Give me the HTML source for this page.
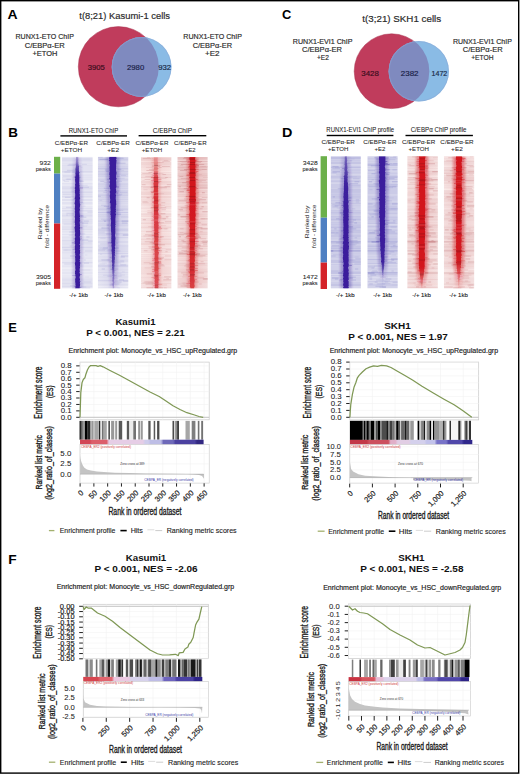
<!DOCTYPE html>
<html><head><meta charset="utf-8"><title>Figure</title>
<style>html,body{margin:0;padding:0;background:#fff;width:520px;height:775px;overflow:hidden}svg{display:block}text{font-family:"Liberation Sans",sans-serif}</style>
</head><body>
<svg width="520" height="775" viewBox="0 0 520 775" font-family="Liberation Sans, sans-serif">
<rect x="0" y="0" width="520" height="775" fill="#fff"/>
<text x="7.50" y="18.75" font-size="12" font-weight="bold" fill="#000" textLength="10.10" lengthAdjust="spacingAndGlyphs" >A</text>
<text x="8.30" y="137.00" font-size="12" font-weight="bold" fill="#000" textLength="9.70" lengthAdjust="spacingAndGlyphs" >B</text>
<text x="282.10" y="19.20" font-size="12" font-weight="bold" fill="#000" textLength="9.30" lengthAdjust="spacingAndGlyphs" >C</text>
<text x="282.00" y="137.00" font-size="12" font-weight="bold" fill="#000" textLength="10.40" lengthAdjust="spacingAndGlyphs" >D</text>
<text x="8.30" y="331.75" font-size="12" font-weight="bold" fill="#000" textLength="8.60" lengthAdjust="spacingAndGlyphs" >E</text>
<text x="8.30" y="564.25" font-size="12" font-weight="bold" fill="#000" textLength="8.40" lengthAdjust="spacingAndGlyphs" >F</text>
<circle cx="118.4" cy="66.7" r="40.1" fill="#c03c5c" stroke="#a8304e" stroke-width="0.7" stroke-opacity="0.7"/>
<circle cx="141.6" cy="67.0" r="29.9" fill="#8abbe5"/>
<clipPath id="cp118"><circle cx="118.4" cy="66.7" r="40.4"/></clipPath>
<circle cx="141.6" cy="67.0" r="29.9" fill="#7f8abf" clip-path="url(#cp118)"/>
<circle cx="141.6" cy="67.0" r="29.4" fill="none" stroke="#8ea6d4" stroke-width="0.8" opacity="0.6"/>
<circle cx="391.6" cy="71.2" r="37.400000000000006" fill="#c03c5c" stroke="#a8304e" stroke-width="0.7" stroke-opacity="0.7"/>
<circle cx="418.8" cy="71.3" r="30.2" fill="#8abbe5"/>
<clipPath id="cp391"><circle cx="391.6" cy="71.2" r="37.7"/></clipPath>
<circle cx="418.8" cy="71.3" r="30.2" fill="#7f8abf" clip-path="url(#cp391)"/>
<circle cx="418.8" cy="71.3" r="29.7" fill="none" stroke="#8ea6d4" stroke-width="0.8" opacity="0.6"/>
<text x="79.32" y="19.10" font-size="9.6" font-weight="normal" fill="#2a2a2a" textLength="90.76" lengthAdjust="spacingAndGlyphs"  stroke="#2a2a2a" stroke-width="0.18">t(8;21) Kasumi-1 cells</text>
<text x="362.32" y="21.80" font-size="9.6" font-weight="normal" fill="#2a2a2a" textLength="78.86" lengthAdjust="spacingAndGlyphs"  stroke="#2a2a2a" stroke-width="0.18">t(3;21) SKH1 cells</text>
<text x="15.50" y="39.40" font-size="8" font-weight="normal" fill="#2a2a2a" textLength="58.40" lengthAdjust="spacingAndGlyphs"  stroke="#2a2a2a" stroke-width="0.18">RUNX1-ETO ChIP</text>
<text x="24.70" y="47.80" font-size="8" font-weight="normal" fill="#2a2a2a" textLength="40.00" lengthAdjust="spacingAndGlyphs"  stroke="#2a2a2a" stroke-width="0.18">C/EBPα-ER</text>
<text x="32.50" y="56.20" font-size="8" font-weight="normal" fill="#2a2a2a" textLength="25.00" lengthAdjust="spacingAndGlyphs"  stroke="#2a2a2a" stroke-width="0.18">+ETOH</text>
<text x="183.30" y="39.30" font-size="8" font-weight="normal" fill="#2a2a2a" textLength="58.60" lengthAdjust="spacingAndGlyphs"  stroke="#2a2a2a" stroke-width="0.18">RUNX1-ETO ChIP</text>
<text x="192.70" y="47.50" font-size="8" font-weight="normal" fill="#2a2a2a" textLength="39.40" lengthAdjust="spacingAndGlyphs"  stroke="#2a2a2a" stroke-width="0.18">C/EBPα-ER</text>
<text x="205.10" y="55.70" font-size="8" font-weight="normal" fill="#2a2a2a" textLength="14.50" lengthAdjust="spacingAndGlyphs"  stroke="#2a2a2a" stroke-width="0.18">+E2</text>
<text x="292.80" y="43.80" font-size="8" font-weight="normal" fill="#2a2a2a" textLength="59.70" lengthAdjust="spacingAndGlyphs"  stroke="#2a2a2a" stroke-width="0.18">RUNX1-EVI1 ChIP</text>
<text x="302.00" y="52.00" font-size="8" font-weight="normal" fill="#2a2a2a" textLength="40.00" lengthAdjust="spacingAndGlyphs"  stroke="#2a2a2a" stroke-width="0.18">C/EBPα-ER</text>
<text x="317.00" y="60.20" font-size="8" font-weight="normal" fill="#2a2a2a" textLength="11.90" lengthAdjust="spacingAndGlyphs"  stroke="#2a2a2a" stroke-width="0.18">+E2</text>
<text x="452.90" y="43.80" font-size="8" font-weight="normal" fill="#2a2a2a" textLength="59.00" lengthAdjust="spacingAndGlyphs"  stroke="#2a2a2a" stroke-width="0.18">RUNX1-EVI1 ChIP</text>
<text x="462.70" y="52.00" font-size="8" font-weight="normal" fill="#2a2a2a" textLength="40.00" lengthAdjust="spacingAndGlyphs"  stroke="#2a2a2a" stroke-width="0.18">C/EBPα-ER</text>
<text x="471.20" y="60.20" font-size="8" font-weight="normal" fill="#2a2a2a" textLength="22.40" lengthAdjust="spacingAndGlyphs"  stroke="#2a2a2a" stroke-width="0.18">+ETOH</text>
<text x="87.72" y="69.80" font-size="7.6" font-weight="normal" fill="#3a0d1c" textLength="17.06" lengthAdjust="spacingAndGlyphs"  stroke="#3a0d1c" stroke-width="0.18">3905</text>
<text x="127.02" y="69.80" font-size="7.6" font-weight="normal" fill="#1a1f48" textLength="17.16" lengthAdjust="spacingAndGlyphs"  stroke="#1a1f48" stroke-width="0.18">2980</text>
<text x="158.22" y="69.80" font-size="7.6" font-weight="normal" fill="#1a2a48" textLength="12.86" lengthAdjust="spacingAndGlyphs"  stroke="#1a2a48" stroke-width="0.18">932</text>
<text x="361.32" y="76.40" font-size="7.6" font-weight="normal" fill="#3a0d1c" textLength="17.56" lengthAdjust="spacingAndGlyphs"  stroke="#3a0d1c" stroke-width="0.18">3428</text>
<text x="400.82" y="76.40" font-size="7.6" font-weight="normal" fill="#1a1f48" textLength="17.66" lengthAdjust="spacingAndGlyphs"  stroke="#1a1f48" stroke-width="0.18">2382</text>
<text x="431.52" y="76.40" font-size="7.6" font-weight="normal" fill="#1a2a48" textLength="15.76" lengthAdjust="spacingAndGlyphs"  stroke="#1a2a48" stroke-width="0.18">1472</text>
<text x="68.66" y="132.50" font-size="6.8" font-weight="normal" fill="#222" textLength="49.48" lengthAdjust="spacingAndGlyphs"  stroke="#222" stroke-width="0.06">RUNX1-ETO ChIP</text>
<rect x="60.40" y="135.20" width="66.60" height="1.40" fill="#000" />
<text x="152.86" y="132.60" font-size="6.8" font-weight="normal" fill="#222" textLength="39.18" lengthAdjust="spacingAndGlyphs"  stroke="#222" stroke-width="0.06">C/EBPα ChIP</text>
<rect x="138.60" y="135.00" width="67.70" height="1.40" fill="#000" />
<text x="326.37" y="132.30" font-size="6.6" font-weight="normal" fill="#222" textLength="67.66" lengthAdjust="spacingAndGlyphs"  stroke="#222" stroke-width="0.06">RUNX1-EVI1 ChIP profile</text>
<rect x="326.70" y="134.80" width="66.70" height="1.40" fill="#000" />
<text x="410.67" y="131.80" font-size="6.6" font-weight="normal" fill="#222" textLength="55.86" lengthAdjust="spacingAndGlyphs"  stroke="#222" stroke-width="0.06">C/EBPα ChIP profile</text>
<rect x="405.50" y="134.80" width="67.40" height="1.40" fill="#000" />
<text x="54.89" y="145.10" font-size="6.2" font-weight="normal" fill="#222" textLength="33.12" lengthAdjust="spacingAndGlyphs"  stroke="#222" stroke-width="0.06">C/EBPα-ER</text>
<text x="60.74" y="152.00" font-size="6.2" font-weight="normal" fill="#222" textLength="21.42" lengthAdjust="spacingAndGlyphs"  stroke="#222" stroke-width="0.06">+ETOH</text>
<text x="96.39" y="145.10" font-size="6.2" font-weight="normal" fill="#222" textLength="33.52" lengthAdjust="spacingAndGlyphs"  stroke="#222" stroke-width="0.06">C/EBPα-ER</text>
<text x="107.24" y="152.00" font-size="6.2" font-weight="normal" fill="#222" textLength="11.82" lengthAdjust="spacingAndGlyphs"  stroke="#222" stroke-width="0.06">+E2</text>
<text x="135.49" y="145.40" font-size="6.2" font-weight="normal" fill="#222" textLength="33.02" lengthAdjust="spacingAndGlyphs"  stroke="#222" stroke-width="0.06">C/EBPα-ER</text>
<text x="141.69" y="152.30" font-size="6.2" font-weight="normal" fill="#222" textLength="20.62" lengthAdjust="spacingAndGlyphs"  stroke="#222" stroke-width="0.06">+ETOH</text>
<text x="173.99" y="145.40" font-size="6.2" font-weight="normal" fill="#222" textLength="32.62" lengthAdjust="spacingAndGlyphs"  stroke="#222" stroke-width="0.06">C/EBPα-ER</text>
<text x="184.99" y="152.30" font-size="6.2" font-weight="normal" fill="#222" textLength="10.62" lengthAdjust="spacingAndGlyphs"  stroke="#222" stroke-width="0.06">+E2</text>
<text x="321.59" y="144.40" font-size="6.2" font-weight="normal" fill="#222" textLength="33.32" lengthAdjust="spacingAndGlyphs"  stroke="#222" stroke-width="0.06">C/EBPα-ER</text>
<text x="328.09" y="151.20" font-size="6.2" font-weight="normal" fill="#222" textLength="20.32" lengthAdjust="spacingAndGlyphs"  stroke="#222" stroke-width="0.06">+ETOH</text>
<text x="363.39" y="144.40" font-size="6.2" font-weight="normal" fill="#222" textLength="33.02" lengthAdjust="spacingAndGlyphs"  stroke="#222" stroke-width="0.06">C/EBPα-ER</text>
<text x="374.49" y="151.20" font-size="6.2" font-weight="normal" fill="#222" textLength="10.82" lengthAdjust="spacingAndGlyphs"  stroke="#222" stroke-width="0.06">+E2</text>
<text x="402.09" y="143.70" font-size="6.2" font-weight="normal" fill="#222" textLength="33.22" lengthAdjust="spacingAndGlyphs"  stroke="#222" stroke-width="0.06">C/EBPα-ER</text>
<text x="408.54" y="150.80" font-size="6.2" font-weight="normal" fill="#222" textLength="20.32" lengthAdjust="spacingAndGlyphs"  stroke="#222" stroke-width="0.06">+ETOH</text>
<text x="440.39" y="143.70" font-size="6.2" font-weight="normal" fill="#222" textLength="33.22" lengthAdjust="spacingAndGlyphs"  stroke="#222" stroke-width="0.06">C/EBPα-ER</text>
<text x="451.14" y="150.80" font-size="6.2" font-weight="normal" fill="#222" textLength="11.72" lengthAdjust="spacingAndGlyphs"  stroke="#222" stroke-width="0.06">+E2</text>
<text x="39.50" y="165.00" font-size="6.0" font-weight="normal" fill="#222" textLength="11.40" lengthAdjust="spacingAndGlyphs"  stroke="#222" stroke-width="0.06">932</text>
<text x="35.80" y="171.00" font-size="6.0" font-weight="normal" fill="#222" textLength="15.10" lengthAdjust="spacingAndGlyphs"  stroke="#222" stroke-width="0.06">peaks</text>
<text x="35.90" y="279.30" font-size="6.0" font-weight="normal" fill="#222" textLength="15.00" lengthAdjust="spacingAndGlyphs"  stroke="#222" stroke-width="0.06">3905</text>
<text x="35.80" y="285.20" font-size="6.0" font-weight="normal" fill="#222" textLength="15.10" lengthAdjust="spacingAndGlyphs"  stroke="#222" stroke-width="0.06">peaks</text>
<text x="302.70" y="165.00" font-size="6.0" font-weight="normal" fill="#222" textLength="15.00" lengthAdjust="spacingAndGlyphs"  stroke="#222" stroke-width="0.06">3428</text>
<text x="302.60" y="171.00" font-size="6.0" font-weight="normal" fill="#222" textLength="15.10" lengthAdjust="spacingAndGlyphs"  stroke="#222" stroke-width="0.06">peaks</text>
<text x="302.70" y="279.00" font-size="6.0" font-weight="normal" fill="#222" textLength="15.00" lengthAdjust="spacingAndGlyphs"  stroke="#222" stroke-width="0.06">1472</text>
<text x="302.60" y="285.00" font-size="6.0" font-weight="normal" fill="#222" textLength="15.10" lengthAdjust="spacingAndGlyphs"  stroke="#222" stroke-width="0.06">peaks</text>
<text transform="translate(42.00,239.30) rotate(-90)" x="0" y="0" font-size="6.0" font-weight="normal" fill="#222" textLength="31.60" lengthAdjust="spacingAndGlyphs" >Ranked by</text>
<text transform="translate(48.80,248.00) rotate(-90)" x="0" y="0" font-size="6.0" font-weight="normal" fill="#222" textLength="43.10" lengthAdjust="spacingAndGlyphs" >fold - difference</text>
<text transform="translate(308.80,238.30) rotate(-90)" x="0" y="0" font-size="6.0" font-weight="normal" fill="#222" textLength="32.60" lengthAdjust="spacingAndGlyphs" >Ranked by</text>
<text transform="translate(316.00,248.00) rotate(-90)" x="0" y="0" font-size="6.0" font-weight="normal" fill="#222" textLength="43.30" lengthAdjust="spacingAndGlyphs" >fold - difference</text>
<rect x="54.00" y="156.80" width="6.20" height="16.80" fill="#6cb04a" />
<rect x="54.00" y="173.60" width="6.20" height="49.90" fill="#4f80c2" />
<rect x="54.00" y="223.50" width="6.20" height="65.30" fill="#d42329" />
<rect x="320.60" y="156.20" width="6.40" height="61.50" fill="#6cb04a" />
<rect x="320.60" y="217.70" width="6.40" height="44.90" fill="#4f80c2" />
<rect x="320.60" y="262.60" width="6.40" height="26.40" fill="#d42329" />
<text x="69.31" y="297.40" font-size="5.8" font-weight="normal" fill="#222" textLength="18.58" lengthAdjust="spacingAndGlyphs"  stroke="#222" stroke-width="0.12">-/+ 1kb</text>
<text x="104.56" y="297.40" font-size="5.8" font-weight="normal" fill="#222" textLength="18.58" lengthAdjust="spacingAndGlyphs"  stroke="#222" stroke-width="0.12">-/+ 1kb</text>
<text x="147.21" y="297.40" font-size="5.8" font-weight="normal" fill="#222" textLength="18.58" lengthAdjust="spacingAndGlyphs"  stroke="#222" stroke-width="0.12">-/+ 1kb</text>
<text x="183.11" y="297.40" font-size="5.8" font-weight="normal" fill="#222" textLength="18.58" lengthAdjust="spacingAndGlyphs"  stroke="#222" stroke-width="0.12">-/+ 1kb</text>
<text x="336.11" y="297.40" font-size="5.8" font-weight="normal" fill="#222" textLength="18.58" lengthAdjust="spacingAndGlyphs"  stroke="#222" stroke-width="0.12">-/+ 1kb</text>
<text x="373.31" y="297.40" font-size="5.8" font-weight="normal" fill="#222" textLength="18.58" lengthAdjust="spacingAndGlyphs"  stroke="#222" stroke-width="0.12">-/+ 1kb</text>
<text x="412.21" y="297.40" font-size="5.8" font-weight="normal" fill="#222" textLength="18.58" lengthAdjust="spacingAndGlyphs"  stroke="#222" stroke-width="0.12">-/+ 1kb</text>
<text x="449.21" y="297.40" font-size="5.8" font-weight="normal" fill="#222" textLength="18.58" lengthAdjust="spacingAndGlyphs"  stroke="#222" stroke-width="0.12">-/+ 1kb</text>
<filter id="hblur" x="-20%" y="-2%" width="140%" height="104%"><feGaussianBlur stdDeviation="0.55"/></filter>
<filter id="hitblur" x="-2%" y="-5%" width="104%" height="110%"><feGaussianBlur stdDeviation="0.3 0"/></filter>
<filter id="hblur2" x="-30%" y="-2%" width="160%" height="104%"><feGaussianBlur stdDeviation="1.2"/></filter>
<linearGradient id="bg_b1" x1="0" y1="0" x2="0" y2="1"><stop offset="0.000" stop-color="#3a1f9c" stop-opacity="0.300"/><stop offset="0.040" stop-color="#3a1f9c" stop-opacity="0.450"/><stop offset="0.080" stop-color="#3a1f9c" stop-opacity="0.750"/><stop offset="0.140" stop-color="#3a1f9c" stop-opacity="1.000"/><stop offset="0.250" stop-color="#3a1f9c" stop-opacity="1.000"/><stop offset="0.400" stop-color="#3a1f9c" stop-opacity="1.000"/><stop offset="0.700" stop-color="#3a1f9c" stop-opacity="1.000"/><stop offset="1.000" stop-color="#3a1f9c" stop-opacity="1.000"/></linearGradient>
<linearGradient id="hg_b1" x1="0" y1="0" x2="0" y2="1"><stop offset="0.000" stop-color="#3a1f9c" stop-opacity="0.075"/><stop offset="0.040" stop-color="#3a1f9c" stop-opacity="0.113"/><stop offset="0.080" stop-color="#3a1f9c" stop-opacity="0.188"/><stop offset="0.140" stop-color="#3a1f9c" stop-opacity="0.250"/><stop offset="0.250" stop-color="#3a1f9c" stop-opacity="0.250"/><stop offset="0.400" stop-color="#3a1f9c" stop-opacity="0.250"/><stop offset="0.700" stop-color="#3a1f9c" stop-opacity="0.250"/><stop offset="1.000" stop-color="#3a1f9c" stop-opacity="0.250"/></linearGradient>
<clipPath id="cl_b1"><rect x="62.0" y="156.8" width="30.799999999999997" height="131.59999999999997"/></clipPath>
<g clip-path="url(#cl_b1)"><g filter="url(#hblur)">
<path d="M62.0 181.72h30.8v1.05h-30.8zM62.0 197.68h30.8v1.05h-30.8zM62.0 200.67h30.8v1.05h-30.8zM62.0 204.65h30.8v1.05h-30.8zM62.0 217.62h30.8v1.05h-30.8zM62.0 267.46h30.8v1.05h-30.8zM62.0 274.44h30.8v1.05h-30.8zM62.0 276.44h30.8v1.05h-30.8z" fill="#eeeef6"/>
<path d="M62.0 156.80h30.8v1.05h-30.8zM62.0 172.75h30.8v1.05h-30.8zM62.0 180.73h30.8v1.05h-30.8zM62.0 184.72h30.8v1.05h-30.8zM74.4 197.68h7.0v1.05h-7.0zM62.0 206.65h30.8v1.05h-30.8zM62.0 208.64h30.8v1.05h-30.8zM62.0 211.63h30.8v1.05h-30.8zM62.0 223.60h30.8v1.05h-30.8zM62.0 224.59h30.8v1.05h-30.8zM62.0 227.58h30.8v1.05h-30.8zM62.0 229.58h30.8v1.05h-30.8zM62.0 230.58h30.8v1.05h-30.8zM62.0 232.57h30.8v1.05h-30.8zM62.0 235.56h30.8v1.05h-30.8zM62.0 254.50h30.8v1.05h-30.8zM62.0 256.50h30.8v1.05h-30.8zM62.0 259.49h30.8v1.05h-30.8zM62.0 260.48h30.8v1.05h-30.8zM62.0 264.47h30.8v1.05h-30.8zM62.0 268.46h30.8v1.05h-30.8zM62.0 269.46h30.8v1.05h-30.8zM62.0 270.45h30.8v1.05h-30.8zM84.6 276.44h4.8v1.05h-4.8z" fill="#e8e8f3"/>
<path d="M62.0 161.78h30.8v1.05h-30.8zM62.0 163.78h30.8v1.05h-30.8zM62.0 165.77h30.8v1.05h-30.8zM62.0 166.77h30.8v1.05h-30.8zM62.0 167.77h30.8v1.05h-30.8zM62.0 168.76h30.8v1.05h-30.8zM62.0 169.76h30.8v1.05h-30.8zM62.0 173.75h30.8v1.05h-30.8zM62.0 175.74h30.8v1.05h-30.8zM62.0 177.74h30.8v1.05h-30.8zM62.0 179.73h30.8v1.05h-30.8zM62.0 183.72h30.8v1.05h-30.8zM62.0 189.70h30.8v1.05h-30.8zM62.0 192.69h30.8v1.05h-30.8zM62.0 194.68h30.8v1.05h-30.8zM62.0 202.66h30.8v1.05h-30.8zM62.0 203.66h30.8v1.05h-30.8zM62.0 205.65h30.8v1.05h-30.8zM62.0 213.63h30.8v1.05h-30.8zM62.0 216.62h30.8v1.05h-30.8zM62.0 219.61h30.8v1.05h-30.8zM62.0 221.60h30.8v1.05h-30.8zM80.4 224.59h7.9v1.05h-7.9zM62.0 225.59h30.8v1.05h-30.8zM70.9 230.58h5.3v1.05h-5.3zM62.0 233.57h30.8v1.05h-30.8zM62.0 234.56h30.8v1.05h-30.8zM62.0 238.55h30.8v1.05h-30.8zM62.0 242.54h30.8v1.05h-30.8zM62.0 243.54h30.8v1.05h-30.8zM62.0 244.53h30.8v1.05h-30.8zM62.0 248.52h30.8v1.05h-30.8zM62.0 249.52h30.8v1.05h-30.8zM62.0 251.51h30.8v1.05h-30.8zM62.0 252.51h30.8v1.05h-30.8zM84.9 254.50h2.5v1.05h-2.5zM62.0 258.49h30.8v1.05h-30.8zM62.0 263.48h30.8v1.05h-30.8zM62.0 266.47h30.8v1.05h-30.8zM62.0 271.45h30.8v1.05h-30.8zM62.0 273.45h30.8v1.05h-30.8zM62.0 278.43h30.8v1.05h-30.8zM62.0 280.42h30.8v1.05h-30.8zM62.0 287.40h30.8v1.05h-30.8z" fill="#e2e2f1"/>
<path d="M62.0 157.80h30.8v1.05h-30.8zM62.0 158.79h30.8v1.05h-30.8zM62.0 159.79h30.8v1.05h-30.8zM62.0 160.79h30.8v1.05h-30.8zM62.0 162.78h30.8v1.05h-30.8zM62.0 174.75h30.8v1.05h-30.8zM63.0 175.74h8.7v1.05h-8.7zM62.0 176.74h30.8v1.05h-30.8zM62.0 178.73h30.8v1.05h-30.8zM63.9 180.73h5.2v1.05h-5.2zM62.0 182.72h30.8v1.05h-30.8zM78.7 184.72h9.0v1.05h-9.0zM62.0 185.71h30.8v1.05h-30.8zM62.0 187.71h30.8v1.05h-30.8zM62.0 188.70h30.8v1.05h-30.8zM62.0 190.70h30.8v1.05h-30.8zM62.0 193.69h30.8v1.05h-30.8zM62.0 195.68h30.8v1.05h-30.8zM62.0 196.68h30.8v1.05h-30.8zM62.0 198.67h30.8v1.05h-30.8zM62.0 201.66h30.8v1.05h-30.8zM83.2 205.65h2.4v1.05h-2.4zM62.0 209.64h30.8v1.05h-30.8zM62.0 210.64h30.8v1.05h-30.8zM87.4 211.63h5.4v1.05h-5.4zM62.0 212.63h30.8v1.05h-30.8zM62.0 214.62h30.8v1.05h-30.8zM62.0 215.62h30.8v1.05h-30.8zM62.0 218.61h30.8v1.05h-30.8zM62.0 220.61h30.8v1.05h-30.8zM72.5 221.60h6.8v1.05h-6.8zM62.0 222.60h30.8v1.05h-30.8zM66.5 223.60h3.1v1.05h-3.1zM63.6 223.60h8.7v1.05h-8.7zM64.5 223.60h4.7v1.05h-4.7zM82.7 225.59h4.3v1.05h-4.3zM62.0 226.59h30.8v1.05h-30.8zM62.0 231.57h30.8v1.05h-30.8zM62.0 237.55h30.8v1.05h-30.8zM62.0 239.55h30.8v1.05h-30.8zM62.0 240.55h30.8v1.05h-30.8zM83.2 242.54h8.4v1.05h-8.4zM78.3 243.54h5.2v1.05h-5.2zM62.0 245.53h30.8v1.05h-30.8zM62.0 250.52h30.8v1.05h-30.8zM62.0 253.51h30.8v1.05h-30.8zM62.0 255.50h30.8v1.05h-30.8zM62.0 261.48h30.8v1.05h-30.8zM62.0 262.48h30.8v1.05h-30.8zM62.0 265.47h30.8v1.05h-30.8zM81.4 269.46h8.9v1.05h-8.9zM62.0 272.45h30.8v1.05h-30.8zM62.0 275.44h30.8v1.05h-30.8zM74.4 278.43h4.6v1.05h-4.6zM62.0 282.42h30.8v1.05h-30.8zM62.0 283.42h30.8v1.05h-30.8zM62.0 285.41h30.8v1.05h-30.8zM62.0 286.41h30.8v1.05h-30.8zM71.9 287.40h7.0v1.05h-7.0z" fill="#dcdcee"/>
<path d="M83.2 158.79h6.9v1.05h-6.9zM82.1 163.78h4.8v1.05h-4.8zM62.0 164.78h30.8v1.05h-30.8zM80.5 166.77h2.1v1.05h-2.1zM73.0 168.76h3.5v1.05h-3.5zM62.0 171.75h30.8v1.05h-30.8zM62.9 179.73h2.1v1.05h-2.1zM78.7 180.73h5.4v1.05h-5.4zM62.0 186.71h30.8v1.05h-30.8zM69.9 187.71h6.7v1.05h-6.7zM71.2 190.70h8.3v1.05h-8.3zM62.8 193.69h8.1v1.05h-8.1zM62.0 199.67h30.8v1.05h-30.8zM73.5 205.65h5.9v1.05h-5.9zM65.9 206.65h5.6v1.05h-5.6zM62.0 207.65h30.8v1.05h-30.8zM73.4 213.63h7.7v1.05h-7.7zM68.8 214.62h6.9v1.05h-6.9zM76.9 221.60h4.5v1.05h-4.5zM62.0 228.58h30.8v1.05h-30.8zM78.1 233.57h7.2v1.05h-7.2zM68.8 234.56h3.9v1.05h-3.9zM62.0 236.56h30.8v1.05h-30.8zM87.9 240.55h4.9v1.05h-4.9zM62.0 241.54h30.8v1.05h-30.8zM62.0 246.53h30.8v1.05h-30.8zM62.0 247.52h30.8v1.05h-30.8zM63.6 249.52h3.9v1.05h-3.9zM63.0 249.52h3.6v1.05h-3.6zM62.0 257.49h30.8v1.05h-30.8zM83.7 259.49h2.2v1.05h-2.2zM64.1 263.48h7.2v1.05h-7.2zM74.8 265.47h7.6v1.05h-7.6zM62.0 277.43h30.8v1.05h-30.8zM62.0 281.42h30.8v1.05h-30.8zM62.0 284.41h30.8v1.05h-30.8z" fill="#d7d7ec"/>
<path d="M68.6 163.78h7.3v1.05h-7.3zM66.9 169.76h9.0v1.05h-9.0zM62.0 170.76h30.8v1.05h-30.8zM64.4 171.75h6.1v1.05h-6.1zM71.7 171.75h6.4v1.05h-6.4zM65.6 178.73h5.2v1.05h-5.2zM77.7 186.71h5.4v1.05h-5.4zM62.0 191.69h30.8v1.05h-30.8zM76.3 210.64h3.9v1.05h-3.9zM66.4 212.63h8.5v1.05h-8.5zM66.1 214.62h2.1v1.05h-2.1zM78.6 216.62h7.8v1.05h-7.8zM75.2 221.60h7.3v1.05h-7.3zM69.1 231.57h8.7v1.05h-8.7zM69.6 245.53h2.9v1.05h-2.9zM64.3 249.52h6.7v1.05h-6.7zM84.8 250.52h7.6v1.05h-7.6zM78.6 263.48h3.0v1.05h-3.0zM62.0 279.43h30.8v1.05h-30.8zM83.5 281.42h7.9v1.05h-7.9zM82.2 287.40h8.0v1.05h-8.0z" fill="#d1d1e9"/>
<path d="M67.5 164.78h8.4v1.05h-8.4zM74.5 176.74h6.6v1.05h-6.6zM66.6 178.73h4.6v1.05h-4.6zM82.4 186.71h6.6v1.05h-6.6zM64.9 196.68h5.7v1.05h-5.7zM76.4 201.66h6.6v1.05h-6.6zM81.1 215.62h2.9v1.05h-2.9zM83.8 220.61h5.0v1.05h-5.0zM81.9 222.60h6.3v1.05h-6.3zM86.4 236.56h3.1v1.05h-3.1zM82.2 239.55h6.1v1.05h-6.1zM70.1 255.50h8.4v1.05h-8.4zM70.0 255.50h7.1v1.05h-7.1zM75.5 262.48h5.8v1.05h-5.8zM84.0 262.48h5.0v1.05h-5.0zM74.6 282.42h5.3v1.05h-5.3zM70.0 285.41h5.3v1.05h-5.3zM79.5 286.41h6.7v1.05h-6.7z" fill="#cbcbe7"/>
</g>
<path d="M73.56 156.80 L73.44 157.80 L73.57 158.79 L73.26 159.79 L73.47 160.79 L73.39 161.78 L73.32 162.78 L73.33 163.78 L73.27 164.78 L73.43 165.77 L73.26 166.77 L73.16 167.77 L72.95 168.76 L72.90 169.76 L73.02 170.76 L73.03 171.75 L72.94 172.75 L72.79 173.75 L73.04 174.75 L72.91 175.74 L72.74 176.74 L72.51 177.74 L72.76 178.73 L72.48 179.73 L72.64 180.73 L72.64 181.72 L72.87 182.72 L72.81 183.72 L72.48 184.72 L72.69 185.71 L72.68 186.71 L72.35 187.71 L72.35 188.70 L72.72 189.70 L72.31 190.70 L72.58 191.69 L72.38 192.69 L72.67 193.69 L72.68 194.68 L72.64 195.68 L72.60 196.68 L72.34 197.68 L72.29 198.67 L72.77 199.67 L72.41 200.67 L72.41 201.66 L72.19 202.66 L72.07 203.66 L72.53 204.65 L72.56 205.65 L72.48 206.65 L72.41 207.65 L72.20 208.64 L72.35 209.64 L72.66 210.64 L72.21 211.63 L72.46 212.63 L72.59 213.63 L72.43 214.62 L72.58 215.62 L72.19 216.62 L72.34 217.62 L72.54 218.61 L72.47 219.61 L72.39 220.61 L72.31 221.60 L72.26 222.60 L72.53 223.60 L72.33 224.59 L72.70 225.59 L72.44 226.59 L71.97 227.58 L72.21 228.58 L72.35 229.58 L72.39 230.58 L72.43 231.57 L72.70 232.57 L72.58 233.57 L72.45 234.56 L72.36 235.56 L72.77 236.56 L72.69 237.55 L72.39 238.55 L72.48 239.55 L72.50 240.55 L72.16 241.54 L72.50 242.54 L72.27 243.54 L72.71 244.53 L72.57 245.53 L72.33 246.53 L72.46 247.52 L72.35 248.52 L72.45 249.52 L72.63 250.52 L72.53 251.51 L72.34 252.51 L72.73 253.51 L72.61 254.50 L72.97 255.50 L72.56 256.50 L72.57 257.49 L72.76 258.49 L72.68 259.49 L72.75 260.48 L72.81 261.48 L72.56 262.48 L72.36 263.48 L72.53 264.47 L72.68 265.47 L72.84 266.47 L72.72 267.46 L72.76 268.46 L72.97 269.46 L72.83 270.45 L72.42 271.45 L72.63 272.45 L72.46 273.45 L72.83 274.44 L72.71 275.44 L73.05 276.44 L73.16 277.43 L72.83 278.43 L72.58 279.43 L72.72 280.42 L72.63 281.42 L72.79 282.42 L72.98 283.42 L72.85 284.41 L73.11 285.41 L72.86 286.41 L72.92 287.40 L72.63 288.40 L82.14 288.40 L82.28 287.40 L82.31 286.41 L82.52 285.41 L82.61 284.41 L82.38 283.42 L82.52 282.42 L82.31 281.42 L82.32 280.42 L82.57 279.43 L82.36 278.43 L82.05 277.43 L82.23 276.44 L82.58 275.44 L82.67 274.44 L82.37 273.45 L82.00 272.45 L82.44 271.45 L82.19 270.45 L82.16 269.46 L82.30 268.46 L82.55 267.46 L82.28 266.47 L82.51 265.47 L82.48 264.47 L82.62 263.48 L82.69 262.48 L82.18 261.48 L82.52 260.48 L82.20 259.49 L82.59 258.49 L82.56 257.49 L82.66 256.50 L82.30 255.50 L82.18 254.50 L82.51 253.51 L82.65 252.51 L82.48 251.51 L82.64 250.52 L82.20 249.52 L82.51 248.52 L82.39 247.52 L82.53 246.53 L82.63 245.53 L81.97 244.53 L82.59 243.54 L82.48 242.54 L82.44 241.54 L82.56 240.55 L82.72 239.55 L82.42 238.55 L82.41 237.55 L82.20 236.56 L82.54 235.56 L82.56 234.56 L82.68 233.57 L82.58 232.57 L82.53 231.57 L82.56 230.58 L82.32 229.58 L82.49 228.58 L82.57 227.58 L82.27 226.59 L82.59 225.59 L82.39 224.59 L82.34 223.60 L82.20 222.60 L82.36 221.60 L82.67 220.61 L82.30 219.61 L82.51 218.61 L82.10 217.62 L82.61 216.62 L82.35 215.62 L82.33 214.62 L82.28 213.63 L82.22 212.63 L82.02 211.63 L82.21 210.64 L82.59 209.64 L82.20 208.64 L82.23 207.65 L82.46 206.65 L82.51 205.65 L82.80 204.65 L82.50 203.66 L82.29 202.66 L82.36 201.66 L82.21 200.67 L82.19 199.67 L82.58 198.67 L82.57 197.68 L82.20 196.68 L82.29 195.68 L82.47 194.68 L82.07 193.69 L82.26 192.69 L82.07 191.69 L82.37 190.70 L82.23 189.70 L82.17 188.70 L81.98 187.71 L81.92 186.71 L82.27 185.71 L81.83 184.72 L81.95 183.72 L81.75 182.72 L81.74 181.72 L81.77 180.73 L81.88 179.73 L81.86 178.73 L81.96 177.74 L81.77 176.74 L81.83 175.74 L81.70 174.75 L81.53 173.75 L82.12 172.75 L81.50 171.75 L81.47 170.76 L81.32 169.76 L81.48 168.76 L81.33 167.77 L81.51 166.77 L81.20 165.77 L81.20 164.78 L80.89 163.78 L81.03 162.78 L80.93 161.78 L80.76 160.79 L80.92 159.79 L80.80 158.79 L80.83 157.80 L80.69 156.80Z" fill="url(#hg_b1)" filter="url(#hblur2)"/>
<path d="M76.06 156.80 L75.94 157.80 L76.07 158.79 L75.76 159.79 L75.97 160.79 L75.89 161.78 L75.82 162.78 L75.83 163.78 L75.77 164.78 L75.93 165.77 L75.76 166.77 L75.66 167.77 L75.45 168.76 L75.40 169.76 L75.52 170.76 L75.53 171.75 L75.44 172.75 L75.29 173.75 L75.54 174.75 L75.41 175.74 L75.24 176.74 L75.01 177.74 L75.26 178.73 L74.98 179.73 L75.14 180.73 L75.14 181.72 L75.37 182.72 L75.31 183.72 L74.98 184.72 L75.19 185.71 L75.18 186.71 L74.85 187.71 L74.85 188.70 L75.22 189.70 L74.81 190.70 L75.08 191.69 L74.88 192.69 L75.17 193.69 L75.18 194.68 L75.14 195.68 L75.10 196.68 L74.84 197.68 L74.79 198.67 L75.27 199.67 L74.91 200.67 L74.91 201.66 L74.69 202.66 L74.57 203.66 L75.03 204.65 L75.06 205.65 L74.98 206.65 L74.91 207.65 L74.70 208.64 L74.85 209.64 L75.16 210.64 L74.71 211.63 L74.96 212.63 L75.09 213.63 L74.93 214.62 L75.08 215.62 L74.69 216.62 L74.84 217.62 L75.04 218.61 L74.97 219.61 L74.89 220.61 L74.81 221.60 L74.76 222.60 L75.03 223.60 L74.83 224.59 L75.20 225.59 L74.94 226.59 L74.47 227.58 L74.71 228.58 L74.85 229.58 L74.89 230.58 L74.93 231.57 L75.20 232.57 L75.08 233.57 L74.95 234.56 L74.86 235.56 L75.27 236.56 L75.19 237.55 L74.89 238.55 L74.98 239.55 L75.00 240.55 L74.66 241.54 L75.00 242.54 L74.77 243.54 L75.21 244.53 L75.07 245.53 L74.83 246.53 L74.96 247.52 L74.85 248.52 L74.95 249.52 L75.13 250.52 L75.03 251.51 L74.84 252.51 L75.23 253.51 L75.11 254.50 L75.47 255.50 L75.06 256.50 L75.07 257.49 L75.26 258.49 L75.18 259.49 L75.25 260.48 L75.31 261.48 L75.06 262.48 L74.86 263.48 L75.03 264.47 L75.18 265.47 L75.34 266.47 L75.22 267.46 L75.26 268.46 L75.47 269.46 L75.33 270.45 L74.92 271.45 L75.13 272.45 L74.96 273.45 L75.33 274.44 L75.21 275.44 L75.55 276.44 L75.66 277.43 L75.33 278.43 L75.08 279.43 L75.22 280.42 L75.13 281.42 L75.29 282.42 L75.48 283.42 L75.35 284.41 L75.61 285.41 L75.36 286.41 L75.42 287.40 L75.13 288.40 L79.64 288.40 L79.78 287.40 L79.81 286.41 L80.02 285.41 L80.11 284.41 L79.88 283.42 L80.02 282.42 L79.81 281.42 L79.82 280.42 L80.07 279.43 L79.86 278.43 L79.55 277.43 L79.73 276.44 L80.08 275.44 L80.17 274.44 L79.87 273.45 L79.50 272.45 L79.94 271.45 L79.69 270.45 L79.66 269.46 L79.80 268.46 L80.05 267.46 L79.78 266.47 L80.01 265.47 L79.98 264.47 L80.12 263.48 L80.19 262.48 L79.68 261.48 L80.02 260.48 L79.70 259.49 L80.09 258.49 L80.06 257.49 L80.16 256.50 L79.80 255.50 L79.68 254.50 L80.01 253.51 L80.15 252.51 L79.98 251.51 L80.14 250.52 L79.70 249.52 L80.01 248.52 L79.89 247.52 L80.03 246.53 L80.13 245.53 L79.47 244.53 L80.09 243.54 L79.98 242.54 L79.94 241.54 L80.06 240.55 L80.22 239.55 L79.92 238.55 L79.91 237.55 L79.70 236.56 L80.04 235.56 L80.06 234.56 L80.18 233.57 L80.08 232.57 L80.03 231.57 L80.06 230.58 L79.82 229.58 L79.99 228.58 L80.07 227.58 L79.77 226.59 L80.09 225.59 L79.89 224.59 L79.84 223.60 L79.70 222.60 L79.86 221.60 L80.17 220.61 L79.80 219.61 L80.01 218.61 L79.60 217.62 L80.11 216.62 L79.85 215.62 L79.83 214.62 L79.78 213.63 L79.72 212.63 L79.52 211.63 L79.71 210.64 L80.09 209.64 L79.70 208.64 L79.73 207.65 L79.96 206.65 L80.01 205.65 L80.30 204.65 L80.00 203.66 L79.79 202.66 L79.86 201.66 L79.71 200.67 L79.69 199.67 L80.08 198.67 L80.07 197.68 L79.70 196.68 L79.79 195.68 L79.97 194.68 L79.57 193.69 L79.76 192.69 L79.57 191.69 L79.87 190.70 L79.73 189.70 L79.67 188.70 L79.48 187.71 L79.42 186.71 L79.77 185.71 L79.33 184.72 L79.45 183.72 L79.25 182.72 L79.24 181.72 L79.27 180.73 L79.38 179.73 L79.36 178.73 L79.46 177.74 L79.27 176.74 L79.33 175.74 L79.20 174.75 L79.03 173.75 L79.62 172.75 L79.00 171.75 L78.97 170.76 L78.82 169.76 L78.98 168.76 L78.83 167.77 L79.01 166.77 L78.70 165.77 L78.70 164.78 L78.39 163.78 L78.53 162.78 L78.43 161.78 L78.26 160.79 L78.42 159.79 L78.30 158.79 L78.33 157.80 L78.19 156.80Z" fill="url(#bg_b1)" filter="url(#hblur)"/>
<g filter="url(#hblur)">
<path d="M78.4 165.77h2.3v0.60h-2.3z" fill="#3a1f9c" fill-opacity="0.200"/>
<path d="M79.0 180.73h3.7v0.60h-3.7zM74.0 286.41h1.7v0.60h-1.7z" fill="#3a1f9c" fill-opacity="0.267"/>
<path d="M79.6 215.62h3.0v0.60h-3.0zM79.4 236.56h2.3v0.60h-2.3zM79.6 238.55h2.2v0.60h-2.2zM72.7 249.52h2.6v0.60h-2.6z" fill="#3a1f9c" fill-opacity="0.333"/>
<path d="M79.2 187.71h3.8v0.60h-3.8zM79.8 227.58h2.6v0.60h-2.6zM73.6 238.55h1.6v0.60h-1.6zM71.8 242.54h3.5v0.60h-3.5zM72.3 275.44h3.2v0.60h-3.2z" fill="#3a1f9c" fill-opacity="0.400"/>
<path d="M73.7 198.67h1.4v0.60h-1.4zM79.9 274.44h2.1v0.60h-2.1z" fill="#3a1f9c" fill-opacity="0.467"/>
<path d="M73.8 176.74h1.7v0.60h-1.7zM79.5 281.42h1.3v0.60h-1.3zM79.5 287.40h1.8v0.60h-1.8z" fill="#3a1f9c" fill-opacity="0.533"/>
</g>
</g>
<linearGradient id="hz_b2" x1="0" y1="0" x2="1" y2="0"><stop offset="0" stop-color="#3a1f9c" stop-opacity="0"/><stop offset="0.5" stop-color="#3a1f9c" stop-opacity="0.08"/><stop offset="1" stop-color="#3a1f9c" stop-opacity="0"/></linearGradient>
<linearGradient id="bg_b2" x1="0" y1="0" x2="0" y2="1"><stop offset="0.000" stop-color="#3a1f9c" stop-opacity="1.000"/><stop offset="0.200" stop-color="#3a1f9c" stop-opacity="1.000"/><stop offset="0.400" stop-color="#3a1f9c" stop-opacity="1.000"/><stop offset="0.500" stop-color="#3a1f9c" stop-opacity="1.000"/><stop offset="0.700" stop-color="#3a1f9c" stop-opacity="0.950"/><stop offset="0.820" stop-color="#3a1f9c" stop-opacity="0.800"/><stop offset="0.900" stop-color="#3a1f9c" stop-opacity="0.500"/><stop offset="1.000" stop-color="#3a1f9c" stop-opacity="0.250"/></linearGradient>
<linearGradient id="hg_b2" x1="0" y1="0" x2="0" y2="1"><stop offset="0.000" stop-color="#3a1f9c" stop-opacity="0.300"/><stop offset="0.200" stop-color="#3a1f9c" stop-opacity="0.300"/><stop offset="0.400" stop-color="#3a1f9c" stop-opacity="0.300"/><stop offset="0.500" stop-color="#3a1f9c" stop-opacity="0.300"/><stop offset="0.700" stop-color="#3a1f9c" stop-opacity="0.285"/><stop offset="0.820" stop-color="#3a1f9c" stop-opacity="0.240"/><stop offset="0.900" stop-color="#3a1f9c" stop-opacity="0.150"/><stop offset="1.000" stop-color="#3a1f9c" stop-opacity="0.075"/></linearGradient>
<clipPath id="cl_b2"><rect x="97.8" y="156.8" width="30.700000000000003" height="131.59999999999997"/></clipPath>
<g clip-path="url(#cl_b2)"><g filter="url(#hblur)">
<path d="M97.8 285.41h30.7v1.05h-30.7zM97.8 286.41h30.7v1.05h-30.7z" fill="#eeeef6"/>
<path d="M97.8 254.50h30.7v1.05h-30.7zM97.8 262.48h30.7v1.05h-30.7zM97.8 282.42h30.7v1.05h-30.7z" fill="#e8e8f3"/>
<path d="M97.8 210.64h30.7v1.05h-30.7zM97.8 226.59h30.7v1.05h-30.7zM97.8 231.57h30.7v1.05h-30.7zM97.8 235.56h30.7v1.05h-30.7zM97.8 239.55h30.7v1.05h-30.7zM97.8 243.54h30.7v1.05h-30.7zM97.8 257.49h30.7v1.05h-30.7zM101.7 262.48h5.1v1.05h-5.1zM97.8 263.48h30.7v1.05h-30.7zM97.8 267.46h30.7v1.05h-30.7zM97.8 270.45h30.7v1.05h-30.7zM97.8 273.45h30.7v1.05h-30.7zM97.8 274.44h30.7v1.05h-30.7zM97.8 278.43h30.7v1.05h-30.7z" fill="#e2e2f1"/>
<path d="M97.8 161.78h30.7v1.05h-30.7zM97.8 176.74h30.7v1.05h-30.7zM97.8 181.72h30.7v1.05h-30.7zM97.8 188.70h30.7v1.05h-30.7zM97.8 192.69h30.7v1.05h-30.7zM97.8 202.66h30.7v1.05h-30.7zM97.8 203.66h30.7v1.05h-30.7zM97.8 212.63h30.7v1.05h-30.7zM97.8 214.62h30.7v1.05h-30.7zM97.8 216.62h30.7v1.05h-30.7zM97.8 217.62h30.7v1.05h-30.7zM97.8 218.61h30.7v1.05h-30.7zM97.8 221.60h30.7v1.05h-30.7zM97.8 238.55h30.7v1.05h-30.7zM110.1 239.55h5.1v1.05h-5.1zM97.8 240.55h30.7v1.05h-30.7zM97.8 241.54h30.7v1.05h-30.7zM97.8 242.54h30.7v1.05h-30.7zM97.8 250.52h30.7v1.05h-30.7zM97.8 251.51h30.7v1.05h-30.7zM97.8 255.50h30.7v1.05h-30.7zM97.8 258.49h30.7v1.05h-30.7zM97.8 261.48h30.7v1.05h-30.7zM114.2 262.48h7.0v1.05h-7.0zM99.3 263.48h5.6v1.05h-5.6zM97.8 268.46h30.7v1.05h-30.7zM97.8 271.45h30.7v1.05h-30.7zM97.8 272.45h30.7v1.05h-30.7zM114.5 273.45h6.9v1.05h-6.9zM102.9 274.44h8.3v1.05h-8.3zM97.8 275.44h30.7v1.05h-30.7zM97.8 277.43h30.7v1.05h-30.7zM97.8 281.42h30.7v1.05h-30.7zM97.8 283.42h30.7v1.05h-30.7zM97.8 287.40h30.7v1.05h-30.7z" fill="#dcdcee"/>
<path d="M97.8 156.80h30.7v1.05h-30.7zM97.8 160.79h30.7v1.05h-30.7zM97.8 162.78h30.7v1.05h-30.7zM97.8 164.78h30.7v1.05h-30.7zM97.8 169.76h30.7v1.05h-30.7zM97.8 177.74h30.7v1.05h-30.7zM97.8 179.73h30.7v1.05h-30.7zM97.8 180.73h30.7v1.05h-30.7zM110.5 181.72h5.1v1.05h-5.1zM97.8 185.71h30.7v1.05h-30.7zM97.8 186.71h30.7v1.05h-30.7zM97.8 190.70h30.7v1.05h-30.7zM97.8 191.69h30.7v1.05h-30.7zM120.4 192.69h7.8v1.05h-7.8zM97.8 196.68h30.7v1.05h-30.7zM97.8 197.68h30.7v1.05h-30.7zM97.8 199.67h30.7v1.05h-30.7zM97.8 201.66h30.7v1.05h-30.7zM97.8 204.65h30.7v1.05h-30.7zM97.8 206.65h30.7v1.05h-30.7zM108.2 210.64h3.4v1.05h-3.4zM109.6 218.61h5.7v1.05h-5.7zM97.8 219.61h30.7v1.05h-30.7zM97.8 222.60h30.7v1.05h-30.7zM97.8 223.60h30.7v1.05h-30.7zM97.8 225.59h30.7v1.05h-30.7zM97.8 227.58h30.7v1.05h-30.7zM97.8 230.58h30.7v1.05h-30.7zM98.3 231.57h6.4v1.05h-6.4zM97.8 232.57h30.7v1.05h-30.7zM97.8 233.57h30.7v1.05h-30.7zM97.8 236.56h30.7v1.05h-30.7zM97.8 237.55h30.7v1.05h-30.7zM114.8 239.55h3.5v1.05h-3.5zM97.8 244.53h30.7v1.05h-30.7zM97.8 246.53h30.7v1.05h-30.7zM97.8 248.52h30.7v1.05h-30.7zM97.8 252.51h30.7v1.05h-30.7zM97.8 253.51h30.7v1.05h-30.7zM97.8 256.50h30.7v1.05h-30.7zM97.8 259.49h30.7v1.05h-30.7zM118.5 261.48h5.7v1.05h-5.7zM109.1 261.48h2.8v1.05h-2.8zM97.8 264.47h30.7v1.05h-30.7zM97.8 265.47h30.7v1.05h-30.7zM97.8 266.47h30.7v1.05h-30.7zM97.8 269.46h30.7v1.05h-30.7zM122.0 271.45h2.7v1.05h-2.7zM119.8 274.44h5.0v1.05h-5.0zM109.5 274.44h7.6v1.05h-7.6zM108.0 275.44h4.2v1.05h-4.2zM97.8 276.44h30.7v1.05h-30.7zM97.8 279.43h30.7v1.05h-30.7zM97.8 280.42h30.7v1.05h-30.7zM117.5 282.42h3.2v1.05h-3.2zM97.8 284.41h30.7v1.05h-30.7zM117.4 287.40h2.5v1.05h-2.5z" fill="#d7d7ec"/>
<path d="M113.7 161.78h6.7v1.05h-6.7zM97.8 163.78h30.7v1.05h-30.7zM107.7 164.78h8.0v1.05h-8.0zM97.8 166.77h30.7v1.05h-30.7zM118.5 169.76h5.5v1.05h-5.5zM97.8 171.75h30.7v1.05h-30.7zM97.8 173.75h30.7v1.05h-30.7zM97.8 174.75h30.7v1.05h-30.7zM116.3 177.74h8.3v1.05h-8.3zM113.3 181.72h5.2v1.05h-5.2zM103.7 181.72h8.7v1.05h-8.7zM97.8 182.72h30.7v1.05h-30.7zM97.8 184.72h30.7v1.05h-30.7zM97.8 194.68h30.7v1.05h-30.7zM97.8 195.68h30.7v1.05h-30.7zM99.4 199.67h2.8v1.05h-2.8zM97.8 200.67h30.7v1.05h-30.7zM101.0 204.65h5.4v1.05h-5.4zM97.8 205.65h30.7v1.05h-30.7zM97.8 208.64h30.7v1.05h-30.7zM97.8 209.64h30.7v1.05h-30.7zM115.3 212.63h2.7v1.05h-2.7zM110.5 212.63h2.6v1.05h-2.6zM97.8 213.63h30.7v1.05h-30.7zM97.8 215.62h30.7v1.05h-30.7zM121.0 216.62h7.5v1.05h-7.5zM101.0 218.61h7.8v1.05h-7.8zM97.8 224.59h30.7v1.05h-30.7zM101.0 227.58h2.3v1.05h-2.3zM97.8 228.58h30.7v1.05h-30.7zM114.1 233.57h5.9v1.05h-5.9zM100.3 237.55h5.4v1.05h-5.4zM111.9 242.54h3.2v1.05h-3.2zM100.1 243.54h8.6v1.05h-8.6zM97.8 247.52h30.7v1.05h-30.7zM102.4 248.52h4.1v1.05h-4.1zM97.8 249.52h30.7v1.05h-30.7zM100.0 253.51h2.1v1.05h-2.1zM97.8 260.48h30.7v1.05h-30.7zM106.9 275.44h3.4v1.05h-3.4zM115.3 275.44h6.5v1.05h-6.5zM112.8 277.43h5.0v1.05h-5.0z" fill="#d1d1e9"/>
<path d="M98.1 156.80h4.6v1.05h-4.6zM97.8 157.80h30.7v1.05h-30.7zM97.8 159.79h30.7v1.05h-30.7zM97.8 165.77h30.7v1.05h-30.7zM97.8 167.77h30.7v1.05h-30.7zM97.8 168.76h30.7v1.05h-30.7zM104.8 169.76h7.4v1.05h-7.4zM97.8 172.75h30.7v1.05h-30.7zM120.9 174.75h4.9v1.05h-4.9zM97.8 175.74h30.7v1.05h-30.7zM97.8 178.73h30.7v1.05h-30.7zM107.1 180.73h2.6v1.05h-2.6zM115.5 180.73h6.5v1.05h-6.5zM97.8 183.72h30.7v1.05h-30.7zM97.8 187.71h30.7v1.05h-30.7zM97.8 189.70h30.7v1.05h-30.7zM103.2 191.69h3.8v1.05h-3.8zM97.8 193.69h30.7v1.05h-30.7zM97.8 198.67h30.7v1.05h-30.7zM97.8 207.65h30.7v1.05h-30.7zM117.0 209.64h6.4v1.05h-6.4zM109.2 212.63h4.0v1.05h-4.0zM117.2 213.63h4.2v1.05h-4.2zM102.8 219.61h7.9v1.05h-7.9zM97.8 220.61h30.7v1.05h-30.7zM113.9 221.60h3.3v1.05h-3.3zM97.8 229.58h30.7v1.05h-30.7zM97.8 234.56h30.7v1.05h-30.7zM110.1 242.54h8.0v1.05h-8.0zM97.8 245.53h30.7v1.05h-30.7zM99.4 247.52h8.4v1.05h-8.4zM106.5 249.52h8.7v1.05h-8.7zM113.3 250.52h7.2v1.05h-7.2zM121.0 255.50h7.5v1.05h-7.5zM120.6 256.50h4.2v1.05h-4.2zM106.6 259.49h2.1v1.05h-2.1zM120.2 260.48h4.0v1.05h-4.0zM101.6 268.46h3.3v1.05h-3.3zM110.7 268.46h7.7v1.05h-7.7zM113.9 281.42h7.8v1.05h-7.8zM110.6 283.42h9.0v1.05h-9.0zM109.7 284.41h4.2v1.05h-4.2z" fill="#cbcbe7"/>
<path d="M121.4 157.80h2.4v1.05h-2.4zM97.8 158.79h30.7v1.05h-30.7zM116.8 162.78h8.8v1.05h-8.8zM97.8 170.76h30.7v1.05h-30.7zM100.2 180.73h4.2v1.05h-4.2zM119.6 191.69h8.1v1.05h-8.1zM118.9 193.69h3.4v1.05h-3.4zM115.7 194.68h5.8v1.05h-5.8zM98.0 195.68h2.9v1.05h-2.9zM114.0 209.64h3.9v1.05h-3.9zM121.8 222.60h5.7v1.05h-5.7zM101.7 227.58h7.5v1.05h-7.5zM106.1 233.57h8.5v1.05h-8.5zM98.1 249.52h7.3v1.05h-7.3zM101.3 259.49h8.5v1.05h-8.5zM120.2 264.47h2.3v1.05h-2.3zM121.0 264.47h5.3v1.05h-5.3zM119.0 279.43h5.1v1.05h-5.1zM123.1 280.42h5.4v1.05h-5.4z" fill="#c5c5e4"/>
<path d="M114.1 157.80h8.8v1.05h-8.8zM112.7 175.74h7.0v1.05h-7.0zM103.7 187.71h5.8v1.05h-5.8zM103.8 205.65h5.4v1.05h-5.4zM97.8 211.63h30.7v1.05h-30.7zM114.5 213.63h6.5v1.05h-6.5zM106.6 224.59h2.5v1.05h-2.5zM113.5 247.52h5.2v1.05h-5.2zM103.0 247.52h5.0v1.05h-5.0zM111.7 247.52h4.8v1.05h-4.8z" fill="#bfbfe2"/>
<path d="M112.2 165.77h3.2v1.05h-3.2zM117.8 168.76h3.5v1.05h-3.5zM106.2 170.76h7.5v1.05h-7.5zM107.0 178.73h4.2v1.05h-4.2zM109.9 183.72h6.2v1.05h-6.2zM104.6 189.70h2.2v1.05h-2.2zM106.7 207.65h3.9v1.05h-3.9zM121.6 220.61h6.9v1.05h-6.9zM104.0 220.61h2.2v1.05h-2.2zM122.8 234.56h5.7v1.05h-5.7z" fill="#b9b9df"/>
<path d="M99.4 158.79h8.4v1.05h-8.4z" fill="#b3b3dd"/>
<path d="M106.6 211.63h8.9v1.05h-8.9z" fill="#adadda"/>
</g>
<rect x="97.8" y="156.8" width="30.700000000000003" height="131.59999999999997" fill="url(#hz_b2)"/>
<path d="M106.20 156.80 L106.35 157.80 L105.98 158.79 L106.53 159.79 L105.80 160.79 L106.73 161.78 L106.32 162.78 L106.37 163.78 L106.63 164.78 L106.81 165.77 L106.38 166.77 L106.47 167.77 L106.53 168.76 L106.61 169.76 L106.51 170.76 L106.83 171.75 L106.27 172.75 L106.42 173.75 L106.29 174.75 L106.69 175.74 L106.45 176.74 L106.65 177.74 L106.09 178.73 L106.94 179.73 L107.10 180.73 L106.82 181.72 L106.74 182.72 L107.12 183.72 L106.75 184.72 L106.50 185.71 L106.47 186.71 L106.99 187.71 L106.94 188.70 L107.33 189.70 L107.20 190.70 L106.70 191.69 L106.95 192.69 L107.16 193.69 L107.02 194.68 L106.79 195.68 L106.83 196.68 L107.00 197.68 L107.05 198.67 L107.31 199.67 L107.08 200.67 L106.97 201.66 L106.82 202.66 L107.60 203.66 L107.37 204.65 L107.53 205.65 L107.38 206.65 L107.29 207.65 L107.53 208.64 L107.53 209.64 L107.64 210.64 L107.25 211.63 L107.74 212.63 L107.42 213.63 L107.22 214.62 L107.76 215.62 L107.66 216.62 L107.92 217.62 L107.54 218.61 L107.87 219.61 L108.10 220.61 L108.08 221.60 L108.06 222.60 L107.93 223.60 L107.91 224.59 L107.70 225.59 L108.00 226.59 L108.05 227.58 L107.94 228.58 L108.09 229.58 L108.06 230.58 L108.08 231.57 L108.22 232.57 L108.39 233.57 L108.26 234.56 L108.49 235.56 L108.32 236.56 L108.39 237.55 L108.19 238.55 L108.42 239.55 L108.31 240.55 L108.31 241.54 L108.14 242.54 L108.60 243.54 L108.58 244.53 L108.38 245.53 L108.50 246.53 L108.74 247.52 L108.77 248.52 L108.61 249.52 L108.50 250.52 L108.61 251.51 L108.78 252.51 L108.74 253.51 L108.96 254.50 L108.96 255.50 L108.91 256.50 L109.01 257.49 L108.83 258.49 L109.11 259.49 L108.75 260.48 L108.80 261.48 L109.00 262.48 L109.32 263.48 L109.10 264.47 L108.92 265.47 L109.32 266.47 L109.01 267.46 L109.14 268.46 L109.22 269.46 L109.32 270.45 L109.34 271.45 L109.38 272.45 L109.32 273.45 L109.62 274.44 L109.36 275.44 L109.75 276.44 L109.50 277.43 L109.44 278.43 L109.47 279.43 L109.31 280.42 L109.42 281.42 L109.80 282.42 L109.59 283.42 L109.35 284.41 L109.57 285.41 L109.67 286.41 L109.75 287.40 L109.69 288.40 L117.02 288.40 L117.25 287.40 L117.21 286.41 L116.96 285.41 L116.85 284.41 L117.15 283.42 L117.30 282.42 L117.08 281.42 L116.91 280.42 L117.23 279.43 L117.27 278.43 L117.07 277.43 L117.41 276.44 L117.27 275.44 L117.29 274.44 L117.14 273.45 L117.40 272.45 L117.40 271.45 L117.36 270.45 L117.26 269.46 L117.29 268.46 L117.35 267.46 L117.40 266.47 L117.47 265.47 L117.31 264.47 L117.49 263.48 L117.60 262.48 L117.69 261.48 L117.51 260.48 L117.83 259.49 L117.87 258.49 L117.92 257.49 L117.57 256.50 L117.75 255.50 L118.00 254.50 L117.74 253.51 L118.02 252.51 L117.74 251.51 L118.07 250.52 L117.75 249.52 L118.27 248.52 L117.99 247.52 L117.82 246.53 L118.17 245.53 L118.32 244.53 L118.15 243.54 L118.16 242.54 L118.28 241.54 L118.22 240.55 L118.37 239.55 L118.55 238.55 L118.38 237.55 L118.21 236.56 L117.95 235.56 L118.01 234.56 L118.27 233.57 L118.37 232.57 L118.37 231.57 L118.28 230.58 L118.36 229.58 L118.33 228.58 L118.23 227.58 L118.52 226.59 L118.12 225.59 L118.70 224.59 L118.36 223.60 L118.43 222.60 L118.45 221.60 L118.41 220.61 L118.42 219.61 L118.44 218.61 L118.58 217.62 L118.64 216.62 L118.69 215.62 L119.13 214.62 L118.84 213.63 L118.41 212.63 L119.17 211.63 L118.58 210.64 L119.09 209.64 L118.72 208.64 L118.84 207.65 L118.94 206.65 L118.80 205.65 L119.27 204.65 L119.22 203.66 L119.07 202.66 L119.16 201.66 L119.02 200.67 L118.96 199.67 L118.74 198.67 L118.86 197.68 L118.82 196.68 L119.03 195.68 L118.85 194.68 L118.63 193.69 L119.01 192.69 L119.42 191.69 L119.01 190.70 L119.14 189.70 L118.79 188.70 L119.01 187.71 L119.37 186.71 L119.37 185.71 L119.28 184.72 L119.25 183.72 L119.19 182.72 L119.29 181.72 L118.90 180.73 L119.15 179.73 L119.67 178.73 L119.15 177.74 L118.97 176.74 L119.03 175.74 L119.27 174.75 L119.43 173.75 L119.62 172.75 L119.30 171.75 L119.15 170.76 L118.94 169.76 L119.10 168.76 L119.05 167.77 L119.18 166.77 L119.11 165.77 L119.08 164.78 L119.26 163.78 L119.34 162.78 L119.28 161.78 L119.74 160.79 L118.91 159.79 L119.54 158.79 L119.44 157.80 L119.29 156.80Z" fill="url(#hg_b2)" filter="url(#hblur2)"/>
<path d="M109.20 156.80 L109.35 157.80 L108.98 158.79 L109.53 159.79 L108.80 160.79 L109.73 161.78 L109.32 162.78 L109.37 163.78 L109.63 164.78 L109.81 165.77 L109.38 166.77 L109.47 167.77 L109.53 168.76 L109.61 169.76 L109.51 170.76 L109.83 171.75 L109.27 172.75 L109.42 173.75 L109.29 174.75 L109.69 175.74 L109.45 176.74 L109.65 177.74 L109.09 178.73 L109.94 179.73 L110.10 180.73 L109.82 181.72 L109.74 182.72 L110.12 183.72 L109.75 184.72 L109.50 185.71 L109.47 186.71 L109.99 187.71 L109.94 188.70 L110.33 189.70 L110.20 190.70 L109.70 191.69 L109.95 192.69 L110.16 193.69 L110.02 194.68 L109.79 195.68 L109.83 196.68 L110.00 197.68 L110.05 198.67 L110.31 199.67 L110.08 200.67 L109.97 201.66 L109.82 202.66 L110.60 203.66 L110.37 204.65 L110.53 205.65 L110.38 206.65 L110.29 207.65 L110.53 208.64 L110.53 209.64 L110.64 210.64 L110.25 211.63 L110.74 212.63 L110.42 213.63 L110.22 214.62 L110.76 215.62 L110.66 216.62 L110.92 217.62 L110.54 218.61 L110.87 219.61 L111.10 220.61 L111.08 221.60 L111.06 222.60 L110.93 223.60 L110.91 224.59 L110.70 225.59 L111.00 226.59 L111.05 227.58 L110.94 228.58 L111.09 229.58 L111.06 230.58 L111.08 231.57 L111.22 232.57 L111.39 233.57 L111.26 234.56 L111.49 235.56 L111.32 236.56 L111.39 237.55 L111.19 238.55 L111.42 239.55 L111.31 240.55 L111.31 241.54 L111.14 242.54 L111.60 243.54 L111.58 244.53 L111.38 245.53 L111.50 246.53 L111.74 247.52 L111.77 248.52 L111.61 249.52 L111.50 250.52 L111.61 251.51 L111.78 252.51 L111.74 253.51 L111.96 254.50 L111.96 255.50 L111.91 256.50 L112.01 257.49 L111.83 258.49 L112.11 259.49 L111.75 260.48 L111.80 261.48 L112.00 262.48 L112.32 263.48 L112.10 264.47 L111.92 265.47 L112.32 266.47 L112.01 267.46 L112.14 268.46 L112.22 269.46 L112.32 270.45 L112.34 271.45 L112.38 272.45 L112.32 273.45 L112.62 274.44 L112.36 275.44 L112.75 276.44 L112.50 277.43 L112.44 278.43 L112.47 279.43 L112.31 280.42 L112.42 281.42 L112.80 282.42 L112.59 283.42 L112.35 284.41 L112.57 285.41 L112.67 286.41 L112.75 287.40 L112.69 288.40 L114.02 288.40 L114.25 287.40 L114.21 286.41 L113.96 285.41 L113.85 284.41 L114.15 283.42 L114.30 282.42 L114.08 281.42 L113.91 280.42 L114.23 279.43 L114.27 278.43 L114.07 277.43 L114.41 276.44 L114.27 275.44 L114.29 274.44 L114.14 273.45 L114.40 272.45 L114.40 271.45 L114.36 270.45 L114.26 269.46 L114.29 268.46 L114.35 267.46 L114.40 266.47 L114.47 265.47 L114.31 264.47 L114.49 263.48 L114.60 262.48 L114.69 261.48 L114.51 260.48 L114.83 259.49 L114.87 258.49 L114.92 257.49 L114.57 256.50 L114.75 255.50 L115.00 254.50 L114.74 253.51 L115.02 252.51 L114.74 251.51 L115.07 250.52 L114.75 249.52 L115.27 248.52 L114.99 247.52 L114.82 246.53 L115.17 245.53 L115.32 244.53 L115.15 243.54 L115.16 242.54 L115.28 241.54 L115.22 240.55 L115.37 239.55 L115.55 238.55 L115.38 237.55 L115.21 236.56 L114.95 235.56 L115.01 234.56 L115.27 233.57 L115.37 232.57 L115.37 231.57 L115.28 230.58 L115.36 229.58 L115.33 228.58 L115.23 227.58 L115.52 226.59 L115.12 225.59 L115.70 224.59 L115.36 223.60 L115.43 222.60 L115.45 221.60 L115.41 220.61 L115.42 219.61 L115.44 218.61 L115.58 217.62 L115.64 216.62 L115.69 215.62 L116.13 214.62 L115.84 213.63 L115.41 212.63 L116.17 211.63 L115.58 210.64 L116.09 209.64 L115.72 208.64 L115.84 207.65 L115.94 206.65 L115.80 205.65 L116.27 204.65 L116.22 203.66 L116.07 202.66 L116.16 201.66 L116.02 200.67 L115.96 199.67 L115.74 198.67 L115.86 197.68 L115.82 196.68 L116.03 195.68 L115.85 194.68 L115.63 193.69 L116.01 192.69 L116.42 191.69 L116.01 190.70 L116.14 189.70 L115.79 188.70 L116.01 187.71 L116.37 186.71 L116.37 185.71 L116.28 184.72 L116.25 183.72 L116.19 182.72 L116.29 181.72 L115.90 180.73 L116.15 179.73 L116.67 178.73 L116.15 177.74 L115.97 176.74 L116.03 175.74 L116.27 174.75 L116.43 173.75 L116.62 172.75 L116.30 171.75 L116.15 170.76 L115.94 169.76 L116.10 168.76 L116.05 167.77 L116.18 166.77 L116.11 165.77 L116.08 164.78 L116.26 163.78 L116.34 162.78 L116.28 161.78 L116.74 160.79 L115.91 159.79 L116.54 158.79 L116.44 157.80 L116.29 156.80Z" fill="url(#bg_b2)" filter="url(#hblur)"/>
<g filter="url(#hblur)">
<path d="M114.0 275.44h2.4v0.60h-2.4z" fill="#3a1f9c" fill-opacity="0.133"/>
<path d="M115.7 190.70h3.2v0.60h-3.2zM110.7 250.52h1.1v0.60h-1.1zM110.6 269.46h2.0v0.60h-2.0zM114.1 270.45h2.2v0.60h-2.2z" fill="#3a1f9c" fill-opacity="0.200"/>
<path d="M106.6 212.63h4.4v0.60h-4.4zM109.7 257.49h2.7v0.60h-2.7z" fill="#3a1f9c" fill-opacity="0.267"/>
<path d="M108.8 181.72h1.4v0.60h-1.4zM107.8 242.54h3.6v0.60h-3.6zM114.4 255.50h1.3v0.60h-1.3z" fill="#3a1f9c" fill-opacity="0.400"/>
<path d="M115.7 192.69h2.7v0.60h-2.7z" fill="#3a1f9c" fill-opacity="0.467"/>
<path d="M116.1 186.71h2.8v0.60h-2.8z" fill="#3a1f9c" fill-opacity="0.533"/>
</g>
</g>
<linearGradient id="hz_b3" x1="0" y1="0" x2="1" y2="0"><stop offset="0" stop-color="#d2181f" stop-opacity="0"/><stop offset="0.5" stop-color="#d2181f" stop-opacity="0.08"/><stop offset="1" stop-color="#d2181f" stop-opacity="0"/></linearGradient>
<linearGradient id="bg_b3" x1="0" y1="0" x2="0" y2="1"><stop offset="0.000" stop-color="#d2181f" stop-opacity="0.250"/><stop offset="0.100" stop-color="#d2181f" stop-opacity="0.400"/><stop offset="0.160" stop-color="#d2181f" stop-opacity="0.750"/><stop offset="0.300" stop-color="#d2181f" stop-opacity="0.850"/><stop offset="0.500" stop-color="#d2181f" stop-opacity="0.750"/><stop offset="0.800" stop-color="#d2181f" stop-opacity="0.680"/><stop offset="1.000" stop-color="#d2181f" stop-opacity="0.620"/></linearGradient>
<linearGradient id="hg_b3" x1="0" y1="0" x2="0" y2="1"><stop offset="0.000" stop-color="#d2181f" stop-opacity="0.075"/><stop offset="0.100" stop-color="#d2181f" stop-opacity="0.120"/><stop offset="0.160" stop-color="#d2181f" stop-opacity="0.225"/><stop offset="0.300" stop-color="#d2181f" stop-opacity="0.255"/><stop offset="0.500" stop-color="#d2181f" stop-opacity="0.225"/><stop offset="0.800" stop-color="#d2181f" stop-opacity="0.204"/><stop offset="1.000" stop-color="#d2181f" stop-opacity="0.186"/></linearGradient>
<clipPath id="cl_b3"><rect x="141.0" y="157.0" width="30.599999999999994" height="131.39999999999998"/></clipPath>
<g clip-path="url(#cl_b3)"><g filter="url(#hblur)">
<path d="M141.0 171.04h30.6v1.05h-30.6zM141.0 185.09h30.6v1.05h-30.6zM141.0 195.12h30.6v1.05h-30.6zM141.0 209.16h30.6v1.05h-30.6zM141.0 212.17h30.6v1.05h-30.6zM141.0 217.18h30.6v1.05h-30.6zM141.0 253.29h30.6v1.05h-30.6z" fill="#faeae8"/>
<path d="M141.0 161.01h30.6v1.05h-30.6zM141.0 168.03h30.6v1.05h-30.6zM141.0 169.04h30.6v1.05h-30.6zM141.0 170.04h30.6v1.05h-30.6zM141.0 173.05h30.6v1.05h-30.6zM141.0 178.06h30.6v1.05h-30.6zM141.0 179.07h30.6v1.05h-30.6zM141.0 180.07h30.6v1.05h-30.6zM141.0 190.10h30.6v1.05h-30.6zM141.0 206.15h30.6v1.05h-30.6zM141.0 210.16h30.6v1.05h-30.6zM141.0 221.20h30.6v1.05h-30.6zM141.0 224.20h30.6v1.05h-30.6zM141.0 225.21h30.6v1.05h-30.6zM141.0 229.22h30.6v1.05h-30.6zM141.0 232.23h30.6v1.05h-30.6zM141.0 233.23h30.6v1.05h-30.6zM141.0 234.24h30.6v1.05h-30.6zM141.0 237.24h30.6v1.05h-30.6zM141.0 245.27h30.6v1.05h-30.6zM141.0 247.27h30.6v1.05h-30.6zM141.0 249.28h30.6v1.05h-30.6zM141.0 255.30h30.6v1.05h-30.6zM141.0 257.31h30.6v1.05h-30.6zM141.0 265.33h30.6v1.05h-30.6zM141.0 274.36h30.6v1.05h-30.6zM141.0 275.36h30.6v1.05h-30.6zM141.0 278.37h30.6v1.05h-30.6z" fill="#f7e4e2"/>
<path d="M141.0 157.00h30.6v1.05h-30.6zM141.0 165.02h30.6v1.05h-30.6zM141.0 166.03h30.6v1.05h-30.6zM141.0 167.03h30.6v1.05h-30.6zM141.0 172.05h30.6v1.05h-30.6zM141.0 175.05h30.6v1.05h-30.6zM141.0 176.06h30.6v1.05h-30.6zM141.0 183.08h30.6v1.05h-30.6zM141.0 184.08h30.6v1.05h-30.6zM141.0 187.09h30.6v1.05h-30.6zM141.0 188.09h30.6v1.05h-30.6zM141.0 189.10h30.6v1.05h-30.6zM141.0 191.10h30.6v1.05h-30.6zM141.0 198.13h30.6v1.05h-30.6zM141.0 199.13h30.6v1.05h-30.6zM141.0 200.13h30.6v1.05h-30.6zM141.0 202.14h30.6v1.05h-30.6zM141.0 203.14h30.6v1.05h-30.6zM141.0 205.15h30.6v1.05h-30.6zM141.0 207.15h30.6v1.05h-30.6zM141.0 211.16h30.6v1.05h-30.6zM141.0 215.18h30.6v1.05h-30.6zM141.0 216.18h30.6v1.05h-30.6zM141.0 219.19h30.6v1.05h-30.6zM141.0 228.22h30.6v1.05h-30.6zM141.0 230.22h30.6v1.05h-30.6zM141.0 231.23h30.6v1.05h-30.6zM141.0 235.24h30.6v1.05h-30.6zM141.0 240.25h30.6v1.05h-30.6zM141.0 241.26h30.6v1.05h-30.6zM141.0 246.27h30.6v1.05h-30.6zM141.0 251.29h30.6v1.05h-30.6zM141.0 252.29h30.6v1.05h-30.6zM141.0 259.31h30.6v1.05h-30.6zM141.0 260.31h30.6v1.05h-30.6zM141.0 261.32h30.6v1.05h-30.6zM141.0 262.32h30.6v1.05h-30.6zM141.0 263.32h30.6v1.05h-30.6zM141.0 264.33h30.6v1.05h-30.6zM141.0 266.33h30.6v1.05h-30.6zM141.0 267.34h30.6v1.05h-30.6zM141.0 268.34h30.6v1.05h-30.6zM141.0 269.34h30.6v1.05h-30.6zM141.0 270.35h30.6v1.05h-30.6zM141.0 271.35h30.6v1.05h-30.6zM141.0 272.35h30.6v1.05h-30.6zM141.0 276.36h30.6v1.05h-30.6zM141.0 279.37h30.6v1.05h-30.6zM141.0 280.38h30.6v1.05h-30.6zM141.0 281.38h30.6v1.05h-30.6zM141.0 284.39h30.6v1.05h-30.6zM141.0 286.39h30.6v1.05h-30.6z" fill="#f4dedd"/>
<path d="M141.0 160.01h30.6v1.05h-30.6zM141.0 162.02h30.6v1.05h-30.6zM141.0 163.02h30.6v1.05h-30.6zM141.0 164.02h30.6v1.05h-30.6zM152.2 168.03h6.2v1.05h-6.2zM141.0 174.05h30.6v1.05h-30.6zM142.4 180.07h2.2v1.05h-2.2zM141.0 181.07h30.6v1.05h-30.6zM141.0 182.08h30.6v1.05h-30.6zM141.0 192.11h30.6v1.05h-30.6zM141.0 193.11h30.6v1.05h-30.6zM141.0 194.11h30.6v1.05h-30.6zM141.0 196.12h30.6v1.05h-30.6zM141.0 197.12h30.6v1.05h-30.6zM141.0 201.13h30.6v1.05h-30.6zM141.0 204.14h30.6v1.05h-30.6zM141.0 208.16h30.6v1.05h-30.6zM147.3 210.16h3.2v1.05h-3.2zM141.0 213.17h30.6v1.05h-30.6zM161.7 217.18h6.5v1.05h-6.5zM141.0 218.19h30.6v1.05h-30.6zM141.0 220.19h30.6v1.05h-30.6zM141.0 222.20h30.6v1.05h-30.6zM141.0 223.20h30.6v1.05h-30.6zM141.0 226.21h30.6v1.05h-30.6zM141.0 227.21h30.6v1.05h-30.6zM152.7 232.23h3.4v1.05h-3.4zM156.9 232.23h3.5v1.05h-3.5zM141.0 238.25h30.6v1.05h-30.6zM141.0 239.25h30.6v1.05h-30.6zM141.0 242.26h30.6v1.05h-30.6zM141.0 243.26h30.6v1.05h-30.6zM141.0 244.27h30.6v1.05h-30.6zM141.0 250.28h30.6v1.05h-30.6zM141.0 254.30h30.6v1.05h-30.6zM165.0 255.30h5.9v1.05h-5.9zM141.0 256.30h30.6v1.05h-30.6zM141.0 258.31h30.6v1.05h-30.6zM141.0 273.35h30.6v1.05h-30.6zM141.0 277.37h30.6v1.05h-30.6zM141.0 282.38h30.6v1.05h-30.6zM141.0 283.38h30.6v1.05h-30.6zM141.0 285.39h30.6v1.05h-30.6z" fill="#f1d8d7"/>
<path d="M141.0 158.00h30.6v1.05h-30.6zM141.0 159.01h30.6v1.05h-30.6zM146.0 167.03h7.5v1.05h-7.5zM154.7 173.05h8.7v1.05h-8.7zM141.0 177.06h30.6v1.05h-30.6zM159.7 178.06h6.7v1.05h-6.7zM141.0 186.09h30.6v1.05h-30.6zM143.1 187.09h8.3v1.05h-8.3zM143.4 189.10h4.2v1.05h-4.2zM159.5 205.15h5.4v1.05h-5.4zM164.9 206.15h6.7v1.05h-6.7zM141.0 214.17h30.6v1.05h-30.6zM160.9 225.21h5.2v1.05h-5.2zM151.6 230.22h4.9v1.05h-4.9zM143.5 235.24h8.9v1.05h-8.9zM141.0 236.24h30.6v1.05h-30.6zM149.2 247.27h2.6v1.05h-2.6zM141.0 248.28h30.6v1.05h-30.6zM165.7 249.28h5.9v1.05h-5.9zM153.7 259.31h3.5v1.05h-3.5zM155.6 263.32h4.3v1.05h-4.3zM144.7 267.34h6.5v1.05h-6.5zM154.8 276.36h5.3v1.05h-5.3zM158.6 284.39h8.6v1.05h-8.6z" fill="#eed2d2"/>
<path d="M147.0 157.00h3.0v1.05h-3.0zM162.3 161.01h7.6v1.05h-7.6zM152.0 165.02h8.1v1.05h-8.1zM163.2 166.03h4.6v1.05h-4.6zM149.1 169.04h4.9v1.05h-4.9zM142.2 173.05h8.4v1.05h-8.4zM153.5 173.05h5.9v1.05h-5.9zM145.3 176.06h8.2v1.05h-8.2zM144.6 179.07h5.7v1.05h-5.7zM154.8 187.09h7.4v1.05h-7.4zM157.7 193.11h6.3v1.05h-6.3zM153.4 196.12h4.9v1.05h-4.9zM142.4 202.14h6.3v1.05h-6.3zM158.0 204.14h3.1v1.05h-3.1zM150.4 207.15h7.3v1.05h-7.3zM161.5 209.16h4.4v1.05h-4.4zM147.3 212.17h5.0v1.05h-5.0zM153.2 220.19h2.8v1.05h-2.8zM148.2 226.21h5.8v1.05h-5.8zM151.4 227.21h2.7v1.05h-2.7zM160.9 228.22h7.4v1.05h-7.4zM154.3 229.22h2.1v1.05h-2.1zM156.4 239.25h4.2v1.05h-4.2zM148.4 246.27h7.9v1.05h-7.9zM164.4 259.31h7.2v1.05h-7.2zM157.2 265.33h6.9v1.05h-6.9zM157.8 265.33h6.9v1.05h-6.9zM154.5 267.34h5.0v1.05h-5.0zM153.8 274.36h7.7v1.05h-7.7zM145.6 281.38h6.0v1.05h-6.0zM154.7 283.38h7.8v1.05h-7.8zM141.0 287.40h30.6v1.05h-30.6z" fill="#ebcccc"/>
<path d="M144.3 158.00h6.8v1.05h-6.8zM163.8 160.01h4.5v1.05h-4.5zM158.6 162.02h5.1v1.05h-5.1zM162.0 166.03h7.9v1.05h-7.9zM151.8 166.03h8.1v1.05h-8.1zM159.3 167.03h2.3v1.05h-2.3zM149.3 170.04h3.1v1.05h-3.1zM146.4 170.04h7.6v1.05h-7.6zM148.5 172.05h3.4v1.05h-3.4zM141.8 184.08h3.8v1.05h-3.8zM166.8 184.08h4.8v1.05h-4.8zM142.4 201.13h5.1v1.05h-5.1zM161.2 202.14h4.1v1.05h-4.1zM153.4 205.15h5.3v1.05h-5.3zM159.3 218.19h5.9v1.05h-5.9zM164.8 221.20h6.8v1.05h-6.8zM157.4 222.20h6.5v1.05h-6.5zM164.2 228.22h2.8v1.05h-2.8zM155.9 230.22h2.5v1.05h-2.5zM148.6 234.24h7.5v1.05h-7.5zM152.0 234.24h6.8v1.05h-6.8zM145.0 234.24h7.3v1.05h-7.3zM160.0 236.24h3.7v1.05h-3.7zM152.3 238.25h5.4v1.05h-5.4zM146.4 238.25h4.3v1.05h-4.3zM144.8 241.26h7.9v1.05h-7.9zM150.9 249.28h5.0v1.05h-5.0zM143.8 250.28h3.7v1.05h-3.7zM165.3 251.29h2.4v1.05h-2.4zM155.8 257.31h8.2v1.05h-8.2zM143.7 262.32h6.7v1.05h-6.7zM156.3 266.33h4.3v1.05h-4.3zM154.5 269.34h4.9v1.05h-4.9zM146.7 273.35h5.3v1.05h-5.3zM164.1 276.36h7.4v1.05h-7.4zM166.3 278.37h2.7v1.05h-2.7zM163.2 279.37h8.4v1.05h-8.4zM142.5 282.38h7.8v1.05h-7.8z" fill="#e8c6c6"/>
<path d="M162.4 174.05h3.5v1.05h-3.5zM150.8 186.09h5.3v1.05h-5.3zM164.6 186.09h5.4v1.05h-5.4zM160.4 187.09h6.5v1.05h-6.5zM150.6 191.10h3.0v1.05h-3.0zM146.6 197.12h3.0v1.05h-3.0zM152.5 205.15h2.7v1.05h-2.7zM160.3 207.15h5.9v1.05h-5.9zM165.9 216.18h2.6v1.05h-2.6zM142.7 219.19h3.2v1.05h-3.2zM146.0 231.23h6.0v1.05h-6.0zM148.3 235.24h7.6v1.05h-7.6zM159.4 258.31h3.9v1.05h-3.9zM152.0 258.31h5.9v1.05h-5.9zM149.3 263.32h6.5v1.05h-6.5zM154.9 264.33h8.7v1.05h-8.7zM151.0 266.33h4.4v1.05h-4.4zM157.4 279.37h2.6v1.05h-2.6zM144.3 281.38h8.4v1.05h-8.4zM147.8 282.38h6.3v1.05h-6.3zM164.0 287.40h2.8v1.05h-2.8z" fill="#e5c0c1"/>
<path d="M142.8 158.00h7.9v1.05h-7.9zM165.2 177.06h2.5v1.05h-2.5zM160.6 213.17h4.8v1.05h-4.8zM162.6 218.19h3.4v1.05h-3.4zM160.2 236.24h3.3v1.05h-3.3zM149.6 242.26h4.9v1.05h-4.9zM158.4 244.27h6.4v1.05h-6.4zM159.3 250.28h2.7v1.05h-2.7zM145.5 283.38h7.7v1.05h-7.7zM157.8 287.40h5.5v1.05h-5.5z" fill="#e2bbbb"/>
<path d="M146.5 287.40h6.7v1.05h-6.7z" fill="#dcafb0"/>
</g>
<rect x="141.0" y="157.0" width="30.599999999999994" height="131.39999999999998" fill="url(#hz_b3)"/>
<path d="M152.00 157.00 L151.82 158.00 L152.17 159.01 L151.87 160.01 L151.86 161.01 L151.88 162.02 L151.80 163.02 L152.00 164.02 L152.09 165.02 L152.23 166.03 L152.12 167.03 L152.02 168.03 L151.96 169.04 L151.86 170.04 L151.91 171.04 L151.89 172.05 L152.03 173.05 L151.84 174.05 L152.22 175.05 L152.24 176.06 L151.83 177.06 L151.62 178.06 L151.63 179.07 L151.63 180.07 L151.89 181.07 L151.96 182.08 L151.56 183.08 L151.39 184.08 L151.82 185.09 L151.56 186.09 L151.92 187.09 L152.04 188.09 L151.84 189.10 L151.96 190.10 L151.51 191.10 L151.59 192.11 L152.21 193.11 L151.92 194.11 L151.95 195.12 L151.79 196.12 L151.67 197.12 L151.86 198.13 L152.00 199.13 L152.19 200.13 L151.82 201.13 L151.77 202.14 L151.83 203.14 L151.83 204.14 L152.06 205.15 L151.84 206.15 L151.86 207.15 L151.94 208.16 L151.95 209.16 L151.94 210.16 L151.91 211.16 L151.98 212.17 L151.93 213.17 L152.01 214.17 L151.76 215.18 L152.00 216.18 L152.13 217.18 L152.12 218.19 L151.94 219.19 L151.90 220.19 L152.32 221.20 L151.88 222.20 L152.39 223.20 L152.01 224.20 L152.04 225.21 L152.14 226.21 L152.05 227.21 L152.17 228.22 L152.29 229.22 L152.15 230.22 L152.49 231.23 L152.24 232.23 L152.06 233.23 L152.22 234.24 L152.10 235.24 L152.18 236.24 L152.26 237.24 L152.34 238.25 L152.47 239.25 L152.41 240.25 L152.02 241.26 L152.07 242.26 L152.21 243.26 L152.44 244.27 L152.58 245.27 L152.54 246.27 L152.44 247.27 L152.56 248.28 L152.54 249.28 L152.86 250.28 L152.30 251.29 L152.73 252.29 L152.45 253.29 L152.82 254.30 L152.60 255.30 L152.59 256.30 L152.64 257.31 L152.12 258.31 L152.69 259.31 L152.73 260.31 L152.75 261.32 L152.39 262.32 L152.53 263.32 L152.42 264.33 L152.40 265.33 L152.70 266.33 L152.44 267.34 L152.39 268.34 L152.56 269.34 L152.29 270.35 L152.42 271.35 L152.76 272.35 L152.74 273.35 L152.48 274.36 L152.24 275.36 L152.50 276.36 L152.64 277.37 L152.50 278.37 L152.82 279.37 L152.61 280.38 L152.48 281.38 L152.83 282.38 L152.44 283.38 L152.77 284.39 L152.86 285.39 L152.86 286.39 L152.60 287.40 L152.93 288.40 L160.53 288.40 L160.25 287.40 L160.56 286.39 L160.23 285.39 L160.59 284.39 L160.43 283.38 L160.59 282.38 L160.42 281.38 L160.63 280.38 L160.72 279.37 L160.68 278.37 L160.54 277.37 L160.56 276.36 L160.39 275.36 L160.68 274.36 L160.38 273.35 L160.48 272.35 L160.63 271.35 L160.26 270.35 L160.53 269.34 L160.70 268.34 L160.42 267.34 L160.46 266.33 L160.34 265.33 L160.33 264.33 L160.50 263.32 L160.77 262.32 L160.55 261.32 L160.32 260.31 L160.30 259.31 L160.66 258.31 L160.31 257.31 L160.26 256.30 L160.34 255.30 L160.53 254.30 L160.83 253.29 L160.80 252.29 L160.20 251.29 L160.42 250.28 L160.45 249.28 L160.54 248.28 L160.74 247.27 L160.16 246.27 L160.07 245.27 L160.34 244.27 L160.18 243.26 L160.28 242.26 L160.10 241.26 L160.54 240.25 L160.35 239.25 L160.33 238.25 L160.43 237.24 L160.48 236.24 L160.38 235.24 L160.48 234.24 L160.14 233.23 L160.61 232.23 L160.21 231.23 L160.36 230.22 L160.29 229.22 L160.59 228.22 L160.43 227.21 L160.32 226.21 L160.78 225.21 L160.31 224.20 L160.53 223.20 L160.22 222.20 L159.88 221.20 L160.37 220.19 L160.13 219.19 L160.45 218.19 L160.31 217.18 L160.31 216.18 L160.28 215.18 L160.40 214.17 L160.38 213.17 L160.17 212.17 L159.94 211.16 L160.33 210.16 L160.62 209.16 L160.15 208.16 L160.30 207.15 L160.49 206.15 L160.36 205.15 L160.37 204.14 L160.04 203.14 L160.19 202.14 L160.11 201.13 L160.17 200.13 L160.14 199.13 L160.15 198.13 L160.18 197.12 L160.23 196.12 L160.12 195.12 L160.18 194.11 L160.23 193.11 L159.68 192.11 L160.45 191.10 L159.78 190.10 L160.25 189.10 L160.06 188.09 L159.94 187.09 L160.27 186.09 L159.98 185.09 L160.24 184.08 L160.24 183.08 L160.13 182.08 L160.17 181.07 L160.13 180.07 L160.09 179.07 L160.08 178.06 L159.87 177.06 L160.10 176.06 L159.68 175.05 L159.67 174.05 L159.95 173.05 L159.74 172.05 L159.85 171.04 L159.42 170.04 L160.02 169.04 L159.81 168.03 L159.66 167.03 L159.74 166.03 L159.94 165.02 L159.64 164.02 L160.03 163.02 L159.82 162.02 L159.66 161.01 L159.57 160.01 L159.80 159.01 L159.62 158.00 L159.63 157.00Z" fill="url(#hg_b3)" filter="url(#hblur2)"/>
<path d="M154.00 157.00 L153.82 158.00 L154.17 159.01 L153.87 160.01 L153.86 161.01 L153.88 162.02 L153.80 163.02 L154.00 164.02 L154.09 165.02 L154.23 166.03 L154.12 167.03 L154.02 168.03 L153.96 169.04 L153.86 170.04 L153.91 171.04 L153.89 172.05 L154.03 173.05 L153.84 174.05 L154.22 175.05 L154.24 176.06 L153.83 177.06 L153.62 178.06 L153.63 179.07 L153.63 180.07 L153.89 181.07 L153.96 182.08 L153.56 183.08 L153.39 184.08 L153.82 185.09 L153.56 186.09 L153.92 187.09 L154.04 188.09 L153.84 189.10 L153.96 190.10 L153.51 191.10 L153.59 192.11 L154.21 193.11 L153.92 194.11 L153.95 195.12 L153.79 196.12 L153.67 197.12 L153.86 198.13 L154.00 199.13 L154.19 200.13 L153.82 201.13 L153.77 202.14 L153.83 203.14 L153.83 204.14 L154.06 205.15 L153.84 206.15 L153.86 207.15 L153.94 208.16 L153.95 209.16 L153.94 210.16 L153.91 211.16 L153.98 212.17 L153.93 213.17 L154.01 214.17 L153.76 215.18 L154.00 216.18 L154.13 217.18 L154.12 218.19 L153.94 219.19 L153.90 220.19 L154.32 221.20 L153.88 222.20 L154.39 223.20 L154.01 224.20 L154.04 225.21 L154.14 226.21 L154.05 227.21 L154.17 228.22 L154.29 229.22 L154.15 230.22 L154.49 231.23 L154.24 232.23 L154.06 233.23 L154.22 234.24 L154.10 235.24 L154.18 236.24 L154.26 237.24 L154.34 238.25 L154.47 239.25 L154.41 240.25 L154.02 241.26 L154.07 242.26 L154.21 243.26 L154.44 244.27 L154.58 245.27 L154.54 246.27 L154.44 247.27 L154.56 248.28 L154.54 249.28 L154.86 250.28 L154.30 251.29 L154.73 252.29 L154.45 253.29 L154.82 254.30 L154.60 255.30 L154.59 256.30 L154.64 257.31 L154.12 258.31 L154.69 259.31 L154.73 260.31 L154.75 261.32 L154.39 262.32 L154.53 263.32 L154.42 264.33 L154.40 265.33 L154.70 266.33 L154.44 267.34 L154.39 268.34 L154.56 269.34 L154.29 270.35 L154.42 271.35 L154.76 272.35 L154.74 273.35 L154.48 274.36 L154.24 275.36 L154.50 276.36 L154.64 277.37 L154.50 278.37 L154.82 279.37 L154.61 280.38 L154.48 281.38 L154.83 282.38 L154.44 283.38 L154.77 284.39 L154.86 285.39 L154.86 286.39 L154.60 287.40 L154.93 288.40 L158.53 288.40 L158.25 287.40 L158.56 286.39 L158.23 285.39 L158.59 284.39 L158.43 283.38 L158.59 282.38 L158.42 281.38 L158.63 280.38 L158.72 279.37 L158.68 278.37 L158.54 277.37 L158.56 276.36 L158.39 275.36 L158.68 274.36 L158.38 273.35 L158.48 272.35 L158.63 271.35 L158.26 270.35 L158.53 269.34 L158.70 268.34 L158.42 267.34 L158.46 266.33 L158.34 265.33 L158.33 264.33 L158.50 263.32 L158.77 262.32 L158.55 261.32 L158.32 260.31 L158.30 259.31 L158.66 258.31 L158.31 257.31 L158.26 256.30 L158.34 255.30 L158.53 254.30 L158.83 253.29 L158.80 252.29 L158.20 251.29 L158.42 250.28 L158.45 249.28 L158.54 248.28 L158.74 247.27 L158.16 246.27 L158.07 245.27 L158.34 244.27 L158.18 243.26 L158.28 242.26 L158.10 241.26 L158.54 240.25 L158.35 239.25 L158.33 238.25 L158.43 237.24 L158.48 236.24 L158.38 235.24 L158.48 234.24 L158.14 233.23 L158.61 232.23 L158.21 231.23 L158.36 230.22 L158.29 229.22 L158.59 228.22 L158.43 227.21 L158.32 226.21 L158.78 225.21 L158.31 224.20 L158.53 223.20 L158.22 222.20 L157.88 221.20 L158.37 220.19 L158.13 219.19 L158.45 218.19 L158.31 217.18 L158.31 216.18 L158.28 215.18 L158.40 214.17 L158.38 213.17 L158.17 212.17 L157.94 211.16 L158.33 210.16 L158.62 209.16 L158.15 208.16 L158.30 207.15 L158.49 206.15 L158.36 205.15 L158.37 204.14 L158.04 203.14 L158.19 202.14 L158.11 201.13 L158.17 200.13 L158.14 199.13 L158.15 198.13 L158.18 197.12 L158.23 196.12 L158.12 195.12 L158.18 194.11 L158.23 193.11 L157.68 192.11 L158.45 191.10 L157.78 190.10 L158.25 189.10 L158.06 188.09 L157.94 187.09 L158.27 186.09 L157.98 185.09 L158.24 184.08 L158.24 183.08 L158.13 182.08 L158.17 181.07 L158.13 180.07 L158.09 179.07 L158.08 178.06 L157.87 177.06 L158.10 176.06 L157.68 175.05 L157.67 174.05 L157.95 173.05 L157.74 172.05 L157.85 171.04 L157.42 170.04 L158.02 169.04 L157.81 168.03 L157.66 167.03 L157.74 166.03 L157.94 165.02 L157.64 164.02 L158.03 163.02 L157.82 162.02 L157.66 161.01 L157.57 160.01 L157.80 159.01 L157.62 158.00 L157.63 157.00Z" fill="url(#bg_b3)" filter="url(#hblur)"/>
<g filter="url(#hblur)">
<path d="M151.8 160.01h2.4v0.60h-2.4z" fill="#d2181f" fill-opacity="0.067"/>
<path d="M151.5 158.00h2.6v0.60h-2.6zM153.3 159.01h1.2v0.60h-1.2zM151.1 162.02h3.0v0.60h-3.0zM157.5 162.02h1.8v0.60h-1.8zM157.6 165.02h4.0v0.60h-4.0zM157.5 168.03h1.7v0.60h-1.7zM157.5 171.04h1.2v0.60h-1.2zM158.0 207.15h1.4v0.60h-1.4zM153.1 259.31h1.9v0.60h-1.9zM158.1 273.35h3.0v0.60h-3.0z" fill="#d2181f" fill-opacity="0.133"/>
<path d="M157.9 181.07h3.5v0.60h-3.5zM157.8 199.13h2.5v0.60h-2.5zM158.0 216.18h3.5v0.60h-3.5zM152.4 219.19h1.9v0.60h-1.9zM158.0 229.22h3.2v0.60h-3.2zM158.1 237.24h3.5v0.60h-3.5zM157.8 241.26h3.0v0.60h-3.0zM151.9 246.27h2.9v0.60h-2.9zM152.8 249.28h2.0v0.60h-2.0zM153.6 250.28h1.6v0.60h-1.6zM158.4 258.31h3.0v0.60h-3.0zM158.0 259.31h3.7v0.60h-3.7zM158.4 268.34h2.3v0.60h-2.3zM151.3 277.37h3.6v0.60h-3.6z" fill="#d2181f" fill-opacity="0.200"/>
<path d="M153.2 173.05h1.1v0.60h-1.1zM152.7 175.05h1.9v0.60h-1.9zM157.8 179.07h3.6v0.60h-3.6zM150.9 180.07h3.0v0.60h-3.0zM157.8 182.08h1.6v0.60h-1.6zM150.6 187.09h3.6v0.60h-3.6zM152.7 197.12h1.3v0.60h-1.3zM151.2 207.15h2.9v0.60h-2.9zM151.7 216.18h2.6v0.60h-2.6zM151.1 220.19h3.1v0.60h-3.1zM157.6 221.20h2.1v0.60h-2.1zM151.9 235.24h2.5v0.60h-2.5zM152.7 243.26h1.8v0.60h-1.8zM158.4 247.27h3.4v0.60h-3.4zM153.3 253.29h1.4v0.60h-1.4zM153.1 254.30h2.0v0.60h-2.0zM152.2 260.31h2.8v0.60h-2.8zM158.2 263.32h3.2v0.60h-3.2zM152.2 269.34h2.7v0.60h-2.7zM158.1 275.36h2.7v0.60h-2.7zM158.3 284.39h3.8v0.60h-3.8z" fill="#d2181f" fill-opacity="0.267"/>
<path d="M157.6 177.06h1.5v0.60h-1.5zM152.1 198.13h2.1v0.60h-2.1zM157.9 200.13h1.6v0.60h-1.6zM152.2 201.13h1.9v0.60h-1.9zM157.8 201.13h1.4v0.60h-1.4zM158.0 217.18h3.5v0.60h-3.5zM157.9 222.20h1.6v0.60h-1.6zM158.0 226.21h3.0v0.60h-3.0zM152.8 230.22h1.7v0.60h-1.7zM158.3 232.23h1.1v0.60h-1.1zM151.8 247.27h2.9v0.60h-2.9zM158.2 248.28h2.0v0.60h-2.0zM158.1 250.28h1.9v0.60h-1.9zM158.2 261.32h2.9v0.60h-2.9zM158.5 262.32h2.7v0.60h-2.7zM152.2 271.35h2.5v0.60h-2.5zM153.7 278.37h1.1v0.60h-1.1zM153.3 285.39h1.9v0.60h-1.9z" fill="#d2181f" fill-opacity="0.333"/>
<path d="M151.0 177.06h3.1v0.60h-3.1zM151.3 192.11h2.6v0.60h-2.6zM152.0 202.14h2.1v0.60h-2.1zM158.1 214.17h1.0v0.60h-1.0zM158.0 215.18h2.5v0.60h-2.5zM153.0 217.18h1.4v0.60h-1.4zM158.1 227.21h3.0v0.60h-3.0zM158.3 228.22h3.5v0.60h-3.5z" fill="#d2181f" fill-opacity="0.400"/>
<path d="M154.0 157.00h3.6v1.05h-3.6zM154.2 166.03h3.5v1.05h-3.5zM153.9 170.04h3.6v1.05h-3.6zM153.6 192.11h4.1v1.05h-4.1zM153.9 195.12h4.2v1.05h-4.2zM153.8 204.14h4.5v1.05h-4.5zM153.8 215.18h4.5v1.05h-4.5zM153.9 219.19h4.2v1.05h-4.2zM153.9 220.19h4.5v1.05h-4.5zM154.1 242.26h4.2v1.05h-4.2zM154.4 271.35h4.2v1.05h-4.2zM154.7 273.35h3.6v1.05h-3.6zM154.4 283.38h4.0v1.05h-4.0z" fill="#ffffff" fill-opacity="0.12"/>
<path d="M154.1 165.02h3.9v1.05h-3.9zM154.0 173.05h3.9v1.05h-3.9zM153.8 177.06h4.0v1.05h-4.0zM153.9 181.07h4.3v1.05h-4.3zM153.6 186.09h4.7v1.05h-4.7zM154.2 200.13h4.0v1.05h-4.0zM153.9 207.15h4.4v1.05h-4.4zM153.9 210.16h4.4v1.05h-4.4zM154.1 233.23h4.1v1.05h-4.1zM154.2 236.24h4.3v1.05h-4.3zM154.4 244.27h3.9v1.05h-3.9zM154.6 248.28h4.0v1.05h-4.0zM154.4 262.32h4.4v1.05h-4.4zM154.2 275.36h4.1v1.05h-4.1zM154.8 284.39h3.8v1.05h-3.8zM154.6 287.40h3.6v1.05h-3.6z" fill="#000000" fill-opacity="0.14"/>
</g>
</g>
<linearGradient id="hz_b4" x1="0" y1="0" x2="1" y2="0"><stop offset="0" stop-color="#d2181f" stop-opacity="0"/><stop offset="0.5" stop-color="#d2181f" stop-opacity="0.12"/><stop offset="1" stop-color="#d2181f" stop-opacity="0"/></linearGradient>
<linearGradient id="bg_b4" x1="0" y1="0" x2="0" y2="1"><stop offset="0.000" stop-color="#d2181f" stop-opacity="1.000"/><stop offset="0.300" stop-color="#d2181f" stop-opacity="1.000"/><stop offset="0.600" stop-color="#d2181f" stop-opacity="0.950"/><stop offset="0.850" stop-color="#d2181f" stop-opacity="0.850"/><stop offset="1.000" stop-color="#d2181f" stop-opacity="0.700"/></linearGradient>
<linearGradient id="hg_b4" x1="0" y1="0" x2="0" y2="1"><stop offset="0.000" stop-color="#d2181f" stop-opacity="0.350"/><stop offset="0.300" stop-color="#d2181f" stop-opacity="0.350"/><stop offset="0.600" stop-color="#d2181f" stop-opacity="0.332"/><stop offset="0.850" stop-color="#d2181f" stop-opacity="0.297"/><stop offset="1.000" stop-color="#d2181f" stop-opacity="0.245"/></linearGradient>
<clipPath id="cl_b4"><rect x="177.3" y="157.0" width="30.5" height="131.39999999999998"/></clipPath>
<g clip-path="url(#cl_b4)"><g filter="url(#hblur)">
<path d="M177.3 189.10h30.5v1.05h-30.5zM177.3 197.12h30.5v1.05h-30.5zM177.3 239.25h30.5v1.05h-30.5zM177.3 244.27h30.5v1.05h-30.5z" fill="#f7e4e2"/>
<path d="M177.3 187.09h30.5v1.05h-30.5zM177.3 193.11h30.5v1.05h-30.5zM177.3 204.14h30.5v1.05h-30.5zM177.3 210.16h30.5v1.05h-30.5zM177.3 217.18h30.5v1.05h-30.5zM177.3 220.19h30.5v1.05h-30.5zM177.3 226.21h30.5v1.05h-30.5zM177.3 235.24h30.5v1.05h-30.5zM177.3 247.27h30.5v1.05h-30.5zM177.3 249.28h30.5v1.05h-30.5zM177.3 257.31h30.5v1.05h-30.5zM177.3 258.31h30.5v1.05h-30.5zM177.3 261.32h30.5v1.05h-30.5zM177.3 266.33h30.5v1.05h-30.5zM177.3 267.34h30.5v1.05h-30.5zM177.3 272.35h30.5v1.05h-30.5zM177.3 273.35h30.5v1.05h-30.5zM177.3 274.36h30.5v1.05h-30.5zM177.3 277.37h30.5v1.05h-30.5zM177.3 284.39h30.5v1.05h-30.5z" fill="#f4dedd"/>
<path d="M177.3 160.01h30.5v1.05h-30.5zM177.3 162.02h30.5v1.05h-30.5zM177.3 183.08h30.5v1.05h-30.5zM182.5 189.10h7.5v1.05h-7.5zM177.3 195.12h30.5v1.05h-30.5zM177.3 198.13h30.5v1.05h-30.5zM177.3 200.13h30.5v1.05h-30.5zM177.3 202.14h30.5v1.05h-30.5zM177.3 203.14h30.5v1.05h-30.5zM177.3 205.15h30.5v1.05h-30.5zM177.3 212.17h30.5v1.05h-30.5zM177.3 218.19h30.5v1.05h-30.5zM177.3 222.20h30.5v1.05h-30.5zM177.3 224.20h30.5v1.05h-30.5zM177.3 230.22h30.5v1.05h-30.5zM177.3 237.24h30.5v1.05h-30.5zM177.3 240.25h30.5v1.05h-30.5zM178.8 244.27h3.7v1.05h-3.7zM177.3 250.28h30.5v1.05h-30.5zM177.3 255.30h30.5v1.05h-30.5zM177.3 256.30h30.5v1.05h-30.5zM177.3 259.31h30.5v1.05h-30.5zM177.3 260.31h30.5v1.05h-30.5zM177.3 262.32h30.5v1.05h-30.5zM177.3 264.33h30.5v1.05h-30.5zM177.3 265.33h30.5v1.05h-30.5zM177.3 268.34h30.5v1.05h-30.5zM177.3 269.34h30.5v1.05h-30.5zM177.3 270.35h30.5v1.05h-30.5zM177.3 275.36h30.5v1.05h-30.5zM177.3 276.36h30.5v1.05h-30.5zM177.3 279.37h30.5v1.05h-30.5zM177.3 280.38h30.5v1.05h-30.5zM177.3 281.38h30.5v1.05h-30.5zM177.3 282.38h30.5v1.05h-30.5zM177.3 286.39h30.5v1.05h-30.5z" fill="#f1d8d7"/>
<path d="M177.3 165.02h30.5v1.05h-30.5zM177.3 170.04h30.5v1.05h-30.5zM177.3 171.04h30.5v1.05h-30.5zM177.3 172.05h30.5v1.05h-30.5zM177.3 177.06h30.5v1.05h-30.5zM177.3 178.06h30.5v1.05h-30.5zM177.3 180.07h30.5v1.05h-30.5zM177.3 181.07h30.5v1.05h-30.5zM198.0 187.09h2.2v1.05h-2.2zM177.3 190.10h30.5v1.05h-30.5zM177.3 191.10h30.5v1.05h-30.5zM177.3 192.11h30.5v1.05h-30.5zM177.3 194.11h30.5v1.05h-30.5zM177.3 196.12h30.5v1.05h-30.5zM177.3 207.15h30.5v1.05h-30.5zM177.3 209.16h30.5v1.05h-30.5zM179.8 210.16h5.0v1.05h-5.0zM177.3 211.16h30.5v1.05h-30.5zM177.3 213.17h30.5v1.05h-30.5zM177.3 215.18h30.5v1.05h-30.5zM177.3 221.20h30.5v1.05h-30.5zM177.3 225.21h30.5v1.05h-30.5zM177.3 227.21h30.5v1.05h-30.5zM177.3 229.22h30.5v1.05h-30.5zM177.3 231.23h30.5v1.05h-30.5zM177.3 232.23h30.5v1.05h-30.5zM186.9 235.24h8.3v1.05h-8.3zM177.3 236.24h30.5v1.05h-30.5zM177.3 238.25h30.5v1.05h-30.5zM177.3 242.26h30.5v1.05h-30.5zM196.6 249.28h2.4v1.05h-2.4zM177.3 252.29h30.5v1.05h-30.5zM177.3 278.37h30.5v1.05h-30.5zM177.3 283.38h30.5v1.05h-30.5zM177.3 285.39h30.5v1.05h-30.5zM177.3 287.40h30.5v1.05h-30.5z" fill="#eed2d2"/>
<path d="M177.3 159.01h30.5v1.05h-30.5zM181.5 162.02h4.9v1.05h-4.9zM177.3 163.02h30.5v1.05h-30.5zM177.3 164.02h30.5v1.05h-30.5zM177.3 166.03h30.5v1.05h-30.5zM177.3 168.03h30.5v1.05h-30.5zM177.3 173.05h30.5v1.05h-30.5zM177.3 174.05h30.5v1.05h-30.5zM177.3 176.06h30.5v1.05h-30.5zM177.3 184.08h30.5v1.05h-30.5zM177.3 186.09h30.5v1.05h-30.5zM178.3 189.10h8.1v1.05h-8.1zM190.4 193.11h7.9v1.05h-7.9zM185.0 198.13h3.2v1.05h-3.2zM183.9 198.13h3.6v1.05h-3.6zM194.8 198.13h7.4v1.05h-7.4zM177.3 199.13h30.5v1.05h-30.5zM177.3 201.13h30.5v1.05h-30.5zM194.3 202.14h8.9v1.05h-8.9zM192.1 203.14h8.0v1.05h-8.0zM177.3 206.15h30.5v1.05h-30.5zM177.3 208.16h30.5v1.05h-30.5zM185.1 210.16h2.1v1.05h-2.1zM177.3 214.17h30.5v1.05h-30.5zM177.3 216.18h30.5v1.05h-30.5zM177.3 219.19h30.5v1.05h-30.5zM177.3 223.20h30.5v1.05h-30.5zM177.3 228.22h30.5v1.05h-30.5zM177.3 233.23h30.5v1.05h-30.5zM178.1 239.25h7.5v1.05h-7.5zM202.3 240.25h5.5v1.05h-5.5zM177.3 243.26h30.5v1.05h-30.5zM187.8 244.27h5.5v1.05h-5.5zM196.8 244.27h3.6v1.05h-3.6zM177.3 245.27h30.5v1.05h-30.5zM177.3 246.27h30.5v1.05h-30.5zM177.3 248.28h30.5v1.05h-30.5zM177.3 251.29h30.5v1.05h-30.5zM177.3 253.29h30.5v1.05h-30.5zM177.3 254.30h30.5v1.05h-30.5zM177.3 263.32h30.5v1.05h-30.5zM190.9 264.33h2.9v1.05h-2.9zM177.3 271.35h30.5v1.05h-30.5zM182.3 276.36h4.1v1.05h-4.1zM187.5 279.37h5.8v1.05h-5.8zM182.8 282.38h7.7v1.05h-7.7zM181.4 282.38h3.0v1.05h-3.0zM183.6 284.39h6.7v1.05h-6.7z" fill="#ebcccc"/>
<path d="M177.3 157.00h30.5v1.05h-30.5zM177.3 158.00h30.5v1.05h-30.5zM186.0 160.01h2.6v1.05h-2.6zM179.8 165.02h3.3v1.05h-3.3zM177.3 169.04h30.5v1.05h-30.5zM198.3 170.04h3.2v1.05h-3.2zM177.3 175.05h30.5v1.05h-30.5zM202.9 177.06h4.9v1.05h-4.9zM177.3 179.07h30.5v1.05h-30.5zM199.3 181.07h2.5v1.05h-2.5zM177.3 182.08h30.5v1.05h-30.5zM177.3 185.09h30.5v1.05h-30.5zM177.3 188.09h30.5v1.05h-30.5zM188.8 190.10h4.7v1.05h-4.7zM189.0 194.11h2.1v1.05h-2.1zM184.6 196.12h2.3v1.05h-2.3zM201.8 197.12h5.8v1.05h-5.8zM190.6 198.13h2.4v1.05h-2.4zM196.2 200.13h3.8v1.05h-3.8zM184.6 205.15h3.3v1.05h-3.3zM191.3 209.16h2.1v1.05h-2.1zM185.9 218.19h4.1v1.05h-4.1zM192.8 222.20h8.2v1.05h-8.2zM199.9 231.23h2.9v1.05h-2.9zM177.3 234.24h30.5v1.05h-30.5zM195.7 235.24h4.0v1.05h-4.0zM184.6 237.24h2.8v1.05h-2.8zM200.2 238.25h6.0v1.05h-6.0zM177.3 241.26h30.5v1.05h-30.5zM203.1 244.27h4.2v1.05h-4.2zM181.7 247.27h7.9v1.05h-7.9zM198.9 256.30h3.1v1.05h-3.1zM196.4 256.30h6.3v1.05h-6.3zM194.0 260.31h3.4v1.05h-3.4zM186.3 260.31h4.8v1.05h-4.8zM200.6 261.32h3.0v1.05h-3.0zM184.2 265.33h3.3v1.05h-3.3zM187.5 265.33h3.9v1.05h-3.9zM186.4 266.33h7.6v1.05h-7.6zM196.4 272.35h7.6v1.05h-7.6zM181.1 272.35h7.7v1.05h-7.7zM197.2 277.37h7.0v1.05h-7.0zM194.8 281.38h4.2v1.05h-4.2zM182.6 282.38h2.9v1.05h-2.9zM198.8 283.38h3.0v1.05h-3.0zM178.2 283.38h7.1v1.05h-7.1z" fill="#e8c6c6"/>
<path d="M194.6 159.01h3.9v1.05h-3.9zM177.3 161.01h30.5v1.05h-30.5zM198.5 162.02h2.6v1.05h-2.6zM202.1 166.03h5.7v1.05h-5.7zM177.3 167.03h30.5v1.05h-30.5zM199.1 174.05h2.8v1.05h-2.8zM197.1 180.07h8.8v1.05h-8.8zM199.7 187.09h7.9v1.05h-7.9zM196.6 192.11h2.6v1.05h-2.6zM199.9 208.16h2.7v1.05h-2.7zM194.8 213.17h4.3v1.05h-4.3zM177.7 214.17h2.4v1.05h-2.4zM200.3 218.19h4.7v1.05h-4.7zM185.6 221.20h6.8v1.05h-6.8zM201.6 224.20h5.5v1.05h-5.5zM180.1 228.22h3.5v1.05h-3.5zM179.8 232.23h3.6v1.05h-3.6zM183.5 233.23h4.5v1.05h-4.5zM186.6 243.26h7.3v1.05h-7.3zM189.8 245.27h7.7v1.05h-7.7zM191.7 246.27h2.1v1.05h-2.1zM187.1 246.27h3.3v1.05h-3.3zM194.0 247.27h6.2v1.05h-6.2zM198.6 248.28h4.3v1.05h-4.3zM181.4 250.28h5.7v1.05h-5.7zM178.7 252.29h4.7v1.05h-4.7zM192.6 257.31h3.5v1.05h-3.5zM196.5 263.32h8.7v1.05h-8.7zM185.6 264.33h6.9v1.05h-6.9zM182.9 274.36h4.6v1.05h-4.6zM182.7 283.38h6.8v1.05h-6.8z" fill="#e5c0c1"/>
<path d="M193.6 165.02h5.3v1.05h-5.3zM199.9 166.03h3.9v1.05h-3.9zM198.2 169.04h2.9v1.05h-2.9zM187.1 175.05h6.1v1.05h-6.1zM180.8 178.06h8.7v1.05h-8.7zM187.0 183.08h6.8v1.05h-6.8zM178.6 200.13h8.2v1.05h-8.2zM202.2 202.14h5.1v1.05h-5.1zM190.5 203.14h6.0v1.05h-6.0zM190.1 205.15h7.1v1.05h-7.1zM180.6 207.15h7.8v1.05h-7.8zM192.5 213.17h5.0v1.05h-5.0zM186.5 214.17h8.9v1.05h-8.9zM201.3 218.19h6.5v1.05h-6.5zM191.7 219.19h5.9v1.05h-5.9zM188.0 224.20h3.2v1.05h-3.2zM184.1 233.23h5.6v1.05h-5.6zM177.9 234.24h5.9v1.05h-5.9zM191.5 236.24h8.9v1.05h-8.9zM193.0 237.24h8.0v1.05h-8.0zM181.3 240.25h3.0v1.05h-3.0zM183.7 251.29h6.6v1.05h-6.6zM192.4 254.30h6.5v1.05h-6.5zM198.0 255.30h7.4v1.05h-7.4zM195.4 262.32h2.6v1.05h-2.6zM186.0 269.34h8.3v1.05h-8.3zM202.7 278.37h5.1v1.05h-5.1zM184.5 285.39h5.3v1.05h-5.3zM191.0 287.40h3.5v1.05h-3.5z" fill="#e2bbbb"/>
<path d="M201.6 166.03h4.5v1.05h-4.5zM194.9 166.03h4.3v1.05h-4.3zM180.1 170.04h6.9v1.05h-6.9zM187.8 172.05h3.9v1.05h-3.9zM179.4 176.06h3.9v1.05h-3.9zM186.7 184.08h3.5v1.05h-3.5zM178.7 186.09h2.2v1.05h-2.2zM192.6 191.10h3.4v1.05h-3.4zM179.4 191.10h4.5v1.05h-4.5zM201.9 192.11h2.9v1.05h-2.9zM202.3 199.13h3.6v1.05h-3.6zM199.3 199.13h4.9v1.05h-4.9zM193.9 201.13h2.2v1.05h-2.2zM178.6 209.16h4.3v1.05h-4.3zM202.3 211.16h5.5v1.05h-5.5zM180.5 216.18h8.3v1.05h-8.3zM185.1 221.20h8.6v1.05h-8.6zM197.2 227.21h5.2v1.05h-5.2zM200.6 228.22h7.2v1.05h-7.2zM188.7 233.23h7.9v1.05h-7.9zM178.8 236.24h2.2v1.05h-2.2zM201.5 241.26h6.3v1.05h-6.3zM202.5 242.26h4.7v1.05h-4.7zM190.8 248.28h5.8v1.05h-5.8zM203.2 278.37h4.6v1.05h-4.6zM180.5 285.39h7.1v1.05h-7.1z" fill="#dfb5b6"/>
<path d="M183.1 158.00h8.3v1.05h-8.3zM179.8 161.01h8.1v1.05h-8.1zM187.5 164.02h5.1v1.05h-5.1zM181.0 164.02h6.9v1.05h-6.9zM195.6 164.02h8.6v1.05h-8.6zM195.7 164.02h4.6v1.05h-4.6zM201.5 169.04h5.3v1.05h-5.3zM182.2 182.08h7.7v1.05h-7.7zM183.7 188.09h8.0v1.05h-8.0zM201.4 206.15h2.4v1.05h-2.4zM180.7 216.18h8.9v1.05h-8.9zM182.6 241.26h3.2v1.05h-3.2zM189.4 243.26h7.6v1.05h-7.6zM193.4 245.27h7.2v1.05h-7.2zM192.9 253.29h7.3v1.05h-7.3zM179.0 253.29h8.8v1.05h-8.8zM196.8 254.30h3.1v1.05h-3.1z" fill="#dcafb0"/>
<path d="M183.9 157.00h7.1v1.05h-7.1zM193.9 161.01h8.2v1.05h-8.2zM193.5 161.01h5.4v1.05h-5.4zM184.0 169.04h5.1v1.05h-5.1zM188.7 179.07h6.0v1.05h-6.0z" fill="#d9a9aa"/>
<path d="M194.0 167.03h3.4v1.05h-3.4z" fill="#d6a3a5"/>
</g>
<rect x="177.3" y="157.0" width="30.5" height="131.39999999999998" fill="url(#hz_b4)"/>
<path d="M186.98 157.00 L187.05 158.00 L186.83 159.01 L187.28 160.01 L187.18 161.01 L187.52 162.02 L187.15 163.02 L187.30 164.02 L187.17 165.02 L186.89 166.03 L187.10 167.03 L187.49 168.03 L187.01 169.04 L187.23 170.04 L187.15 171.04 L187.19 172.05 L186.96 173.05 L186.77 174.05 L187.10 175.05 L187.19 176.06 L187.14 177.06 L186.60 178.06 L187.54 179.07 L187.26 180.07 L186.98 181.07 L187.11 182.08 L186.80 183.08 L187.14 184.08 L187.18 185.09 L186.96 186.09 L186.71 187.09 L187.17 188.09 L187.36 189.10 L187.24 190.10 L187.28 191.10 L187.00 192.11 L187.02 193.11 L187.13 194.11 L187.18 195.12 L186.82 196.12 L186.96 197.12 L187.04 198.13 L186.64 199.13 L186.81 200.13 L187.01 201.13 L186.96 202.14 L187.21 203.14 L186.98 204.14 L186.94 205.15 L186.88 206.15 L186.79 207.15 L186.83 208.16 L186.72 209.16 L186.95 210.16 L187.11 211.16 L187.17 212.17 L186.92 213.17 L186.81 214.17 L186.71 215.18 L186.86 216.18 L187.14 217.18 L186.94 218.19 L187.04 219.19 L187.05 220.19 L186.80 221.20 L186.86 222.20 L187.43 223.20 L187.14 224.20 L186.98 225.21 L186.80 226.21 L187.16 227.21 L187.62 228.22 L187.13 229.22 L186.97 230.22 L187.10 231.23 L187.03 232.23 L187.14 233.23 L186.96 234.24 L187.19 235.24 L186.91 236.24 L187.39 237.24 L187.15 238.25 L187.06 239.25 L186.89 240.25 L187.14 241.26 L187.14 242.26 L187.05 243.26 L187.22 244.27 L187.44 245.27 L187.32 246.27 L187.33 247.27 L187.04 248.28 L187.19 249.28 L187.07 250.28 L187.27 251.29 L187.00 252.29 L187.14 253.29 L186.89 254.30 L187.31 255.30 L186.99 256.30 L187.42 257.31 L187.32 258.31 L187.23 259.31 L187.24 260.31 L187.20 261.32 L187.62 262.32 L187.17 263.32 L187.19 264.33 L187.20 265.33 L187.37 266.33 L187.08 267.34 L186.93 268.34 L187.22 269.34 L187.31 270.35 L187.48 271.35 L187.22 272.35 L187.07 273.35 L187.47 274.36 L187.40 275.36 L187.32 276.36 L187.67 277.37 L187.17 278.37 L187.40 279.37 L187.35 280.38 L187.46 281.38 L187.81 282.38 L187.18 283.38 L187.53 284.39 L187.43 285.39 L187.39 286.39 L187.84 287.40 L187.78 288.40 L196.59 288.40 L196.58 287.40 L197.16 286.39 L197.12 285.39 L196.87 284.39 L196.85 283.38 L196.98 282.38 L197.16 281.38 L197.30 280.38 L196.80 279.37 L196.95 278.37 L196.78 277.37 L196.86 276.36 L197.05 275.36 L197.34 274.36 L196.93 273.35 L197.34 272.35 L197.33 271.35 L196.91 270.35 L197.13 269.34 L197.02 268.34 L197.35 267.34 L197.15 266.33 L197.10 265.33 L197.29 264.33 L197.12 263.32 L196.91 262.32 L197.46 261.32 L197.41 260.31 L197.33 259.31 L197.21 258.31 L197.19 257.31 L197.49 256.30 L197.45 255.30 L197.29 254.30 L197.51 253.29 L198.03 252.29 L197.02 251.29 L197.03 250.28 L197.24 249.28 L196.99 248.28 L197.07 247.27 L197.26 246.27 L197.36 245.27 L197.57 244.27 L197.50 243.26 L197.39 242.26 L197.65 241.26 L197.44 240.25 L197.73 239.25 L197.85 238.25 L197.67 237.24 L197.86 236.24 L197.09 235.24 L197.85 234.24 L197.41 233.23 L197.90 232.23 L197.63 231.23 L197.80 230.22 L197.50 229.22 L197.58 228.22 L197.69 227.21 L197.85 226.21 L197.73 225.21 L197.50 224.20 L198.00 223.20 L198.01 222.20 L198.01 221.20 L197.93 220.19 L198.08 219.19 L198.00 218.19 L197.76 217.18 L198.18 216.18 L198.32 215.18 L198.10 214.17 L197.98 213.17 L197.92 212.17 L197.94 211.16 L198.17 210.16 L198.11 209.16 L198.25 208.16 L198.04 207.15 L198.00 206.15 L198.32 205.15 L198.15 204.14 L197.91 203.14 L198.11 202.14 L198.08 201.13 L198.60 200.13 L198.31 199.13 L198.05 198.13 L198.12 197.12 L198.15 196.12 L198.05 195.12 L198.22 194.11 L198.33 193.11 L197.77 192.11 L198.04 191.10 L198.36 190.10 L197.96 189.10 L198.25 188.09 L198.26 187.09 L197.95 186.09 L198.32 185.09 L198.16 184.08 L198.15 183.08 L198.09 182.08 L198.19 181.07 L197.93 180.07 L197.96 179.07 L198.18 178.06 L197.61 177.06 L198.13 176.06 L198.18 175.05 L198.02 174.05 L198.03 173.05 L197.79 172.05 L197.92 171.04 L198.20 170.04 L198.15 169.04 L197.72 168.03 L198.16 167.03 L197.76 166.03 L198.13 165.02 L197.64 164.02 L197.89 163.02 L197.83 162.02 L198.14 161.01 L197.90 160.01 L197.64 159.01 L197.68 158.00 L198.05 157.00Z" fill="url(#hg_b4)" filter="url(#hblur2)"/>
<path d="M189.48 157.00 L189.55 158.00 L189.33 159.01 L189.78 160.01 L189.68 161.01 L190.02 162.02 L189.65 163.02 L189.80 164.02 L189.67 165.02 L189.39 166.03 L189.60 167.03 L189.99 168.03 L189.51 169.04 L189.73 170.04 L189.65 171.04 L189.69 172.05 L189.46 173.05 L189.27 174.05 L189.60 175.05 L189.69 176.06 L189.64 177.06 L189.10 178.06 L190.04 179.07 L189.76 180.07 L189.48 181.07 L189.61 182.08 L189.30 183.08 L189.64 184.08 L189.68 185.09 L189.46 186.09 L189.21 187.09 L189.67 188.09 L189.86 189.10 L189.74 190.10 L189.78 191.10 L189.50 192.11 L189.52 193.11 L189.63 194.11 L189.68 195.12 L189.32 196.12 L189.46 197.12 L189.54 198.13 L189.14 199.13 L189.31 200.13 L189.51 201.13 L189.46 202.14 L189.71 203.14 L189.48 204.14 L189.44 205.15 L189.38 206.15 L189.29 207.15 L189.33 208.16 L189.22 209.16 L189.45 210.16 L189.61 211.16 L189.67 212.17 L189.42 213.17 L189.31 214.17 L189.21 215.18 L189.36 216.18 L189.64 217.18 L189.44 218.19 L189.54 219.19 L189.55 220.19 L189.30 221.20 L189.36 222.20 L189.93 223.20 L189.64 224.20 L189.48 225.21 L189.30 226.21 L189.66 227.21 L190.12 228.22 L189.63 229.22 L189.47 230.22 L189.60 231.23 L189.53 232.23 L189.64 233.23 L189.46 234.24 L189.69 235.24 L189.41 236.24 L189.89 237.24 L189.65 238.25 L189.56 239.25 L189.39 240.25 L189.64 241.26 L189.64 242.26 L189.55 243.26 L189.72 244.27 L189.94 245.27 L189.82 246.27 L189.83 247.27 L189.54 248.28 L189.69 249.28 L189.57 250.28 L189.77 251.29 L189.50 252.29 L189.64 253.29 L189.39 254.30 L189.81 255.30 L189.49 256.30 L189.92 257.31 L189.82 258.31 L189.73 259.31 L189.74 260.31 L189.70 261.32 L190.12 262.32 L189.67 263.32 L189.69 264.33 L189.70 265.33 L189.87 266.33 L189.58 267.34 L189.43 268.34 L189.72 269.34 L189.81 270.35 L189.98 271.35 L189.72 272.35 L189.57 273.35 L189.97 274.36 L189.90 275.36 L189.82 276.36 L190.17 277.37 L189.67 278.37 L189.90 279.37 L189.85 280.38 L189.96 281.38 L190.31 282.38 L189.68 283.38 L190.03 284.39 L189.93 285.39 L189.89 286.39 L190.34 287.40 L190.28 288.40 L194.09 288.40 L194.08 287.40 L194.66 286.39 L194.62 285.39 L194.37 284.39 L194.35 283.38 L194.48 282.38 L194.66 281.38 L194.80 280.38 L194.30 279.37 L194.45 278.37 L194.28 277.37 L194.36 276.36 L194.55 275.36 L194.84 274.36 L194.43 273.35 L194.84 272.35 L194.83 271.35 L194.41 270.35 L194.63 269.34 L194.52 268.34 L194.85 267.34 L194.65 266.33 L194.60 265.33 L194.79 264.33 L194.62 263.32 L194.41 262.32 L194.96 261.32 L194.91 260.31 L194.83 259.31 L194.71 258.31 L194.69 257.31 L194.99 256.30 L194.95 255.30 L194.79 254.30 L195.01 253.29 L195.53 252.29 L194.52 251.29 L194.53 250.28 L194.74 249.28 L194.49 248.28 L194.57 247.27 L194.76 246.27 L194.86 245.27 L195.07 244.27 L195.00 243.26 L194.89 242.26 L195.15 241.26 L194.94 240.25 L195.23 239.25 L195.35 238.25 L195.17 237.24 L195.36 236.24 L194.59 235.24 L195.35 234.24 L194.91 233.23 L195.40 232.23 L195.13 231.23 L195.30 230.22 L195.00 229.22 L195.08 228.22 L195.19 227.21 L195.35 226.21 L195.23 225.21 L195.00 224.20 L195.50 223.20 L195.51 222.20 L195.51 221.20 L195.43 220.19 L195.58 219.19 L195.50 218.19 L195.26 217.18 L195.68 216.18 L195.82 215.18 L195.60 214.17 L195.48 213.17 L195.42 212.17 L195.44 211.16 L195.67 210.16 L195.61 209.16 L195.75 208.16 L195.54 207.15 L195.50 206.15 L195.82 205.15 L195.65 204.14 L195.41 203.14 L195.61 202.14 L195.58 201.13 L196.10 200.13 L195.81 199.13 L195.55 198.13 L195.62 197.12 L195.65 196.12 L195.55 195.12 L195.72 194.11 L195.83 193.11 L195.27 192.11 L195.54 191.10 L195.86 190.10 L195.46 189.10 L195.75 188.09 L195.76 187.09 L195.45 186.09 L195.82 185.09 L195.66 184.08 L195.65 183.08 L195.59 182.08 L195.69 181.07 L195.43 180.07 L195.46 179.07 L195.68 178.06 L195.11 177.06 L195.63 176.06 L195.68 175.05 L195.52 174.05 L195.53 173.05 L195.29 172.05 L195.42 171.04 L195.70 170.04 L195.65 169.04 L195.22 168.03 L195.66 167.03 L195.26 166.03 L195.63 165.02 L195.14 164.02 L195.39 163.02 L195.33 162.02 L195.64 161.01 L195.40 160.01 L195.14 159.01 L195.18 158.00 L195.55 157.00Z" fill="url(#bg_b4)" filter="url(#hblur)"/>
<g filter="url(#hblur)">
<path d="M186.6 174.05h3.0v0.60h-3.0zM186.8 186.09h2.9v0.60h-2.9zM195.0 234.24h3.9v0.60h-3.9zM187.2 238.25h2.8v0.60h-2.8zM194.7 255.30h2.7v0.60h-2.7zM187.8 260.31h2.3v0.60h-2.3zM194.1 276.36h3.2v0.60h-3.2zM194.0 279.37h3.0v0.60h-3.0zM188.8 280.38h1.4v0.60h-1.4zM186.7 287.40h4.0v0.60h-4.0z" fill="#d2181f" fill-opacity="0.200"/>
<path d="M186.4 159.01h3.2v0.60h-3.2zM195.0 172.05h2.0v0.60h-2.0zM186.9 189.10h3.3v0.60h-3.3zM195.2 189.10h1.3v0.60h-1.3zM187.9 192.11h1.9v0.60h-1.9zM195.3 197.12h2.3v0.60h-2.3zM195.4 208.16h2.4v0.60h-2.4zM188.6 217.18h1.3v0.60h-1.3zM194.7 224.20h3.0v0.60h-3.0zM194.8 228.22h2.3v0.60h-2.3zM194.5 246.27h3.5v0.60h-3.5zM194.2 250.28h2.7v0.60h-2.7zM188.9 257.31h1.4v0.60h-1.4zM188.7 261.32h1.3v0.60h-1.3zM194.2 268.34h3.6v0.60h-3.6zM188.3 282.38h2.3v0.60h-2.3z" fill="#d2181f" fill-opacity="0.267"/>
<path d="M187.9 167.03h2.0v0.60h-2.0zM188.8 168.03h1.5v0.60h-1.5zM195.4 169.04h3.0v0.60h-3.0zM186.4 181.07h3.4v0.60h-3.4zM188.0 187.09h1.5v0.60h-1.5zM195.4 188.09h2.5v0.60h-2.5zM185.9 196.12h3.7v0.60h-3.7zM195.1 203.14h3.5v0.60h-3.5zM187.4 206.15h2.3v0.60h-2.3zM195.2 206.15h1.6v0.60h-1.6zM194.7 229.22h1.6v0.60h-1.6zM189.3 262.32h1.1v0.60h-1.1zM194.3 265.33h3.8v0.60h-3.8zM188.4 276.36h1.7v0.60h-1.7zM188.2 281.38h2.1v0.60h-2.1zM186.3 283.38h3.7v0.60h-3.7z" fill="#d2181f" fill-opacity="0.333"/>
<path d="M187.3 162.02h3.0v0.60h-3.0zM188.3 164.02h1.8v0.60h-1.8zM195.3 165.02h3.5v0.60h-3.5zM186.5 175.05h3.4v0.60h-3.4zM195.3 202.14h3.9v0.60h-3.9zM195.4 210.16h1.8v0.60h-1.8zM186.4 214.17h3.2v0.60h-3.2zM195.0 226.21h1.9v0.60h-1.9zM194.6 233.23h3.3v0.60h-3.3zM187.4 235.24h2.6v0.60h-2.6zM186.9 254.30h2.7v0.60h-2.7zM188.8 259.31h1.2v0.60h-1.2zM188.3 271.35h2.0v0.60h-2.0z" fill="#d2181f" fill-opacity="0.400"/>
<path d="M188.0 161.01h1.9v0.60h-1.9zM194.8 164.02h2.5v0.60h-2.5zM188.6 166.03h1.1v0.60h-1.1zM195.0 166.03h1.3v0.60h-1.3zM195.1 171.04h3.2v0.60h-3.2zM195.2 179.07h2.5v0.60h-2.5zM186.9 223.20h3.3v0.60h-3.3zM195.0 238.25h2.8v0.60h-2.8zM194.8 241.26h3.9v0.60h-3.9zM194.5 254.30h2.3v0.60h-2.3zM194.1 270.35h3.7v0.60h-3.7zM188.8 272.35h1.2v0.60h-1.2z" fill="#d2181f" fill-opacity="0.467"/>
<path d="M188.8 158.00h1.1v0.60h-1.1zM195.1 160.01h2.1v0.60h-2.1zM195.5 187.09h1.2v0.60h-1.2zM186.6 190.10h3.4v0.60h-3.4zM186.3 202.14h3.4v0.60h-3.4zM186.0 236.24h3.7v0.60h-3.7z" fill="#d2181f" fill-opacity="0.533"/>
<path d="M189.5 158.00h5.6v1.05h-5.6zM189.3 159.01h5.8v1.05h-5.8zM190.0 162.02h5.3v1.05h-5.3zM189.8 164.02h5.3v1.05h-5.3zM189.5 169.04h6.1v1.05h-6.1zM189.7 172.05h5.6v1.05h-5.6zM189.5 173.05h6.1v1.05h-6.1zM189.6 177.06h5.5v1.05h-5.5zM189.8 180.07h5.7v1.05h-5.7zM189.5 186.09h6.0v1.05h-6.0zM189.3 196.12h6.3v1.05h-6.3zM189.1 199.13h6.7v1.05h-6.7zM189.5 201.13h6.1v1.05h-6.1zM189.9 223.20h5.6v1.05h-5.6zM189.6 229.22h5.4v1.05h-5.4zM189.6 233.23h5.3v1.05h-5.3zM189.6 241.26h5.5v1.05h-5.5zM189.8 247.27h4.7v1.05h-4.7zM189.8 251.29h4.7v1.05h-4.7zM189.6 253.29h5.4v1.05h-5.4zM189.4 254.30h5.4v1.05h-5.4zM189.7 263.32h5.0v1.05h-5.0zM189.9 266.33h4.8v1.05h-4.8zM189.7 269.34h4.9v1.05h-4.9zM190.0 274.36h4.9v1.05h-4.9z" fill="#000000" fill-opacity="0.14"/>
<path d="M189.5 204.14h6.2v1.05h-6.2zM189.3 221.20h6.2v1.05h-6.2zM189.9 237.24h5.3v1.05h-5.3zM189.6 250.28h5.0v1.05h-5.0z" fill="#ffffff" fill-opacity="0.12"/>
</g>
</g>
<linearGradient id="bg_d1" x1="0" y1="0" x2="0" y2="1"><stop offset="0.000" stop-color="#3a1f9c" stop-opacity="0.500"/><stop offset="0.100" stop-color="#3a1f9c" stop-opacity="0.700"/><stop offset="0.200" stop-color="#3a1f9c" stop-opacity="0.950"/><stop offset="0.350" stop-color="#3a1f9c" stop-opacity="1.000"/><stop offset="0.500" stop-color="#3a1f9c" stop-opacity="1.000"/><stop offset="1.000" stop-color="#3a1f9c" stop-opacity="1.000"/></linearGradient>
<linearGradient id="hg_d1" x1="0" y1="0" x2="0" y2="1"><stop offset="0.000" stop-color="#3a1f9c" stop-opacity="0.160"/><stop offset="0.100" stop-color="#3a1f9c" stop-opacity="0.224"/><stop offset="0.200" stop-color="#3a1f9c" stop-opacity="0.304"/><stop offset="0.350" stop-color="#3a1f9c" stop-opacity="0.320"/><stop offset="0.500" stop-color="#3a1f9c" stop-opacity="0.320"/><stop offset="1.000" stop-color="#3a1f9c" stop-opacity="0.320"/></linearGradient>
<clipPath id="cl_d1"><rect x="330.6" y="156.3" width="30.299999999999955" height="132.09999999999997"/></clipPath>
<g clip-path="url(#cl_d1)"><g filter="url(#hblur)">
<path d="M330.6 164.31h30.3v1.05h-30.3zM330.6 174.31h30.3v1.05h-30.3zM330.6 182.32h30.3v1.05h-30.3zM330.6 201.33h30.3v1.05h-30.3zM330.6 204.34h30.3v1.05h-30.3zM330.6 206.34h30.3v1.05h-30.3zM330.6 207.34h30.3v1.05h-30.3zM330.6 209.34h30.3v1.05h-30.3zM330.6 215.34h30.3v1.05h-30.3zM330.6 221.35h30.3v1.05h-30.3zM330.6 239.36h30.3v1.05h-30.3zM330.6 273.39h30.3v1.05h-30.3z" fill="#d1d1e9"/>
<path d="M342.9 164.31h7.8v1.05h-7.8zM330.6 165.31h30.3v1.05h-30.3zM330.6 168.31h30.3v1.05h-30.3zM330.6 169.31h30.3v1.05h-30.3zM336.1 174.31h7.9v1.05h-7.9zM330.6 179.32h30.3v1.05h-30.3zM330.6 183.32h30.3v1.05h-30.3zM330.6 184.32h30.3v1.05h-30.3zM330.6 185.32h30.3v1.05h-30.3zM330.6 186.32h30.3v1.05h-30.3zM330.6 187.32h30.3v1.05h-30.3zM330.6 193.33h30.3v1.05h-30.3zM330.6 199.33h30.3v1.05h-30.3zM330.6 208.34h30.3v1.05h-30.3zM330.6 211.34h30.3v1.05h-30.3zM330.6 213.34h30.3v1.05h-30.3zM330.6 217.35h30.3v1.05h-30.3zM330.6 223.35h30.3v1.05h-30.3zM330.6 225.35h30.3v1.05h-30.3zM330.6 228.35h30.3v1.05h-30.3zM330.6 229.36h30.3v1.05h-30.3zM330.6 233.36h30.3v1.05h-30.3zM330.6 237.36h30.3v1.05h-30.3zM345.7 239.36h5.4v1.05h-5.4zM330.6 240.36h30.3v1.05h-30.3zM330.6 244.37h30.3v1.05h-30.3zM330.6 249.37h30.3v1.05h-30.3zM330.6 252.37h30.3v1.05h-30.3zM330.6 254.37h30.3v1.05h-30.3zM330.6 255.38h30.3v1.05h-30.3zM330.6 256.38h30.3v1.05h-30.3zM330.6 257.38h30.3v1.05h-30.3zM330.6 263.38h30.3v1.05h-30.3zM330.6 264.38h30.3v1.05h-30.3zM330.6 270.39h30.3v1.05h-30.3zM330.6 271.39h30.3v1.05h-30.3zM330.6 274.39h30.3v1.05h-30.3zM330.6 275.39h30.3v1.05h-30.3zM330.6 280.39h30.3v1.05h-30.3zM330.6 286.40h30.3v1.05h-30.3z" fill="#cbcbe7"/>
<path d="M330.6 159.30h30.3v1.05h-30.3zM330.6 161.30h30.3v1.05h-30.3zM330.6 162.30h30.3v1.05h-30.3zM330.6 163.31h30.3v1.05h-30.3zM344.4 164.31h4.0v1.05h-4.0zM330.6 171.31h30.3v1.05h-30.3zM330.6 173.31h30.3v1.05h-30.3zM330.6 175.31h30.3v1.05h-30.3zM330.6 176.32h30.3v1.05h-30.3zM330.6 178.32h30.3v1.05h-30.3zM347.5 185.32h4.9v1.05h-4.9zM330.6 188.32h30.3v1.05h-30.3zM330.6 189.32h30.3v1.05h-30.3zM330.6 190.33h30.3v1.05h-30.3zM330.6 191.33h30.3v1.05h-30.3zM330.6 195.33h30.3v1.05h-30.3zM330.6 196.33h30.3v1.05h-30.3zM330.6 198.33h30.3v1.05h-30.3zM355.7 201.33h3.3v1.05h-3.3zM330.6 202.33h30.3v1.05h-30.3zM330.6 203.34h30.3v1.05h-30.3zM330.6 205.34h30.3v1.05h-30.3zM336.6 207.34h4.5v1.05h-4.5zM351.9 208.34h3.5v1.05h-3.5zM340.1 209.34h5.3v1.05h-5.3zM330.6 214.34h30.3v1.05h-30.3zM330.6 220.35h30.3v1.05h-30.3zM352.4 225.35h8.2v1.05h-8.2zM330.6 231.36h30.3v1.05h-30.3zM330.6 232.36h30.3v1.05h-30.3zM334.5 233.36h5.9v1.05h-5.9zM341.0 233.36h7.3v1.05h-7.3zM330.6 234.36h30.3v1.05h-30.3zM330.6 235.36h30.3v1.05h-30.3zM330.6 236.36h30.3v1.05h-30.3zM330.6 238.36h30.3v1.05h-30.3zM330.6 242.37h30.3v1.05h-30.3zM330.6 243.37h30.3v1.05h-30.3zM330.6 245.37h30.3v1.05h-30.3zM330.6 246.37h30.3v1.05h-30.3zM330.6 251.37h30.3v1.05h-30.3zM330.6 253.37h30.3v1.05h-30.3zM333.0 254.37h7.6v1.05h-7.6zM330.6 259.38h30.3v1.05h-30.3zM330.6 260.38h30.3v1.05h-30.3zM330.6 261.38h30.3v1.05h-30.3zM330.6 262.38h30.3v1.05h-30.3zM344.3 264.38h2.4v1.05h-2.4zM330.6 266.38h30.3v1.05h-30.3zM330.6 268.38h30.3v1.05h-30.3zM338.1 270.39h8.8v1.05h-8.8zM330.6 276.39h30.3v1.05h-30.3zM330.6 278.39h30.3v1.05h-30.3zM330.6 281.39h30.3v1.05h-30.3zM330.6 283.40h30.3v1.05h-30.3zM330.6 284.40h30.3v1.05h-30.3zM330.6 285.40h30.3v1.05h-30.3zM330.6 287.40h30.3v1.05h-30.3z" fill="#c5c5e4"/>
<path d="M330.6 156.30h30.3v1.05h-30.3zM330.6 157.30h30.3v1.05h-30.3zM330.6 158.30h30.3v1.05h-30.3zM330.6 160.30h30.3v1.05h-30.3zM330.6 166.31h30.3v1.05h-30.3zM330.6 167.31h30.3v1.05h-30.3zM332.3 168.31h7.7v1.05h-7.7zM330.6 170.31h30.3v1.05h-30.3zM330.6 172.31h30.3v1.05h-30.3zM348.2 176.32h8.7v1.05h-8.7zM352.9 178.32h6.6v1.05h-6.6zM330.6 180.32h30.3v1.05h-30.3zM351.6 185.32h8.8v1.05h-8.8zM330.6 192.33h30.3v1.05h-30.3zM330.6 194.33h30.3v1.05h-30.3zM330.6 197.33h30.3v1.05h-30.3zM355.7 199.33h3.5v1.05h-3.5zM330.6 200.33h30.3v1.05h-30.3zM341.8 204.34h7.8v1.05h-7.8zM332.1 204.34h7.7v1.05h-7.7zM332.3 206.34h5.6v1.05h-5.6zM345.7 207.34h3.9v1.05h-3.9zM330.6 210.34h30.3v1.05h-30.3zM330.6 218.35h30.3v1.05h-30.3zM330.6 219.35h30.3v1.05h-30.3zM347.7 221.35h6.1v1.05h-6.1zM330.6 222.35h30.3v1.05h-30.3zM330.6 224.35h30.3v1.05h-30.3zM330.6 226.35h30.3v1.05h-30.3zM330.6 227.35h30.3v1.05h-30.3zM349.3 228.35h6.2v1.05h-6.2zM347.2 231.36h5.2v1.05h-5.2zM341.0 237.36h7.6v1.05h-7.6zM354.5 237.36h2.6v1.05h-2.6zM338.5 239.36h2.8v1.05h-2.8zM348.7 243.37h8.3v1.05h-8.3zM330.6 247.37h30.3v1.05h-30.3zM330.6 248.37h30.3v1.05h-30.3zM341.1 252.37h7.5v1.05h-7.5zM339.4 254.37h3.2v1.05h-3.2zM354.5 256.38h4.2v1.05h-4.2zM330.6 258.38h30.3v1.05h-30.3zM344.7 260.38h2.8v1.05h-2.8zM330.6 265.38h30.3v1.05h-30.3zM330.6 267.38h30.3v1.05h-30.3zM330.6 269.39h30.3v1.05h-30.3zM347.5 276.39h8.3v1.05h-8.3zM330.6 277.39h30.3v1.05h-30.3zM330.6 279.39h30.3v1.05h-30.3zM339.3 280.39h2.8v1.05h-2.8z" fill="#bfbfe2"/>
<path d="M351.0 158.30h3.6v1.05h-3.6zM349.7 160.30h2.6v1.05h-2.6zM332.4 172.31h4.4v1.05h-4.4zM330.6 177.32h30.3v1.05h-30.3zM330.6 181.32h30.3v1.05h-30.3zM349.3 183.32h8.9v1.05h-8.9zM345.9 184.32h4.3v1.05h-4.3zM337.7 188.32h6.1v1.05h-6.1zM330.6 212.34h30.3v1.05h-30.3zM330.6 216.35h30.3v1.05h-30.3zM334.2 228.35h2.4v1.05h-2.4zM350.1 228.35h6.2v1.05h-6.2zM330.6 230.36h30.3v1.05h-30.3zM349.8 240.36h7.8v1.05h-7.8zM336.2 242.37h3.2v1.05h-3.2zM350.5 242.37h8.0v1.05h-8.0zM348.1 244.37h7.4v1.05h-7.4zM332.1 245.37h7.0v1.05h-7.0zM331.3 255.38h4.3v1.05h-4.3zM346.5 259.38h8.9v1.05h-8.9zM353.5 261.38h7.4v1.05h-7.4zM341.1 261.38h8.9v1.05h-8.9zM354.3 263.38h6.6v1.05h-6.6zM354.9 268.38h3.3v1.05h-3.3zM330.9 270.39h7.4v1.05h-7.4zM351.3 279.39h4.7v1.05h-4.7zM330.6 282.40h30.3v1.05h-30.3z" fill="#b9b9df"/>
<path d="M335.0 167.31h4.4v1.05h-4.4zM332.4 171.31h7.6v1.05h-7.6zM340.8 178.32h3.3v1.05h-3.3zM354.5 181.32h4.7v1.05h-4.7zM344.8 194.33h2.6v1.05h-2.6zM332.7 196.33h2.2v1.05h-2.2zM335.4 202.33h4.8v1.05h-4.8zM334.6 205.34h4.0v1.05h-4.0zM340.3 212.34h7.2v1.05h-7.2zM341.0 214.34h3.2v1.05h-3.2zM336.1 218.35h3.3v1.05h-3.3zM352.7 219.35h3.4v1.05h-3.4zM354.2 222.35h2.9v1.05h-2.9zM330.9 232.36h3.9v1.05h-3.9zM335.4 232.36h3.1v1.05h-3.1zM339.4 238.36h6.6v1.05h-6.6zM355.2 258.38h5.7v1.05h-5.7zM338.6 261.38h3.0v1.05h-3.0zM334.9 278.39h3.3v1.05h-3.3zM343.9 282.40h2.6v1.05h-2.6z" fill="#b3b3dd"/>
<path d="M332.4 166.31h6.2v1.05h-6.2zM348.1 197.33h3.4v1.05h-3.4zM343.5 200.33h2.3v1.05h-2.3zM346.5 226.35h6.5v1.05h-6.5zM345.9 277.39h7.0v1.05h-7.0zM331.9 277.39h6.7v1.05h-6.7z" fill="#adadda"/>
<path d="M339.7 212.34h6.3v1.05h-6.3zM340.9 230.36h5.1v1.05h-5.1zM330.6 241.36h30.3v1.05h-30.3z" fill="#a8a8d8"/>
<path d="M330.6 250.37h30.3v1.05h-30.3zM330.6 272.39h30.3v1.05h-30.3z" fill="#a2a2d5"/>
<path d="M343.3 241.36h4.1v1.05h-4.1zM338.1 272.39h4.6v1.05h-4.6z" fill="#9c9cd3"/>
<path d="M330.7 250.37h2.6v1.05h-2.6zM342.8 250.37h2.5v1.05h-2.5zM343.7 250.37h4.1v1.05h-4.1z" fill="#9696d0"/>
</g>
<path d="M341.90 156.30 L341.69 157.30 L341.74 158.30 L341.69 159.30 L341.78 160.30 L341.62 161.30 L341.57 162.30 L341.72 163.31 L341.40 164.31 L341.84 165.31 L341.74 166.31 L341.50 167.31 L341.76 168.31 L341.28 169.31 L341.49 170.31 L341.73 171.31 L341.38 172.31 L341.42 173.31 L341.50 174.31 L341.28 175.31 L341.04 176.32 L341.13 177.32 L340.98 178.32 L341.09 179.32 L341.12 180.32 L340.99 181.32 L341.12 182.32 L340.86 183.32 L340.98 184.32 L341.02 185.32 L340.77 186.32 L340.88 187.32 L340.84 188.32 L340.76 189.32 L341.05 190.33 L340.78 191.33 L340.81 192.33 L340.50 193.33 L340.52 194.33 L340.61 195.33 L340.37 196.33 L340.31 197.33 L340.63 198.33 L340.58 199.33 L340.76 200.33 L340.44 201.33 L340.28 202.33 L340.35 203.34 L340.39 204.34 L340.47 205.34 L340.12 206.34 L340.64 207.34 L340.40 208.34 L340.58 209.34 L340.33 210.34 L340.24 211.34 L340.12 212.34 L340.57 213.34 L340.14 214.34 L340.41 215.34 L340.47 216.35 L340.05 217.35 L340.33 218.35 L340.20 219.35 L340.11 220.35 L340.28 221.35 L340.14 222.35 L340.37 223.35 L340.40 224.35 L340.36 225.35 L340.56 226.35 L340.30 227.35 L340.32 228.35 L340.28 229.36 L340.20 230.36 L340.47 231.36 L340.30 232.36 L340.32 233.36 L340.55 234.36 L340.00 235.36 L340.42 236.36 L339.68 237.36 L340.32 238.36 L340.28 239.36 L340.57 240.36 L340.35 241.36 L339.93 242.37 L339.95 243.37 L340.38 244.37 L340.17 245.37 L340.06 246.37 L340.22 247.37 L339.96 248.37 L339.88 249.37 L340.17 250.37 L340.12 251.37 L339.83 252.37 L339.99 253.37 L340.31 254.37 L340.00 255.38 L340.15 256.38 L339.84 257.38 L339.87 258.38 L339.99 259.38 L340.23 260.38 L340.06 261.38 L340.56 262.38 L340.50 263.38 L340.58 264.38 L339.87 265.38 L340.31 266.38 L340.53 267.38 L340.33 268.38 L340.36 269.39 L340.27 270.39 L340.44 271.39 L340.43 272.39 L340.12 273.39 L340.20 274.39 L339.87 275.39 L340.37 276.39 L340.39 277.39 L339.94 278.39 L340.29 279.39 L340.28 280.39 L340.09 281.39 L340.54 282.40 L340.28 283.40 L340.05 284.40 L340.14 285.40 L340.71 286.40 L339.98 287.40 L340.59 288.40 L351.33 288.40 L351.89 287.40 L351.33 286.40 L351.87 285.40 L351.60 284.40 L351.67 283.40 L351.65 282.40 L351.71 281.39 L351.12 280.39 L351.83 279.39 L351.72 278.39 L351.55 277.39 L351.46 276.39 L351.70 275.39 L351.66 274.39 L351.88 273.39 L351.61 272.39 L351.40 271.39 L351.78 270.39 L351.59 269.39 L351.26 268.38 L351.06 267.38 L351.69 266.38 L351.65 265.38 L351.85 264.38 L351.58 263.38 L351.39 262.38 L351.60 261.38 L351.69 260.38 L351.67 259.38 L351.64 258.38 L351.66 257.38 L351.43 256.38 L351.71 255.38 L351.61 254.37 L351.47 253.37 L351.69 252.37 L351.34 251.37 L351.40 250.37 L351.79 249.37 L351.90 248.37 L351.85 247.37 L352.06 246.37 L351.68 245.37 L351.55 244.37 L351.86 243.37 L352.05 242.37 L351.23 241.36 L351.73 240.36 L351.56 239.36 L351.41 238.36 L351.93 237.36 L351.19 236.36 L351.70 235.36 L351.21 234.36 L351.52 233.36 L351.83 232.36 L351.39 231.36 L351.72 230.36 L351.52 229.36 L351.53 228.35 L351.61 227.35 L351.54 226.35 L351.70 225.35 L351.35 224.35 L351.54 223.35 L351.45 222.35 L351.31 221.35 L351.67 220.35 L351.82 219.35 L351.52 218.35 L351.55 217.35 L351.81 216.35 L351.47 215.34 L351.70 214.34 L351.31 213.34 L351.66 212.34 L351.67 211.34 L351.64 210.34 L351.72 209.34 L351.42 208.34 L351.44 207.34 L351.58 206.34 L351.49 205.34 L351.06 204.34 L351.25 203.34 L351.65 202.33 L351.59 201.33 L351.11 200.33 L351.16 199.33 L351.34 198.33 L351.08 197.33 L351.28 196.33 L351.20 195.33 L351.12 194.33 L351.01 193.33 L351.06 192.33 L350.93 191.33 L351.22 190.33 L351.13 189.32 L351.32 188.32 L351.15 187.32 L351.07 186.32 L350.86 185.32 L350.89 184.32 L351.00 183.32 L350.72 182.32 L350.42 181.32 L350.59 180.32 L350.64 179.32 L350.48 178.32 L350.86 177.32 L350.51 176.32 L350.52 175.31 L350.88 174.31 L350.63 173.31 L350.60 172.31 L350.57 171.31 L350.23 170.31 L350.13 169.31 L350.55 168.31 L350.23 167.31 L350.45 166.31 L350.20 165.31 L350.11 164.31 L350.13 163.31 L349.80 162.30 L350.09 161.30 L350.23 160.30 L350.02 159.30 L349.94 158.30 L349.65 157.30 L350.01 156.30Z" fill="url(#hg_d1)" filter="url(#hblur2)"/>
<path d="M344.90 156.30 L344.69 157.30 L344.74 158.30 L344.69 159.30 L344.78 160.30 L344.62 161.30 L344.57 162.30 L344.72 163.31 L344.40 164.31 L344.84 165.31 L344.74 166.31 L344.50 167.31 L344.76 168.31 L344.28 169.31 L344.49 170.31 L344.73 171.31 L344.38 172.31 L344.42 173.31 L344.50 174.31 L344.28 175.31 L344.04 176.32 L344.13 177.32 L343.98 178.32 L344.09 179.32 L344.12 180.32 L343.99 181.32 L344.12 182.32 L343.86 183.32 L343.98 184.32 L344.02 185.32 L343.77 186.32 L343.88 187.32 L343.84 188.32 L343.76 189.32 L344.05 190.33 L343.78 191.33 L343.81 192.33 L343.50 193.33 L343.52 194.33 L343.61 195.33 L343.37 196.33 L343.31 197.33 L343.63 198.33 L343.58 199.33 L343.76 200.33 L343.44 201.33 L343.28 202.33 L343.35 203.34 L343.39 204.34 L343.47 205.34 L343.12 206.34 L343.64 207.34 L343.40 208.34 L343.58 209.34 L343.33 210.34 L343.24 211.34 L343.12 212.34 L343.57 213.34 L343.14 214.34 L343.41 215.34 L343.47 216.35 L343.05 217.35 L343.33 218.35 L343.20 219.35 L343.11 220.35 L343.28 221.35 L343.14 222.35 L343.37 223.35 L343.40 224.35 L343.36 225.35 L343.56 226.35 L343.30 227.35 L343.32 228.35 L343.28 229.36 L343.20 230.36 L343.47 231.36 L343.30 232.36 L343.32 233.36 L343.55 234.36 L343.00 235.36 L343.42 236.36 L342.68 237.36 L343.32 238.36 L343.28 239.36 L343.57 240.36 L343.35 241.36 L342.93 242.37 L342.95 243.37 L343.38 244.37 L343.17 245.37 L343.06 246.37 L343.22 247.37 L342.96 248.37 L342.88 249.37 L343.17 250.37 L343.12 251.37 L342.83 252.37 L342.99 253.37 L343.31 254.37 L343.00 255.38 L343.15 256.38 L342.84 257.38 L342.87 258.38 L342.99 259.38 L343.23 260.38 L343.06 261.38 L343.56 262.38 L343.50 263.38 L343.58 264.38 L342.87 265.38 L343.31 266.38 L343.53 267.38 L343.33 268.38 L343.36 269.39 L343.27 270.39 L343.44 271.39 L343.43 272.39 L343.12 273.39 L343.20 274.39 L342.87 275.39 L343.37 276.39 L343.39 277.39 L342.94 278.39 L343.29 279.39 L343.28 280.39 L343.09 281.39 L343.54 282.40 L343.28 283.40 L343.05 284.40 L343.14 285.40 L343.71 286.40 L342.98 287.40 L343.59 288.40 L348.33 288.40 L348.89 287.40 L348.33 286.40 L348.87 285.40 L348.60 284.40 L348.67 283.40 L348.65 282.40 L348.71 281.39 L348.12 280.39 L348.83 279.39 L348.72 278.39 L348.55 277.39 L348.46 276.39 L348.70 275.39 L348.66 274.39 L348.88 273.39 L348.61 272.39 L348.40 271.39 L348.78 270.39 L348.59 269.39 L348.26 268.38 L348.06 267.38 L348.69 266.38 L348.65 265.38 L348.85 264.38 L348.58 263.38 L348.39 262.38 L348.60 261.38 L348.69 260.38 L348.67 259.38 L348.64 258.38 L348.66 257.38 L348.43 256.38 L348.71 255.38 L348.61 254.37 L348.47 253.37 L348.69 252.37 L348.34 251.37 L348.40 250.37 L348.79 249.37 L348.90 248.37 L348.85 247.37 L349.06 246.37 L348.68 245.37 L348.55 244.37 L348.86 243.37 L349.05 242.37 L348.23 241.36 L348.73 240.36 L348.56 239.36 L348.41 238.36 L348.93 237.36 L348.19 236.36 L348.70 235.36 L348.21 234.36 L348.52 233.36 L348.83 232.36 L348.39 231.36 L348.72 230.36 L348.52 229.36 L348.53 228.35 L348.61 227.35 L348.54 226.35 L348.70 225.35 L348.35 224.35 L348.54 223.35 L348.45 222.35 L348.31 221.35 L348.67 220.35 L348.82 219.35 L348.52 218.35 L348.55 217.35 L348.81 216.35 L348.47 215.34 L348.70 214.34 L348.31 213.34 L348.66 212.34 L348.67 211.34 L348.64 210.34 L348.72 209.34 L348.42 208.34 L348.44 207.34 L348.58 206.34 L348.49 205.34 L348.06 204.34 L348.25 203.34 L348.65 202.33 L348.59 201.33 L348.11 200.33 L348.16 199.33 L348.34 198.33 L348.08 197.33 L348.28 196.33 L348.20 195.33 L348.12 194.33 L348.01 193.33 L348.06 192.33 L347.93 191.33 L348.22 190.33 L348.13 189.32 L348.32 188.32 L348.15 187.32 L348.07 186.32 L347.86 185.32 L347.89 184.32 L348.00 183.32 L347.72 182.32 L347.42 181.32 L347.59 180.32 L347.64 179.32 L347.48 178.32 L347.86 177.32 L347.51 176.32 L347.52 175.31 L347.88 174.31 L347.63 173.31 L347.60 172.31 L347.57 171.31 L347.23 170.31 L347.13 169.31 L347.55 168.31 L347.23 167.31 L347.45 166.31 L347.20 165.31 L347.11 164.31 L347.13 163.31 L346.80 162.30 L347.09 161.30 L347.23 160.30 L347.02 159.30 L346.94 158.30 L346.65 157.30 L347.01 156.30Z" fill="url(#bg_d1)" filter="url(#hblur)"/>
<g filter="url(#hblur)">
<path d="M346.8 163.31h3.6v0.60h-3.6z" fill="#3a1f9c" fill-opacity="0.133"/>
<path d="M348.4 212.34h4.2v0.60h-4.2z" fill="#3a1f9c" fill-opacity="0.200"/>
<path d="M347.3 172.31h1.3v0.60h-1.3zM342.0 207.34h1.9v0.60h-1.9zM342.0 243.37h1.3v0.60h-1.3zM340.7 247.37h2.8v0.60h-2.8zM339.8 279.39h3.7v0.60h-3.7z" fill="#3a1f9c" fill-opacity="0.267"/>
<path d="M342.1 168.31h2.9v0.60h-2.9zM347.8 200.33h2.9v0.60h-2.9z" fill="#3a1f9c" fill-opacity="0.333"/>
<path d="M341.6 205.34h2.2v0.60h-2.2zM342.1 262.38h1.8v0.60h-1.8zM342.0 271.39h1.7v0.60h-1.7z" fill="#3a1f9c" fill-opacity="0.400"/>
<path d="M343.3 176.32h1.1v0.60h-1.1zM342.5 201.33h1.2v0.60h-1.2z" fill="#3a1f9c" fill-opacity="0.467"/>
<path d="M348.3 265.38h3.6v0.60h-3.6z" fill="#3a1f9c" fill-opacity="0.533"/>
</g>
</g>
<linearGradient id="bg_d2" x1="0" y1="0" x2="0" y2="1"><stop offset="0.000" stop-color="#3a1f9c" stop-opacity="1.000"/><stop offset="0.450" stop-color="#3a1f9c" stop-opacity="1.000"/><stop offset="0.700" stop-color="#3a1f9c" stop-opacity="1.000"/><stop offset="0.800" stop-color="#3a1f9c" stop-opacity="0.950"/><stop offset="0.870" stop-color="#3a1f9c" stop-opacity="0.550"/><stop offset="0.920" stop-color="#3a1f9c" stop-opacity="0.150"/><stop offset="1.000" stop-color="#3a1f9c" stop-opacity="0.000"/></linearGradient>
<linearGradient id="hg_d2" x1="0" y1="0" x2="0" y2="1"><stop offset="0.000" stop-color="#3a1f9c" stop-opacity="0.320"/><stop offset="0.450" stop-color="#3a1f9c" stop-opacity="0.320"/><stop offset="0.700" stop-color="#3a1f9c" stop-opacity="0.320"/><stop offset="0.800" stop-color="#3a1f9c" stop-opacity="0.304"/><stop offset="0.870" stop-color="#3a1f9c" stop-opacity="0.176"/><stop offset="0.920" stop-color="#3a1f9c" stop-opacity="0.048"/><stop offset="1.000" stop-color="#3a1f9c" stop-opacity="0.000"/></linearGradient>
<clipPath id="cl_d2"><rect x="367.3" y="156.3" width="30.5" height="132.09999999999997"/></clipPath>
<g clip-path="url(#cl_d2)"><g filter="url(#hblur)">
<path d="M367.3 224.35h30.5v1.05h-30.5z" fill="#dcdcee"/>
<path d="M367.3 276.39h30.5v1.05h-30.5z" fill="#d7d7ec"/>
<path d="M367.3 166.31h30.5v1.05h-30.5zM367.3 168.31h30.5v1.05h-30.5zM367.3 170.31h30.5v1.05h-30.5zM367.3 194.33h30.5v1.05h-30.5zM367.3 201.33h30.5v1.05h-30.5zM367.3 214.34h30.5v1.05h-30.5zM377.0 224.35h7.7v1.05h-7.7zM367.3 228.35h30.5v1.05h-30.5zM367.3 231.36h30.5v1.05h-30.5zM367.3 242.37h30.5v1.05h-30.5zM367.3 247.37h30.5v1.05h-30.5zM367.3 249.37h30.5v1.05h-30.5zM367.3 254.37h30.5v1.05h-30.5zM367.3 257.38h30.5v1.05h-30.5zM367.3 264.38h30.5v1.05h-30.5zM367.3 265.38h30.5v1.05h-30.5zM367.3 266.38h30.5v1.05h-30.5zM385.4 276.39h2.6v1.05h-2.6zM381.2 276.39h3.9v1.05h-3.9zM367.3 279.39h30.5v1.05h-30.5zM367.3 287.40h30.5v1.05h-30.5z" fill="#d1d1e9"/>
<path d="M367.3 157.30h30.5v1.05h-30.5zM367.3 158.30h30.5v1.05h-30.5zM367.3 160.30h30.5v1.05h-30.5zM367.3 162.30h30.5v1.05h-30.5zM367.3 171.31h30.5v1.05h-30.5zM367.3 174.31h30.5v1.05h-30.5zM367.3 175.31h30.5v1.05h-30.5zM367.3 176.32h30.5v1.05h-30.5zM367.3 180.32h30.5v1.05h-30.5zM367.3 182.32h30.5v1.05h-30.5zM367.3 187.32h30.5v1.05h-30.5zM367.3 188.32h30.5v1.05h-30.5zM367.3 189.32h30.5v1.05h-30.5zM367.3 190.33h30.5v1.05h-30.5zM367.3 191.33h30.5v1.05h-30.5zM367.3 192.33h30.5v1.05h-30.5zM367.3 193.33h30.5v1.05h-30.5zM367.3 195.33h30.5v1.05h-30.5zM367.3 196.33h30.5v1.05h-30.5zM367.3 197.33h30.5v1.05h-30.5zM367.3 198.33h30.5v1.05h-30.5zM367.3 200.33h30.5v1.05h-30.5zM367.3 204.34h30.5v1.05h-30.5zM367.3 211.34h30.5v1.05h-30.5zM367.3 215.34h30.5v1.05h-30.5zM367.3 218.35h30.5v1.05h-30.5zM367.3 220.35h30.5v1.05h-30.5zM367.3 221.35h30.5v1.05h-30.5zM367.3 227.35h30.5v1.05h-30.5zM372.0 231.36h3.5v1.05h-3.5zM374.1 231.36h4.5v1.05h-4.5zM367.3 235.36h30.5v1.05h-30.5zM367.3 236.36h30.5v1.05h-30.5zM367.3 243.37h30.5v1.05h-30.5zM367.3 251.37h30.5v1.05h-30.5zM367.3 252.37h30.5v1.05h-30.5zM391.5 254.37h4.7v1.05h-4.7zM384.9 265.38h5.5v1.05h-5.5zM367.3 270.39h30.5v1.05h-30.5zM380.4 276.39h5.5v1.05h-5.5zM367.3 277.39h30.5v1.05h-30.5zM376.1 279.39h7.7v1.05h-7.7zM367.3 280.39h30.5v1.05h-30.5zM367.3 281.39h30.5v1.05h-30.5zM367.3 283.40h30.5v1.05h-30.5zM367.3 284.40h30.5v1.05h-30.5zM367.3 285.40h30.5v1.05h-30.5z" fill="#cbcbe7"/>
<path d="M367.3 156.30h30.5v1.05h-30.5zM375.8 158.30h4.3v1.05h-4.3zM367.3 159.30h30.5v1.05h-30.5zM367.3 161.30h30.5v1.05h-30.5zM367.3 167.31h30.5v1.05h-30.5zM380.3 168.31h6.4v1.05h-6.4zM377.1 171.31h7.9v1.05h-7.9zM367.3 172.31h30.5v1.05h-30.5zM367.3 178.32h30.5v1.05h-30.5zM367.3 179.32h30.5v1.05h-30.5zM376.7 180.32h8.7v1.05h-8.7zM367.3 181.32h30.5v1.05h-30.5zM367.3 183.32h30.5v1.05h-30.5zM367.3 184.32h30.5v1.05h-30.5zM367.3 185.32h30.5v1.05h-30.5zM388.2 197.33h5.6v1.05h-5.6zM380.4 197.33h7.2v1.05h-7.2zM378.7 197.33h7.7v1.05h-7.7zM367.3 199.33h30.5v1.05h-30.5zM389.6 200.33h2.4v1.05h-2.4zM367.3 202.33h30.5v1.05h-30.5zM379.8 204.34h3.5v1.05h-3.5zM374.6 204.34h6.5v1.05h-6.5zM367.3 205.34h30.5v1.05h-30.5zM367.3 206.34h30.5v1.05h-30.5zM367.3 208.34h30.5v1.05h-30.5zM367.3 209.34h30.5v1.05h-30.5zM367.3 210.34h30.5v1.05h-30.5zM367.3 212.34h30.5v1.05h-30.5zM367.3 213.34h30.5v1.05h-30.5zM367.3 216.35h30.5v1.05h-30.5zM369.0 218.35h6.8v1.05h-6.8zM367.3 222.35h30.5v1.05h-30.5zM367.3 223.35h30.5v1.05h-30.5zM367.3 225.35h30.5v1.05h-30.5zM367.3 226.35h30.5v1.05h-30.5zM367.3 229.36h30.5v1.05h-30.5zM367.3 234.36h30.5v1.05h-30.5zM367.3 237.36h30.5v1.05h-30.5zM367.3 238.36h30.5v1.05h-30.5zM367.3 239.36h30.5v1.05h-30.5zM390.6 242.37h6.4v1.05h-6.4zM390.0 242.37h5.7v1.05h-5.7zM367.3 244.37h30.5v1.05h-30.5zM367.3 253.37h30.5v1.05h-30.5zM367.3 255.38h30.5v1.05h-30.5zM367.3 260.38h30.5v1.05h-30.5zM367.3 262.38h30.5v1.05h-30.5zM367.3 263.38h30.5v1.05h-30.5zM367.8 265.38h6.9v1.05h-6.9zM367.3 267.38h30.5v1.05h-30.5zM367.3 269.39h30.5v1.05h-30.5zM367.3 271.39h30.5v1.05h-30.5zM367.3 273.39h30.5v1.05h-30.5zM367.3 274.39h30.5v1.05h-30.5zM367.9 276.39h4.4v1.05h-4.4zM367.3 278.39h30.5v1.05h-30.5zM392.6 281.39h5.2v1.05h-5.2zM367.3 282.40h30.5v1.05h-30.5zM381.8 283.40h8.6v1.05h-8.6zM391.8 284.40h6.0v1.05h-6.0z" fill="#c5c5e4"/>
<path d="M393.2 156.30h3.3v1.05h-3.3zM381.6 157.30h7.1v1.05h-7.1zM390.1 157.30h6.1v1.05h-6.1zM388.7 159.30h6.7v1.05h-6.7zM381.9 161.30h4.8v1.05h-4.8zM367.3 163.31h30.5v1.05h-30.5zM367.3 164.31h30.5v1.05h-30.5zM367.3 165.31h30.5v1.05h-30.5zM367.3 169.31h30.5v1.05h-30.5zM367.9 170.31h7.3v1.05h-7.3zM367.3 173.31h30.5v1.05h-30.5zM390.8 184.32h7.0v1.05h-7.0zM374.7 184.32h4.8v1.05h-4.8zM367.3 186.32h30.5v1.05h-30.5zM384.6 187.32h8.3v1.05h-8.3zM369.4 189.32h3.1v1.05h-3.1zM381.9 189.32h7.5v1.05h-7.5zM381.0 200.33h8.8v1.05h-8.8zM376.2 202.33h5.9v1.05h-5.9zM367.3 203.34h30.5v1.05h-30.5zM373.4 205.34h2.5v1.05h-2.5zM367.3 207.34h30.5v1.05h-30.5zM372.8 209.34h7.1v1.05h-7.1zM375.2 213.34h4.7v1.05h-4.7zM369.1 213.34h6.7v1.05h-6.7zM369.7 214.34h8.3v1.05h-8.3zM367.3 217.35h30.5v1.05h-30.5zM367.3 219.35h30.5v1.05h-30.5zM367.3 230.36h30.5v1.05h-30.5zM386.3 231.36h8.8v1.05h-8.8zM367.3 232.36h30.5v1.05h-30.5zM367.3 233.36h30.5v1.05h-30.5zM374.8 237.36h2.5v1.05h-2.5zM380.3 239.36h7.2v1.05h-7.2zM367.3 240.36h30.5v1.05h-30.5zM367.3 245.37h30.5v1.05h-30.5zM367.3 246.37h30.5v1.05h-30.5zM383.7 253.37h7.6v1.05h-7.6zM367.3 256.38h30.5v1.05h-30.5zM367.3 258.38h30.5v1.05h-30.5zM367.3 259.38h30.5v1.05h-30.5zM367.3 261.38h30.5v1.05h-30.5zM387.3 262.38h8.8v1.05h-8.8zM381.1 265.38h2.7v1.05h-2.7zM374.2 265.38h7.5v1.05h-7.5zM367.9 266.38h7.0v1.05h-7.0zM367.3 268.38h30.5v1.05h-30.5zM391.5 270.39h2.3v1.05h-2.3zM372.2 270.39h4.8v1.05h-4.8zM367.3 275.39h30.5v1.05h-30.5zM384.0 280.39h6.0v1.05h-6.0zM385.0 281.39h3.4v1.05h-3.4zM375.5 285.40h7.6v1.05h-7.6zM367.3 286.40h30.5v1.05h-30.5z" fill="#bfbfe2"/>
<path d="M374.3 157.30h2.3v1.05h-2.3zM381.1 158.30h7.1v1.05h-7.1zM389.1 163.31h3.4v1.05h-3.4zM392.4 169.31h4.5v1.05h-4.5zM385.2 172.31h4.9v1.05h-4.9zM389.2 176.32h8.6v1.05h-8.6zM367.3 177.32h30.5v1.05h-30.5zM381.3 178.32h5.5v1.05h-5.5zM371.5 179.32h2.4v1.05h-2.4zM373.4 183.32h5.6v1.05h-5.6zM375.5 184.32h8.2v1.05h-8.2zM391.9 186.32h5.6v1.05h-5.6zM368.6 186.32h9.0v1.05h-9.0zM386.4 196.33h2.3v1.05h-2.3zM371.7 198.33h7.0v1.05h-7.0zM368.1 203.34h4.5v1.05h-4.5zM388.3 208.34h7.4v1.05h-7.4zM373.2 210.34h4.5v1.05h-4.5zM372.8 213.34h3.1v1.05h-3.1zM378.2 219.35h7.8v1.05h-7.8zM393.0 220.35h2.4v1.05h-2.4zM386.5 222.35h8.8v1.05h-8.8zM390.4 226.35h6.3v1.05h-6.3zM373.8 230.36h4.4v1.05h-4.4zM379.0 235.36h7.6v1.05h-7.6zM388.2 243.37h7.3v1.05h-7.3zM367.3 248.37h30.5v1.05h-30.5zM389.4 251.37h5.0v1.05h-5.0zM388.6 261.38h3.8v1.05h-3.8zM371.4 267.38h2.9v1.05h-2.9zM371.3 271.39h6.7v1.05h-6.7zM369.4 278.39h2.8v1.05h-2.8zM385.5 278.39h5.9v1.05h-5.9zM374.7 281.39h3.0v1.05h-3.0zM376.7 283.40h8.4v1.05h-8.4zM369.3 283.40h3.5v1.05h-3.5z" fill="#b9b9df"/>
<path d="M393.1 163.31h4.5v1.05h-4.5zM381.5 164.31h4.4v1.05h-4.4zM371.4 173.31h4.0v1.05h-4.0zM389.0 178.32h5.6v1.05h-5.6zM391.9 181.32h5.9v1.05h-5.9zM369.0 181.32h3.2v1.05h-3.2zM392.0 203.34h5.8v1.05h-5.8zM390.6 208.34h7.2v1.05h-7.2zM374.0 210.34h8.4v1.05h-8.4zM371.4 216.35h2.4v1.05h-2.4zM384.4 229.36h7.3v1.05h-7.3zM379.6 238.36h6.6v1.05h-6.6zM392.9 245.37h2.7v1.05h-2.7zM390.4 246.37h7.4v1.05h-7.4zM383.6 260.38h3.7v1.05h-3.7zM370.4 274.39h5.9v1.05h-5.9zM379.4 286.40h6.7v1.05h-6.7z" fill="#b3b3dd"/>
<path d="M370.8 165.31h7.5v1.05h-7.5zM377.9 165.31h7.8v1.05h-7.8zM383.6 169.31h6.2v1.05h-6.2zM384.6 173.31h3.1v1.05h-3.1zM388.6 186.32h7.3v1.05h-7.3zM379.8 186.32h7.6v1.05h-7.6zM369.3 232.36h5.6v1.05h-5.6zM380.3 256.38h7.3v1.05h-7.3zM390.9 258.38h6.9v1.05h-6.9zM391.3 259.38h2.9v1.05h-2.9zM382.3 286.40h3.4v1.05h-3.4z" fill="#adadda"/>
<path d="M379.8 248.37h2.8v1.05h-2.8zM367.3 250.37h30.5v1.05h-30.5z" fill="#a8a8d8"/>
<path d="M367.3 241.36h30.5v1.05h-30.5z" fill="#a2a2d5"/>
<path d="M367.3 272.39h30.5v1.05h-30.5z" fill="#9c9cd3"/>
<path d="M371.5 241.36h7.3v1.05h-7.3zM367.9 272.39h6.7v1.05h-6.7z" fill="#9696d0"/>
</g>
<path d="M375.88 156.30 L376.04 157.30 L376.01 158.30 L376.03 159.30 L376.04 160.30 L376.13 161.30 L375.91 162.30 L376.21 163.31 L376.37 164.31 L375.98 165.31 L376.32 166.31 L376.16 167.31 L376.25 168.31 L376.08 169.31 L376.32 170.31 L376.18 171.31 L375.89 172.31 L376.15 173.31 L376.47 174.31 L376.48 175.31 L376.24 176.32 L376.22 177.32 L376.34 178.32 L376.57 179.32 L375.87 180.32 L375.82 181.32 L375.99 182.32 L376.02 183.32 L376.24 184.32 L376.32 185.32 L376.09 186.32 L376.43 187.32 L376.55 188.32 L376.37 189.32 L376.29 190.33 L376.18 191.33 L376.67 192.33 L376.19 193.33 L376.25 194.33 L376.28 195.33 L376.32 196.33 L376.48 197.33 L376.65 198.33 L375.89 199.33 L376.12 200.33 L376.55 201.33 L376.32 202.33 L376.38 203.34 L376.39 204.34 L376.53 205.34 L376.49 206.34 L376.59 207.34 L376.08 208.34 L376.62 209.34 L376.27 210.34 L376.37 211.34 L376.05 212.34 L376.32 213.34 L376.33 214.34 L376.57 215.34 L376.19 216.35 L376.26 217.35 L376.71 218.35 L376.89 219.35 L376.67 220.35 L376.59 221.35 L376.98 222.35 L376.80 223.35 L376.81 224.35 L376.94 225.35 L376.95 226.35 L377.00 227.35 L376.80 228.35 L376.77 229.36 L376.68 230.36 L377.00 231.36 L377.15 232.36 L376.84 233.36 L376.87 234.36 L376.79 235.36 L377.18 236.36 L377.10 237.36 L376.98 238.36 L376.92 239.36 L376.87 240.36 L377.00 241.36 L377.26 242.37 L377.10 243.37 L377.29 244.37 L377.08 245.37 L377.36 246.37 L377.31 247.37 L377.69 248.37 L377.18 249.37 L377.33 250.37 L377.63 251.37 L377.88 252.37 L377.53 253.37 L377.90 254.37 L377.82 255.38 L377.94 256.38 L378.16 257.38 L378.20 258.38 L378.37 259.38 L378.15 260.38 L377.93 261.38 L378.33 262.38 L378.60 263.38 L378.47 264.38 L378.88 265.38 L378.80 266.38 L378.80 267.38 L378.72 268.38 L378.85 269.39 L378.80 270.39 L378.97 271.39 L379.11 272.39 L379.42 273.39 L379.09 274.39 L379.48 275.39 L379.32 276.39 L379.77 277.39 L379.32 278.39 L379.75 279.39 L379.84 280.39 L379.62 281.39 L379.74 282.40 L379.43 283.40 L379.54 284.40 L379.71 285.40 L379.85 286.40 L379.93 287.40 L379.71 288.40 L385.71 288.40 L385.98 287.40 L385.97 286.40 L385.87 285.40 L385.77 284.40 L385.68 283.40 L386.07 282.40 L386.00 281.39 L386.25 280.39 L386.21 279.39 L385.91 278.39 L386.35 277.39 L386.17 276.39 L386.52 275.39 L386.19 274.39 L386.54 273.39 L386.37 272.39 L386.57 271.39 L386.59 270.39 L386.80 269.39 L386.97 268.38 L387.10 267.38 L387.07 266.38 L387.35 265.38 L387.13 264.38 L387.19 263.38 L387.40 262.38 L387.49 261.38 L387.25 260.38 L387.56 259.38 L387.52 258.38 L387.49 257.38 L387.48 256.38 L387.39 255.38 L387.76 254.37 L387.35 253.37 L387.64 252.37 L387.64 251.37 L387.91 250.37 L387.67 249.37 L387.65 248.37 L388.02 247.37 L387.92 246.37 L387.92 245.37 L387.86 244.37 L387.87 243.37 L388.15 242.37 L387.87 241.36 L388.18 240.36 L388.06 239.36 L388.23 238.36 L387.66 237.36 L388.06 236.36 L387.93 235.36 L387.78 234.36 L387.77 233.36 L388.20 232.36 L387.73 231.36 L387.86 230.36 L387.96 229.36 L387.76 228.35 L388.04 227.35 L387.73 226.35 L387.96 225.35 L388.08 224.35 L388.26 223.35 L387.91 222.35 L388.10 221.35 L388.02 220.35 L387.68 219.35 L387.94 218.35 L387.90 217.35 L388.33 216.35 L388.04 215.34 L388.22 214.34 L388.06 213.34 L388.32 212.34 L388.33 211.34 L387.96 210.34 L387.98 209.34 L388.38 208.34 L387.84 207.34 L388.12 206.34 L387.95 205.34 L388.37 204.34 L388.09 203.34 L388.41 202.33 L388.28 201.33 L388.10 200.33 L388.46 199.33 L388.09 198.33 L388.20 197.33 L388.59 196.33 L388.03 195.33 L388.13 194.33 L388.37 193.33 L388.09 192.33 L388.11 191.33 L388.48 190.33 L388.16 189.32 L388.29 188.32 L388.23 187.32 L388.37 186.32 L388.10 185.32 L388.33 184.32 L388.25 183.32 L388.26 182.32 L388.41 181.32 L388.51 180.32 L388.13 179.32 L388.36 178.32 L388.44 177.32 L388.13 176.32 L388.16 175.31 L387.99 174.31 L388.20 173.31 L388.49 172.31 L387.89 171.31 L388.49 170.31 L388.22 169.31 L388.28 168.31 L387.99 167.31 L387.79 166.31 L388.12 165.31 L388.12 164.31 L388.36 163.31 L388.53 162.30 L388.38 161.30 L388.46 160.30 L388.46 159.30 L388.46 158.30 L388.39 157.30 L388.48 156.30Z" fill="url(#hg_d2)" filter="url(#hblur2)"/>
<path d="M378.88 156.30 L379.04 157.30 L379.01 158.30 L379.03 159.30 L379.04 160.30 L379.13 161.30 L378.91 162.30 L379.21 163.31 L379.37 164.31 L378.98 165.31 L379.32 166.31 L379.16 167.31 L379.25 168.31 L379.08 169.31 L379.32 170.31 L379.18 171.31 L378.89 172.31 L379.15 173.31 L379.47 174.31 L379.48 175.31 L379.24 176.32 L379.22 177.32 L379.34 178.32 L379.57 179.32 L378.87 180.32 L378.82 181.32 L378.99 182.32 L379.02 183.32 L379.24 184.32 L379.32 185.32 L379.09 186.32 L379.43 187.32 L379.55 188.32 L379.37 189.32 L379.29 190.33 L379.18 191.33 L379.67 192.33 L379.19 193.33 L379.25 194.33 L379.28 195.33 L379.32 196.33 L379.48 197.33 L379.65 198.33 L378.89 199.33 L379.12 200.33 L379.55 201.33 L379.32 202.33 L379.38 203.34 L379.39 204.34 L379.53 205.34 L379.49 206.34 L379.59 207.34 L379.08 208.34 L379.62 209.34 L379.27 210.34 L379.37 211.34 L379.05 212.34 L379.32 213.34 L379.33 214.34 L379.57 215.34 L379.19 216.35 L379.26 217.35 L379.71 218.35 L379.89 219.35 L379.67 220.35 L379.59 221.35 L379.98 222.35 L379.80 223.35 L379.81 224.35 L379.94 225.35 L379.95 226.35 L380.00 227.35 L379.80 228.35 L379.77 229.36 L379.68 230.36 L380.00 231.36 L380.15 232.36 L379.84 233.36 L379.87 234.36 L379.79 235.36 L380.18 236.36 L380.10 237.36 L379.98 238.36 L379.92 239.36 L379.87 240.36 L380.00 241.36 L380.26 242.37 L380.10 243.37 L380.29 244.37 L380.08 245.37 L380.36 246.37 L380.31 247.37 L380.69 248.37 L380.18 249.37 L380.33 250.37 L380.63 251.37 L380.88 252.37 L380.53 253.37 L380.90 254.37 L380.82 255.38 L380.94 256.38 L381.16 257.38 L381.20 258.38 L381.37 259.38 L381.15 260.38 L380.93 261.38 L381.33 262.38 L381.60 263.38 L381.47 264.38 L381.88 265.38 L381.80 266.38 L381.80 267.38 L381.72 268.38 L381.85 269.39 L381.80 270.39 L381.97 271.39 L382.11 272.39 L382.42 273.39 L382.09 274.39 L382.48 275.39 L382.32 276.39 L382.77 277.39 L382.32 278.39 L382.75 279.39 L382.84 280.39 L382.62 281.39 L382.74 282.40 L382.43 283.40 L382.54 284.40 L382.71 285.40 L382.85 286.40 L382.93 287.40 L382.71 288.40 L382.71 288.40 L382.98 287.40 L382.97 286.40 L382.87 285.40 L382.77 284.40 L382.68 283.40 L383.07 282.40 L383.00 281.39 L383.25 280.39 L383.21 279.39 L382.91 278.39 L383.35 277.39 L383.17 276.39 L383.52 275.39 L383.19 274.39 L383.54 273.39 L383.37 272.39 L383.57 271.39 L383.59 270.39 L383.80 269.39 L383.97 268.38 L384.10 267.38 L384.07 266.38 L384.35 265.38 L384.13 264.38 L384.19 263.38 L384.40 262.38 L384.49 261.38 L384.25 260.38 L384.56 259.38 L384.52 258.38 L384.49 257.38 L384.48 256.38 L384.39 255.38 L384.76 254.37 L384.35 253.37 L384.64 252.37 L384.64 251.37 L384.91 250.37 L384.67 249.37 L384.65 248.37 L385.02 247.37 L384.92 246.37 L384.92 245.37 L384.86 244.37 L384.87 243.37 L385.15 242.37 L384.87 241.36 L385.18 240.36 L385.06 239.36 L385.23 238.36 L384.66 237.36 L385.06 236.36 L384.93 235.36 L384.78 234.36 L384.77 233.36 L385.20 232.36 L384.73 231.36 L384.86 230.36 L384.96 229.36 L384.76 228.35 L385.04 227.35 L384.73 226.35 L384.96 225.35 L385.08 224.35 L385.26 223.35 L384.91 222.35 L385.10 221.35 L385.02 220.35 L384.68 219.35 L384.94 218.35 L384.90 217.35 L385.33 216.35 L385.04 215.34 L385.22 214.34 L385.06 213.34 L385.32 212.34 L385.33 211.34 L384.96 210.34 L384.98 209.34 L385.38 208.34 L384.84 207.34 L385.12 206.34 L384.95 205.34 L385.37 204.34 L385.09 203.34 L385.41 202.33 L385.28 201.33 L385.10 200.33 L385.46 199.33 L385.09 198.33 L385.20 197.33 L385.59 196.33 L385.03 195.33 L385.13 194.33 L385.37 193.33 L385.09 192.33 L385.11 191.33 L385.48 190.33 L385.16 189.32 L385.29 188.32 L385.23 187.32 L385.37 186.32 L385.10 185.32 L385.33 184.32 L385.25 183.32 L385.26 182.32 L385.41 181.32 L385.51 180.32 L385.13 179.32 L385.36 178.32 L385.44 177.32 L385.13 176.32 L385.16 175.31 L384.99 174.31 L385.20 173.31 L385.49 172.31 L384.89 171.31 L385.49 170.31 L385.22 169.31 L385.28 168.31 L384.99 167.31 L384.79 166.31 L385.12 165.31 L385.12 164.31 L385.36 163.31 L385.53 162.30 L385.38 161.30 L385.46 160.30 L385.46 159.30 L385.46 158.30 L385.39 157.30 L385.48 156.30Z" fill="url(#bg_d2)" filter="url(#hblur)"/>
<g filter="url(#hblur)">
<path d="M384.7 220.35h4.9v0.60h-4.9z" fill="#3a1f9c" fill-opacity="0.200"/>
<path d="M384.8 224.35h3.3v0.60h-3.3zM376.1 241.36h4.2v0.60h-4.2z" fill="#3a1f9c" fill-opacity="0.267"/>
<path d="M384.7 174.31h4.7v0.60h-4.7z" fill="#3a1f9c" fill-opacity="0.333"/>
<path d="M384.8 164.31h4.9v0.60h-4.9zM376.9 235.36h3.2v0.60h-3.2z" fill="#3a1f9c" fill-opacity="0.400"/>
<path d="M385.1 163.31h2.6v0.60h-2.6zM376.5 189.32h3.1v0.60h-3.1zM379.0 234.36h1.2v0.60h-1.2z" fill="#3a1f9c" fill-opacity="0.467"/>
<path d="M385.1 161.30h2.2v0.60h-2.2zM377.4 197.33h2.4v0.60h-2.4z" fill="#3a1f9c" fill-opacity="0.533"/>
</g>
</g>
<linearGradient id="hz_d3" x1="0" y1="0" x2="1" y2="0"><stop offset="0" stop-color="#d2181f" stop-opacity="0"/><stop offset="0.5" stop-color="#d2181f" stop-opacity="0.08"/><stop offset="1" stop-color="#d2181f" stop-opacity="0"/></linearGradient>
<linearGradient id="bg_d3" x1="0" y1="0" x2="0" y2="1"><stop offset="0.000" stop-color="#d2181f" stop-opacity="1.000"/><stop offset="0.500" stop-color="#d2181f" stop-opacity="1.000"/><stop offset="0.840" stop-color="#d2181f" stop-opacity="1.000"/><stop offset="0.910" stop-color="#d2181f" stop-opacity="0.650"/><stop offset="0.970" stop-color="#d2181f" stop-opacity="0.250"/><stop offset="1.000" stop-color="#d2181f" stop-opacity="0.100"/></linearGradient>
<linearGradient id="hg_d3" x1="0" y1="0" x2="0" y2="1"><stop offset="0.000" stop-color="#d2181f" stop-opacity="0.450"/><stop offset="0.500" stop-color="#d2181f" stop-opacity="0.450"/><stop offset="0.840" stop-color="#d2181f" stop-opacity="0.450"/><stop offset="0.910" stop-color="#d2181f" stop-opacity="0.293"/><stop offset="0.970" stop-color="#d2181f" stop-opacity="0.113"/><stop offset="1.000" stop-color="#d2181f" stop-opacity="0.045"/></linearGradient>
<clipPath id="cl_d3"><rect x="407.2" y="156.3" width="30.69999999999999" height="132.09999999999997"/></clipPath>
<g clip-path="url(#cl_d3)"><g filter="url(#hblur)">
<path d="M407.2 191.33h30.7v1.05h-30.7zM407.2 238.36h30.7v1.05h-30.7z" fill="#faeae8"/>
<path d="M407.2 169.31h30.7v1.05h-30.7zM407.2 176.32h30.7v1.05h-30.7zM407.2 185.32h30.7v1.05h-30.7zM407.2 196.33h30.7v1.05h-30.7zM407.2 204.34h30.7v1.05h-30.7zM407.2 223.35h30.7v1.05h-30.7zM407.2 257.38h30.7v1.05h-30.7zM407.2 262.38h30.7v1.05h-30.7zM407.2 270.39h30.7v1.05h-30.7z" fill="#f7e4e2"/>
<path d="M407.2 157.30h30.7v1.05h-30.7zM407.2 160.30h30.7v1.05h-30.7zM407.2 167.31h30.7v1.05h-30.7zM407.2 175.31h30.7v1.05h-30.7zM407.2 182.32h30.7v1.05h-30.7zM407.2 183.32h30.7v1.05h-30.7zM407.2 189.32h30.7v1.05h-30.7zM407.2 190.33h30.7v1.05h-30.7zM407.2 197.33h30.7v1.05h-30.7zM407.2 207.34h30.7v1.05h-30.7zM407.2 211.34h30.7v1.05h-30.7zM407.2 215.34h30.7v1.05h-30.7zM407.2 217.35h30.7v1.05h-30.7zM407.2 221.35h30.7v1.05h-30.7zM407.2 231.36h30.7v1.05h-30.7zM407.2 242.37h30.7v1.05h-30.7zM407.2 249.37h30.7v1.05h-30.7zM407.2 251.37h30.7v1.05h-30.7zM407.2 252.37h30.7v1.05h-30.7zM407.2 255.38h30.7v1.05h-30.7zM407.2 264.38h30.7v1.05h-30.7zM407.2 274.39h30.7v1.05h-30.7zM407.2 275.39h30.7v1.05h-30.7zM407.2 280.39h30.7v1.05h-30.7zM407.2 282.40h30.7v1.05h-30.7zM407.2 283.40h30.7v1.05h-30.7zM407.2 284.40h30.7v1.05h-30.7z" fill="#f4dedd"/>
<path d="M407.2 158.30h30.7v1.05h-30.7zM407.2 161.30h30.7v1.05h-30.7zM407.2 162.30h30.7v1.05h-30.7zM407.2 164.31h30.7v1.05h-30.7zM407.2 166.31h30.7v1.05h-30.7zM414.9 169.31h4.9v1.05h-4.9zM407.2 170.31h30.7v1.05h-30.7zM407.2 178.32h30.7v1.05h-30.7zM407.2 181.32h30.7v1.05h-30.7zM407.2 186.32h30.7v1.05h-30.7zM409.0 191.33h5.3v1.05h-5.3zM407.7 191.33h5.6v1.05h-5.6zM407.2 192.33h30.7v1.05h-30.7zM407.2 193.33h30.7v1.05h-30.7zM407.2 195.33h30.7v1.05h-30.7zM419.6 196.33h8.6v1.05h-8.6zM407.2 200.33h30.7v1.05h-30.7zM407.2 203.34h30.7v1.05h-30.7zM407.2 205.34h30.7v1.05h-30.7zM407.2 210.34h30.7v1.05h-30.7zM407.2 213.34h30.7v1.05h-30.7zM407.2 220.35h30.7v1.05h-30.7zM407.2 228.35h30.7v1.05h-30.7zM407.2 229.36h30.7v1.05h-30.7zM407.2 230.36h30.7v1.05h-30.7zM407.2 233.36h30.7v1.05h-30.7zM407.2 234.36h30.7v1.05h-30.7zM411.2 238.36h3.0v1.05h-3.0zM407.2 239.36h30.7v1.05h-30.7zM407.2 244.37h30.7v1.05h-30.7zM407.2 246.37h30.7v1.05h-30.7zM407.2 254.37h30.7v1.05h-30.7zM407.2 256.38h30.7v1.05h-30.7zM407.2 259.38h30.7v1.05h-30.7zM407.2 260.38h30.7v1.05h-30.7zM407.2 261.38h30.7v1.05h-30.7zM407.2 265.38h30.7v1.05h-30.7zM407.2 269.39h30.7v1.05h-30.7zM420.4 270.39h3.9v1.05h-3.9zM407.2 277.39h30.7v1.05h-30.7zM407.2 285.40h30.7v1.05h-30.7z" fill="#f1d8d7"/>
<path d="M432.8 157.30h5.1v1.05h-5.1zM407.2 159.30h30.7v1.05h-30.7zM407.2 163.31h30.7v1.05h-30.7zM407.2 165.31h30.7v1.05h-30.7zM407.2 168.31h30.7v1.05h-30.7zM407.2 172.31h30.7v1.05h-30.7zM407.2 174.31h30.7v1.05h-30.7zM407.2 177.32h30.7v1.05h-30.7zM407.2 180.32h30.7v1.05h-30.7zM415.4 185.32h5.0v1.05h-5.0zM407.2 187.32h30.7v1.05h-30.7zM407.2 194.33h30.7v1.05h-30.7zM407.2 198.33h30.7v1.05h-30.7zM407.2 201.33h30.7v1.05h-30.7zM407.2 202.33h30.7v1.05h-30.7zM407.2 206.34h30.7v1.05h-30.7zM407.2 208.34h30.7v1.05h-30.7zM430.2 211.34h7.7v1.05h-7.7zM407.2 214.34h30.7v1.05h-30.7zM407.2 218.35h30.7v1.05h-30.7zM407.2 219.35h30.7v1.05h-30.7zM407.2 222.35h30.7v1.05h-30.7zM407.2 226.35h30.7v1.05h-30.7zM407.2 227.35h30.7v1.05h-30.7zM407.2 236.36h30.7v1.05h-30.7zM407.2 237.36h30.7v1.05h-30.7zM407.2 245.37h30.7v1.05h-30.7zM407.2 248.37h30.7v1.05h-30.7zM407.2 253.37h30.7v1.05h-30.7zM418.0 255.38h8.2v1.05h-8.2zM407.2 267.38h30.7v1.05h-30.7zM407.2 268.38h30.7v1.05h-30.7zM407.2 276.39h30.7v1.05h-30.7zM407.2 278.39h30.7v1.05h-30.7zM407.2 279.39h30.7v1.05h-30.7zM407.2 281.39h30.7v1.05h-30.7zM407.2 286.40h30.7v1.05h-30.7zM407.2 287.40h30.7v1.05h-30.7z" fill="#eed2d2"/>
<path d="M428.1 160.30h5.7v1.05h-5.7zM407.5 164.31h3.6v1.05h-3.6zM407.2 173.31h30.7v1.05h-30.7zM409.6 182.32h8.0v1.05h-8.0zM424.2 185.32h3.1v1.05h-3.1zM428.6 186.32h6.0v1.05h-6.0zM407.2 199.33h30.7v1.05h-30.7zM407.7 200.33h3.0v1.05h-3.0zM428.6 203.34h6.7v1.05h-6.7zM407.2 209.34h30.7v1.05h-30.7zM418.4 210.34h5.4v1.05h-5.4zM431.4 211.34h4.3v1.05h-4.3zM407.2 212.34h30.7v1.05h-30.7zM407.2 224.35h30.7v1.05h-30.7zM407.2 225.35h30.7v1.05h-30.7zM407.2 232.36h30.7v1.05h-30.7zM407.2 235.36h30.7v1.05h-30.7zM407.2 243.37h30.7v1.05h-30.7zM407.2 247.37h30.7v1.05h-30.7zM418.2 251.37h4.2v1.05h-4.2zM422.3 257.38h3.4v1.05h-3.4zM407.2 266.38h30.7v1.05h-30.7zM417.9 269.39h3.2v1.05h-3.2zM407.2 271.39h30.7v1.05h-30.7zM407.2 273.39h30.7v1.05h-30.7zM407.6 282.40h7.2v1.05h-7.2zM426.2 284.40h6.0v1.05h-6.0zM414.5 284.40h7.4v1.05h-7.4z" fill="#ebcccc"/>
<path d="M407.2 156.30h30.7v1.05h-30.7zM421.4 163.31h8.4v1.05h-8.4zM421.7 166.31h6.5v1.05h-6.5zM423.7 169.31h4.3v1.05h-4.3zM421.9 170.31h5.8v1.05h-5.8zM407.2 171.31h30.7v1.05h-30.7zM418.9 172.31h5.0v1.05h-5.0zM408.2 177.32h7.5v1.05h-7.5zM422.5 183.32h8.6v1.05h-8.6zM407.2 184.32h30.7v1.05h-30.7zM407.2 188.32h30.7v1.05h-30.7zM425.2 194.33h8.6v1.05h-8.6zM428.2 203.34h7.6v1.05h-7.6zM426.3 211.34h7.4v1.05h-7.4zM418.0 214.34h7.3v1.05h-7.3zM409.6 215.34h6.4v1.05h-6.4zM407.2 216.35h30.7v1.05h-30.7zM408.8 218.35h2.8v1.05h-2.8zM419.7 223.35h7.1v1.05h-7.1zM411.8 227.35h3.3v1.05h-3.3zM407.7 227.35h3.3v1.05h-3.3zM429.8 229.36h3.9v1.05h-3.9zM408.8 229.36h2.8v1.05h-2.8zM428.2 236.36h8.3v1.05h-8.3zM407.2 240.36h30.7v1.05h-30.7zM416.7 244.37h2.9v1.05h-2.9zM419.8 249.37h4.4v1.05h-4.4zM425.6 251.37h4.9v1.05h-4.9zM433.2 253.37h4.7v1.05h-4.7zM407.2 258.38h30.7v1.05h-30.7zM420.5 260.38h3.5v1.05h-3.5zM412.3 262.38h7.5v1.05h-7.5zM407.2 263.38h30.7v1.05h-30.7zM427.7 264.38h3.0v1.05h-3.0zM419.3 265.38h4.0v1.05h-4.0zM417.5 269.39h4.4v1.05h-4.4zM408.7 275.39h8.2v1.05h-8.2zM413.4 282.40h2.8v1.05h-2.8z" fill="#e8c6c6"/>
<path d="M419.6 160.30h7.0v1.05h-7.0zM418.3 161.30h6.0v1.05h-6.0zM409.2 165.31h5.3v1.05h-5.3zM421.1 173.31h3.9v1.05h-3.9zM412.9 177.32h3.8v1.05h-3.8zM428.3 178.32h3.9v1.05h-3.9zM407.2 179.32h30.7v1.05h-30.7zM421.8 183.32h7.2v1.05h-7.2zM432.9 190.33h5.0v1.05h-5.0zM428.6 198.33h3.2v1.05h-3.2zM420.5 206.34h4.5v1.05h-4.5zM422.7 208.34h8.9v1.05h-8.9zM421.9 209.34h6.5v1.05h-6.5zM415.2 224.35h5.4v1.05h-5.4zM428.9 226.35h3.6v1.05h-3.6zM415.6 231.36h7.8v1.05h-7.8zM427.9 233.36h7.9v1.05h-7.9zM411.5 243.37h2.3v1.05h-2.3zM420.9 244.37h4.4v1.05h-4.4zM429.6 249.37h3.3v1.05h-3.3zM428.8 259.38h7.8v1.05h-7.8zM408.6 260.38h2.3v1.05h-2.3zM418.9 260.38h4.0v1.05h-4.0zM415.5 264.38h8.1v1.05h-8.1zM431.7 267.38h2.7v1.05h-2.7zM407.7 271.39h3.9v1.05h-3.9zM414.6 278.39h8.1v1.05h-8.1zM423.9 286.40h2.1v1.05h-2.1z" fill="#e5c0c1"/>
<path d="M425.0 180.32h8.5v1.05h-8.5zM417.1 184.32h7.4v1.05h-7.4zM421.8 208.34h7.6v1.05h-7.6zM431.4 209.34h3.9v1.05h-3.9zM414.2 212.34h7.1v1.05h-7.1zM423.1 214.34h3.6v1.05h-3.6zM411.6 219.35h8.3v1.05h-8.3zM423.2 225.35h5.0v1.05h-5.0zM417.8 226.35h8.7v1.05h-8.7zM426.9 232.36h8.7v1.05h-8.7zM409.1 234.36h4.3v1.05h-4.3zM409.6 235.36h5.6v1.05h-5.6zM422.0 243.37h5.2v1.05h-5.2zM415.2 245.37h3.9v1.05h-3.9zM429.9 246.37h6.7v1.05h-6.7zM407.2 250.37h30.7v1.05h-30.7zM407.8 253.37h6.5v1.05h-6.5zM413.3 254.37h8.0v1.05h-8.0zM412.2 254.37h5.2v1.05h-5.2zM413.0 258.38h6.8v1.05h-6.8zM428.7 261.38h3.8v1.05h-3.8zM433.3 263.38h4.6v1.05h-4.6zM413.2 266.38h6.7v1.05h-6.7zM428.4 281.39h2.7v1.05h-2.7z" fill="#e2bbbb"/>
<path d="M412.2 156.30h5.1v1.05h-5.1zM427.7 163.31h7.0v1.05h-7.0zM432.6 163.31h2.4v1.05h-2.4zM419.3 177.32h2.8v1.05h-2.8zM425.1 226.35h5.6v1.05h-5.6zM417.0 258.38h5.1v1.05h-5.1zM419.2 281.39h2.0v1.05h-2.0zM416.0 286.40h2.8v1.05h-2.8z" fill="#dfb5b6"/>
<path d="M422.6 156.30h5.0v1.05h-5.0zM408.8 173.31h8.2v1.05h-8.2zM431.1 179.32h6.6v1.05h-6.6zM415.0 212.34h5.7v1.05h-5.7zM425.3 235.36h5.8v1.05h-5.8z" fill="#dcafb0"/>
<path d="M432.2 171.31h5.7v1.05h-5.7zM420.5 179.32h6.3v1.05h-6.3zM429.1 188.32h4.7v1.05h-4.7zM426.3 216.35h7.2v1.05h-7.2zM431.4 240.36h2.2v1.05h-2.2zM407.2 241.36h30.7v1.05h-30.7zM424.1 258.38h5.6v1.05h-5.6zM407.2 272.39h30.7v1.05h-30.7z" fill="#d9a9aa"/>
<path d="M425.2 272.39h3.2v1.05h-3.2z" fill="#d0979a"/>
<path d="M428.2 241.36h7.3v1.05h-7.3zM416.3 241.36h7.6v1.05h-7.6z" fill="#cd9194"/>
</g>
<rect x="407.2" y="156.3" width="30.69999999999999" height="132.09999999999997" fill="url(#hz_d3)"/>
<path d="M416.03 156.30 L416.08 157.30 L416.12 158.30 L416.37 159.30 L416.11 160.30 L416.02 161.30 L416.05 162.30 L416.24 163.31 L415.77 164.31 L416.22 165.31 L416.08 166.31 L416.24 167.31 L416.35 168.31 L416.51 169.31 L416.35 170.31 L416.09 171.31 L416.00 172.31 L416.11 173.31 L416.31 174.31 L416.11 175.31 L416.35 176.32 L416.40 177.32 L416.11 178.32 L416.28 179.32 L416.13 180.32 L416.28 181.32 L416.12 182.32 L415.94 183.32 L416.08 184.32 L415.99 185.32 L416.29 186.32 L416.10 187.32 L416.19 188.32 L415.85 189.32 L415.82 190.33 L415.79 191.33 L416.05 192.33 L416.33 193.33 L416.11 194.33 L416.19 195.33 L416.01 196.33 L416.25 197.33 L415.86 198.33 L416.03 199.33 L416.36 200.33 L416.29 201.33 L415.78 202.33 L415.62 203.34 L416.27 204.34 L416.24 205.34 L415.98 206.34 L416.14 207.34 L415.88 208.34 L415.43 209.34 L415.80 210.34 L416.12 211.34 L415.73 212.34 L416.14 213.34 L415.91 214.34 L415.85 215.34 L415.29 216.35 L416.04 217.35 L416.08 218.35 L416.17 219.35 L416.22 220.35 L415.79 221.35 L415.71 222.35 L415.91 223.35 L415.57 224.35 L415.84 225.35 L415.34 226.35 L416.20 227.35 L416.36 228.35 L415.79 229.36 L415.80 230.36 L415.63 231.36 L415.69 232.36 L416.00 233.36 L415.70 234.36 L415.78 235.36 L415.79 236.36 L415.78 237.36 L416.13 238.36 L415.88 239.36 L415.74 240.36 L415.95 241.36 L416.07 242.37 L415.80 243.37 L416.17 244.37 L415.71 245.37 L416.10 246.37 L415.87 247.37 L415.90 248.37 L416.02 249.37 L416.12 250.37 L416.20 251.37 L415.59 252.37 L416.19 253.37 L415.83 254.37 L416.03 255.38 L416.02 256.38 L416.10 257.38 L415.51 258.38 L415.91 259.38 L415.80 260.38 L415.87 261.38 L415.65 262.38 L415.99 263.38 L415.83 264.38 L415.81 265.38 L416.22 266.38 L416.01 267.38 L416.00 268.38 L416.33 269.39 L416.31 270.39 L416.42 271.39 L416.75 272.39 L416.79 273.39 L416.80 274.39 L417.06 275.39 L417.06 276.39 L417.28 277.39 L417.26 278.39 L417.57 279.39 L417.57 280.39 L417.66 281.39 L417.68 282.40 L417.86 283.40 L418.11 284.40 L418.40 285.40 L418.27 286.40 L418.60 287.40 L418.72 288.40 L425.20 288.40 L425.37 287.40 L425.13 286.40 L425.52 285.40 L425.47 284.40 L425.62 283.40 L425.65 282.40 L425.92 281.39 L425.81 280.39 L426.09 279.39 L425.88 278.39 L426.23 277.39 L426.51 276.39 L426.56 275.39 L426.73 274.39 L426.77 273.39 L426.89 272.39 L427.37 271.39 L427.07 270.39 L427.08 269.39 L427.60 268.38 L427.53 267.38 L427.74 266.38 L427.80 265.38 L427.59 264.38 L427.64 263.38 L427.59 262.38 L427.77 261.38 L427.91 260.38 L428.11 259.38 L427.92 258.38 L427.80 257.38 L427.91 256.38 L427.91 255.38 L428.03 254.37 L427.93 253.37 L427.74 252.37 L427.48 251.37 L427.53 250.37 L427.72 249.37 L427.96 248.37 L427.98 247.37 L427.98 246.37 L427.92 245.37 L427.87 244.37 L427.96 243.37 L427.58 242.37 L427.86 241.36 L427.78 240.36 L428.01 239.36 L428.06 238.36 L427.94 237.36 L428.00 236.36 L428.17 235.36 L428.20 234.36 L428.03 233.36 L428.20 232.36 L428.23 231.36 L427.86 230.36 L428.35 229.36 L427.83 228.35 L427.52 227.35 L428.28 226.35 L427.95 225.35 L428.18 224.35 L428.33 223.35 L428.09 222.35 L428.06 221.35 L427.76 220.35 L428.04 219.35 L427.81 218.35 L427.86 217.35 L428.36 216.35 L428.11 215.34 L427.89 214.34 L428.08 213.34 L428.24 212.34 L427.98 211.34 L428.21 210.34 L428.19 209.34 L428.28 208.34 L428.13 207.34 L427.99 206.34 L428.11 205.34 L428.44 204.34 L428.32 203.34 L428.15 202.33 L428.29 201.33 L427.82 200.33 L428.25 199.33 L428.33 198.33 L428.07 197.33 L428.50 196.33 L428.27 195.33 L428.09 194.33 L428.15 193.33 L428.21 192.33 L428.22 191.33 L428.17 190.33 L427.94 189.32 L428.23 188.32 L428.30 187.32 L427.75 186.32 L428.26 185.32 L428.14 184.32 L428.27 183.32 L427.92 182.32 L428.14 181.32 L428.39 180.32 L428.26 179.32 L428.26 178.32 L428.60 177.32 L428.10 176.32 L428.24 175.31 L428.00 174.31 L428.18 173.31 L427.89 172.31 L427.93 171.31 L427.96 170.31 L427.93 169.31 L428.05 168.31 L428.11 167.31 L428.00 166.31 L428.03 165.31 L427.95 164.31 L428.09 163.31 L428.08 162.30 L428.09 161.30 L428.40 160.30 L427.86 159.30 L428.19 158.30 L428.50 157.30 L428.28 156.30Z" fill="url(#hg_d3)" filter="url(#hblur2)"/>
<path d="M419.03 156.30 L419.08 157.30 L419.12 158.30 L419.37 159.30 L419.11 160.30 L419.02 161.30 L419.05 162.30 L419.24 163.31 L418.77 164.31 L419.22 165.31 L419.08 166.31 L419.24 167.31 L419.35 168.31 L419.51 169.31 L419.35 170.31 L419.09 171.31 L419.00 172.31 L419.11 173.31 L419.31 174.31 L419.11 175.31 L419.35 176.32 L419.40 177.32 L419.11 178.32 L419.28 179.32 L419.13 180.32 L419.28 181.32 L419.12 182.32 L418.94 183.32 L419.08 184.32 L418.99 185.32 L419.29 186.32 L419.10 187.32 L419.19 188.32 L418.85 189.32 L418.82 190.33 L418.79 191.33 L419.05 192.33 L419.33 193.33 L419.11 194.33 L419.19 195.33 L419.01 196.33 L419.25 197.33 L418.86 198.33 L419.03 199.33 L419.36 200.33 L419.29 201.33 L418.78 202.33 L418.62 203.34 L419.27 204.34 L419.24 205.34 L418.98 206.34 L419.14 207.34 L418.88 208.34 L418.43 209.34 L418.80 210.34 L419.12 211.34 L418.73 212.34 L419.14 213.34 L418.91 214.34 L418.85 215.34 L418.29 216.35 L419.04 217.35 L419.08 218.35 L419.17 219.35 L419.22 220.35 L418.79 221.35 L418.71 222.35 L418.91 223.35 L418.57 224.35 L418.84 225.35 L418.34 226.35 L419.20 227.35 L419.36 228.35 L418.79 229.36 L418.80 230.36 L418.63 231.36 L418.69 232.36 L419.00 233.36 L418.70 234.36 L418.78 235.36 L418.79 236.36 L418.78 237.36 L419.13 238.36 L418.88 239.36 L418.74 240.36 L418.95 241.36 L419.07 242.37 L418.80 243.37 L419.17 244.37 L418.71 245.37 L419.10 246.37 L418.87 247.37 L418.90 248.37 L419.02 249.37 L419.12 250.37 L419.20 251.37 L418.59 252.37 L419.19 253.37 L418.83 254.37 L419.03 255.38 L419.02 256.38 L419.10 257.38 L418.51 258.38 L418.91 259.38 L418.80 260.38 L418.87 261.38 L418.65 262.38 L418.99 263.38 L418.83 264.38 L418.81 265.38 L419.22 266.38 L419.01 267.38 L419.00 268.38 L419.33 269.39 L419.31 270.39 L419.42 271.39 L419.75 272.39 L419.79 273.39 L419.80 274.39 L420.06 275.39 L420.06 276.39 L420.28 277.39 L420.26 278.39 L420.57 279.39 L420.57 280.39 L420.66 281.39 L420.68 282.40 L420.86 283.40 L421.11 284.40 L421.40 285.40 L421.27 286.40 L421.60 287.40 L421.72 288.40 L422.20 288.40 L422.37 287.40 L422.13 286.40 L422.52 285.40 L422.47 284.40 L422.62 283.40 L422.65 282.40 L422.92 281.39 L422.81 280.39 L423.09 279.39 L422.88 278.39 L423.23 277.39 L423.51 276.39 L423.56 275.39 L423.73 274.39 L423.77 273.39 L423.89 272.39 L424.37 271.39 L424.07 270.39 L424.08 269.39 L424.60 268.38 L424.53 267.38 L424.74 266.38 L424.80 265.38 L424.59 264.38 L424.64 263.38 L424.59 262.38 L424.77 261.38 L424.91 260.38 L425.11 259.38 L424.92 258.38 L424.80 257.38 L424.91 256.38 L424.91 255.38 L425.03 254.37 L424.93 253.37 L424.74 252.37 L424.48 251.37 L424.53 250.37 L424.72 249.37 L424.96 248.37 L424.98 247.37 L424.98 246.37 L424.92 245.37 L424.87 244.37 L424.96 243.37 L424.58 242.37 L424.86 241.36 L424.78 240.36 L425.01 239.36 L425.06 238.36 L424.94 237.36 L425.00 236.36 L425.17 235.36 L425.20 234.36 L425.03 233.36 L425.20 232.36 L425.23 231.36 L424.86 230.36 L425.35 229.36 L424.83 228.35 L424.52 227.35 L425.28 226.35 L424.95 225.35 L425.18 224.35 L425.33 223.35 L425.09 222.35 L425.06 221.35 L424.76 220.35 L425.04 219.35 L424.81 218.35 L424.86 217.35 L425.36 216.35 L425.11 215.34 L424.89 214.34 L425.08 213.34 L425.24 212.34 L424.98 211.34 L425.21 210.34 L425.19 209.34 L425.28 208.34 L425.13 207.34 L424.99 206.34 L425.11 205.34 L425.44 204.34 L425.32 203.34 L425.15 202.33 L425.29 201.33 L424.82 200.33 L425.25 199.33 L425.33 198.33 L425.07 197.33 L425.50 196.33 L425.27 195.33 L425.09 194.33 L425.15 193.33 L425.21 192.33 L425.22 191.33 L425.17 190.33 L424.94 189.32 L425.23 188.32 L425.30 187.32 L424.75 186.32 L425.26 185.32 L425.14 184.32 L425.27 183.32 L424.92 182.32 L425.14 181.32 L425.39 180.32 L425.26 179.32 L425.26 178.32 L425.60 177.32 L425.10 176.32 L425.24 175.31 L425.00 174.31 L425.18 173.31 L424.89 172.31 L424.93 171.31 L424.96 170.31 L424.93 169.31 L425.05 168.31 L425.11 167.31 L425.00 166.31 L425.03 165.31 L424.95 164.31 L425.09 163.31 L425.08 162.30 L425.09 161.30 L425.40 160.30 L424.86 159.30 L425.19 158.30 L425.50 157.30 L425.28 156.30Z" fill="url(#bg_d3)" filter="url(#hblur)"/>
<g filter="url(#hblur)">
<path d="M420.3 284.40h1.1v0.60h-1.1z" fill="#d2181f" fill-opacity="0.067"/>
<path d="M418.9 279.39h1.9v0.60h-1.9zM417.9 282.40h3.1v0.60h-3.1zM422.4 282.40h3.8v0.60h-3.8zM418.9 283.40h2.2v0.60h-2.2z" fill="#d2181f" fill-opacity="0.133"/>
<path d="M425.0 156.30h1.3v0.60h-1.3zM424.8 167.31h3.9v0.60h-3.9zM425.0 198.33h2.7v0.60h-2.7zM416.1 206.34h3.2v0.60h-3.2zM415.7 225.35h3.4v0.60h-3.4zM417.1 226.35h1.6v0.60h-1.6zM417.2 241.36h2.1v0.60h-2.1zM417.0 253.37h2.4v0.60h-2.4zM416.1 258.38h2.7v0.60h-2.7zM424.4 266.38h1.2v0.60h-1.2zM417.2 271.39h2.5v0.60h-2.5zM417.1 281.39h3.9v0.60h-3.9z" fill="#d2181f" fill-opacity="0.200"/>
<path d="M416.4 161.30h2.9v0.60h-2.9zM417.4 163.31h2.2v0.60h-2.2zM424.7 165.31h3.5v0.60h-3.5zM424.7 166.31h3.0v0.60h-3.0zM424.9 209.34h2.9v0.60h-2.9zM424.9 210.34h2.0v0.60h-2.0zM424.7 211.34h1.1v0.60h-1.1zM418.0 214.34h1.2v0.60h-1.2zM415.3 215.34h3.8v0.60h-3.8zM416.4 238.36h3.1v0.60h-3.1zM419.1 277.39h1.5v0.60h-1.5zM418.0 278.39h2.5v0.60h-2.5z" fill="#d2181f" fill-opacity="0.267"/>
<path d="M417.5 159.30h2.2v0.60h-2.2zM424.7 174.31h1.8v0.60h-1.8zM424.9 175.31h3.2v0.60h-3.2zM425.0 187.32h2.0v0.60h-2.0zM418.1 192.33h1.3v0.60h-1.3zM415.5 194.33h3.9v0.60h-3.9zM416.4 203.34h2.5v0.60h-2.5zM416.3 224.35h2.6v0.60h-2.6z" fill="#d2181f" fill-opacity="0.333"/>
<path d="M416.8 156.30h2.5v0.60h-2.5zM416.4 165.31h3.1v0.60h-3.1zM417.9 167.31h1.6v0.60h-1.6zM424.8 168.31h3.3v0.60h-3.3zM415.8 172.31h3.5v0.60h-3.5zM424.2 227.35h1.5v0.60h-1.5zM417.0 228.35h2.7v0.60h-2.7zM417.6 270.39h2.1v0.60h-2.1z" fill="#d2181f" fill-opacity="0.400"/>
<path d="M425.1 160.30h1.5v0.60h-1.5zM415.5 178.32h3.9v0.60h-3.9zM418.3 180.32h1.1v0.60h-1.1zM416.8 185.32h2.5v0.60h-2.5zM415.5 187.32h3.9v0.60h-3.9zM417.2 196.33h2.2v0.60h-2.2zM416.5 201.33h3.1v0.60h-3.1zM424.6 217.35h1.5v0.60h-1.5zM418.1 229.36h1.0v0.60h-1.0z" fill="#d2181f" fill-opacity="0.467"/>
<path d="M417.5 202.33h1.6v0.60h-1.6zM416.7 227.35h2.8v0.60h-2.8zM415.6 230.36h3.5v0.60h-3.5zM416.9 240.36h2.1v0.60h-2.1zM424.5 257.38h3.0v0.60h-3.0zM415.8 263.38h3.5v0.60h-3.5z" fill="#d2181f" fill-opacity="0.533"/>
<path d="M419.1 158.30h6.1v1.05h-6.1zM419.2 163.31h5.8v1.05h-5.8zM419.1 166.31h5.9v1.05h-5.9zM419.5 169.31h5.4v1.05h-5.4zM419.0 172.31h5.9v1.05h-5.9zM419.3 179.32h6.0v1.05h-6.0zM419.1 180.32h6.3v1.05h-6.3zM419.1 184.32h6.1v1.05h-6.1zM418.9 215.34h6.3v1.05h-6.3zM419.1 218.35h5.7v1.05h-5.7zM418.9 223.35h6.4v1.05h-6.4zM418.3 226.35h6.9v1.05h-6.9zM419.2 227.35h5.3v1.05h-5.3zM419.4 228.35h5.5v1.05h-5.5zM419.0 233.36h6.0v1.05h-6.0zM418.8 236.36h6.2v1.05h-6.2zM419.2 244.37h5.7v1.05h-5.7zM418.9 248.37h6.1v1.05h-6.1zM418.9 259.38h6.2v1.05h-6.2zM419.8 273.39h4.0v1.05h-4.0zM419.8 274.39h3.9v1.05h-3.9zM420.7 282.40h2.0v1.05h-2.0z" fill="#000000" fill-opacity="0.14"/>
<path d="M419.4 170.31h5.6v1.05h-5.6zM418.6 224.35h6.6v1.05h-6.6zM419.1 246.37h5.9v1.05h-5.9zM420.6 279.39h2.5v1.05h-2.5z" fill="#ffffff" fill-opacity="0.12"/>
</g>
</g>
<linearGradient id="hz_d4" x1="0" y1="0" x2="1" y2="0"><stop offset="0" stop-color="#d2181f" stop-opacity="0"/><stop offset="0.5" stop-color="#d2181f" stop-opacity="0.08"/><stop offset="1" stop-color="#d2181f" stop-opacity="0"/></linearGradient>
<linearGradient id="bg_d4" x1="0" y1="0" x2="0" y2="1"><stop offset="0.000" stop-color="#d2181f" stop-opacity="1.000"/><stop offset="0.500" stop-color="#d2181f" stop-opacity="1.000"/><stop offset="0.800" stop-color="#d2181f" stop-opacity="0.950"/><stop offset="0.880" stop-color="#d2181f" stop-opacity="0.600"/><stop offset="0.950" stop-color="#d2181f" stop-opacity="0.250"/><stop offset="1.000" stop-color="#d2181f" stop-opacity="0.100"/></linearGradient>
<linearGradient id="hg_d4" x1="0" y1="0" x2="0" y2="1"><stop offset="0.000" stop-color="#d2181f" stop-opacity="0.450"/><stop offset="0.500" stop-color="#d2181f" stop-opacity="0.450"/><stop offset="0.800" stop-color="#d2181f" stop-opacity="0.427"/><stop offset="0.880" stop-color="#d2181f" stop-opacity="0.270"/><stop offset="0.950" stop-color="#d2181f" stop-opacity="0.113"/><stop offset="1.000" stop-color="#d2181f" stop-opacity="0.045"/></linearGradient>
<clipPath id="cl_d4"><rect x="443.8" y="156.3" width="30.599999999999966" height="132.09999999999997"/></clipPath>
<g clip-path="url(#cl_d4)"><g filter="url(#hblur)">
<path d="M443.8 189.32h30.6v1.05h-30.6zM443.8 197.33h30.6v1.05h-30.6z" fill="#faeae8"/>
<path d="M443.8 157.30h30.6v1.05h-30.6zM443.8 166.31h30.6v1.05h-30.6zM443.8 174.31h30.6v1.05h-30.6zM443.8 188.32h30.6v1.05h-30.6zM443.8 208.34h30.6v1.05h-30.6zM443.8 221.35h30.6v1.05h-30.6zM443.8 269.39h30.6v1.05h-30.6zM443.8 271.39h30.6v1.05h-30.6zM443.8 276.39h30.6v1.05h-30.6zM443.8 282.40h30.6v1.05h-30.6zM443.8 285.40h30.6v1.05h-30.6z" fill="#f7e4e2"/>
<path d="M443.8 159.30h30.6v1.05h-30.6zM443.8 160.30h30.6v1.05h-30.6zM443.8 165.31h30.6v1.05h-30.6zM443.8 184.32h30.6v1.05h-30.6zM443.8 186.32h30.6v1.05h-30.6zM443.8 194.33h30.6v1.05h-30.6zM443.8 202.33h30.6v1.05h-30.6zM443.8 203.34h30.6v1.05h-30.6zM443.8 206.34h30.6v1.05h-30.6zM443.8 207.34h30.6v1.05h-30.6zM443.8 211.34h30.6v1.05h-30.6zM443.8 214.34h30.6v1.05h-30.6zM443.8 223.35h30.6v1.05h-30.6zM443.8 224.35h30.6v1.05h-30.6zM443.8 231.36h30.6v1.05h-30.6zM443.8 234.36h30.6v1.05h-30.6zM443.8 239.36h30.6v1.05h-30.6zM443.8 240.36h30.6v1.05h-30.6zM443.8 242.37h30.6v1.05h-30.6zM443.8 243.37h30.6v1.05h-30.6zM443.8 256.38h30.6v1.05h-30.6zM443.8 259.38h30.6v1.05h-30.6zM443.8 260.38h30.6v1.05h-30.6zM443.8 268.38h30.6v1.05h-30.6zM443.8 270.39h30.6v1.05h-30.6zM443.8 273.39h30.6v1.05h-30.6zM443.8 274.39h30.6v1.05h-30.6zM443.8 280.39h30.6v1.05h-30.6zM443.8 286.40h30.6v1.05h-30.6z" fill="#f4dedd"/>
<path d="M443.8 156.30h30.6v1.05h-30.6zM456.0 157.30h7.0v1.05h-7.0zM443.8 158.30h30.6v1.05h-30.6zM443.8 162.30h30.6v1.05h-30.6zM443.8 164.31h30.6v1.05h-30.6zM443.8 168.31h30.6v1.05h-30.6zM443.8 169.31h30.6v1.05h-30.6zM443.8 171.31h30.6v1.05h-30.6zM443.8 181.32h30.6v1.05h-30.6zM443.8 182.32h30.6v1.05h-30.6zM443.8 183.32h30.6v1.05h-30.6zM443.8 185.32h30.6v1.05h-30.6zM443.8 187.32h30.6v1.05h-30.6zM465.7 189.32h7.5v1.05h-7.5zM443.8 191.33h30.6v1.05h-30.6zM443.8 195.33h30.6v1.05h-30.6zM443.8 199.33h30.6v1.05h-30.6zM443.8 200.33h30.6v1.05h-30.6zM443.8 201.33h30.6v1.05h-30.6zM443.8 205.34h30.6v1.05h-30.6zM443.8 209.34h30.6v1.05h-30.6zM443.8 212.34h30.6v1.05h-30.6zM443.8 213.34h30.6v1.05h-30.6zM443.8 216.35h30.6v1.05h-30.6zM443.8 218.35h30.6v1.05h-30.6zM443.8 219.35h30.6v1.05h-30.6zM443.8 222.35h30.6v1.05h-30.6zM443.8 225.35h30.6v1.05h-30.6zM443.8 228.35h30.6v1.05h-30.6zM443.8 230.36h30.6v1.05h-30.6zM443.8 233.36h30.6v1.05h-30.6zM443.8 235.36h30.6v1.05h-30.6zM443.8 245.37h30.6v1.05h-30.6zM443.8 248.37h30.6v1.05h-30.6zM443.8 251.37h30.6v1.05h-30.6zM443.8 253.37h30.6v1.05h-30.6zM443.8 254.37h30.6v1.05h-30.6zM443.8 255.38h30.6v1.05h-30.6zM443.8 257.38h30.6v1.05h-30.6zM443.8 265.38h30.6v1.05h-30.6zM443.8 266.38h30.6v1.05h-30.6zM460.2 271.39h4.3v1.05h-4.3zM443.8 275.39h30.6v1.05h-30.6zM443.8 278.39h30.6v1.05h-30.6zM443.8 284.40h30.6v1.05h-30.6z" fill="#f1d8d7"/>
<path d="M460.7 159.30h6.6v1.05h-6.6zM443.8 163.31h30.6v1.05h-30.6zM443.8 167.31h30.6v1.05h-30.6zM445.9 174.31h5.7v1.05h-5.7zM469.0 174.31h4.0v1.05h-4.0zM443.8 176.32h30.6v1.05h-30.6zM443.8 177.32h30.6v1.05h-30.6zM443.8 178.32h30.6v1.05h-30.6zM443.8 179.32h30.6v1.05h-30.6zM443.8 180.32h30.6v1.05h-30.6zM465.8 186.32h3.7v1.05h-3.7zM465.2 189.32h8.0v1.05h-8.0zM443.8 190.33h30.6v1.05h-30.6zM443.8 192.33h30.6v1.05h-30.6zM443.8 193.33h30.6v1.05h-30.6zM444.6 197.33h6.3v1.05h-6.3zM443.8 204.34h30.6v1.05h-30.6zM469.7 208.34h3.0v1.05h-3.0zM443.8 210.34h30.6v1.05h-30.6zM443.8 215.34h30.6v1.05h-30.6zM443.8 217.35h30.6v1.05h-30.6zM443.8 220.35h30.6v1.05h-30.6zM448.1 223.35h4.8v1.05h-4.8zM443.8 226.35h30.6v1.05h-30.6zM443.8 227.35h30.6v1.05h-30.6zM443.8 229.36h30.6v1.05h-30.6zM443.8 237.36h30.6v1.05h-30.6zM443.8 238.36h30.6v1.05h-30.6zM463.9 239.36h6.1v1.05h-6.1zM443.8 247.37h30.6v1.05h-30.6zM443.8 252.37h30.6v1.05h-30.6zM453.1 256.38h5.8v1.05h-5.8zM443.8 258.38h30.6v1.05h-30.6zM443.8 262.38h30.6v1.05h-30.6zM443.8 263.38h30.6v1.05h-30.6zM443.8 267.38h30.6v1.05h-30.6zM468.3 270.39h6.1v1.05h-6.1zM468.1 273.39h5.9v1.05h-5.9zM443.8 277.39h30.6v1.05h-30.6zM443.8 279.39h30.6v1.05h-30.6zM443.8 281.39h30.6v1.05h-30.6zM446.0 282.40h3.1v1.05h-3.1zM468.0 285.40h3.0v1.05h-3.0zM443.8 287.40h30.6v1.05h-30.6z" fill="#eed2d2"/>
<path d="M469.8 156.30h3.4v1.05h-3.4zM446.3 160.30h6.7v1.05h-6.7zM458.7 165.31h5.0v1.05h-5.0zM465.3 171.31h2.8v1.05h-2.8zM467.4 171.31h7.0v1.05h-7.0zM443.8 172.31h30.6v1.05h-30.6zM443.8 173.31h30.6v1.05h-30.6zM443.8 175.31h30.6v1.05h-30.6zM462.6 194.33h7.6v1.05h-7.6zM443.8 196.33h30.6v1.05h-30.6zM443.8 198.33h30.6v1.05h-30.6zM447.6 199.33h4.1v1.05h-4.1zM466.7 206.34h7.4v1.05h-7.4zM465.0 212.34h4.7v1.05h-4.7zM449.0 212.34h5.4v1.05h-5.4zM444.1 218.35h6.4v1.05h-6.4zM454.2 218.35h7.3v1.05h-7.3zM465.7 228.35h5.0v1.05h-5.0zM468.7 230.36h4.4v1.05h-4.4zM443.8 232.36h30.6v1.05h-30.6zM448.8 243.37h2.8v1.05h-2.8zM443.8 244.37h30.6v1.05h-30.6zM443.8 249.37h30.6v1.05h-30.6zM456.4 251.37h4.6v1.05h-4.6zM464.3 251.37h3.2v1.05h-3.2zM451.1 253.37h5.8v1.05h-5.8zM444.9 255.38h3.3v1.05h-3.3zM458.2 256.38h4.1v1.05h-4.1zM443.8 264.38h30.6v1.05h-30.6zM458.7 265.38h7.2v1.05h-7.2zM464.3 269.39h3.8v1.05h-3.8zM462.9 274.39h2.8v1.05h-2.8zM462.7 274.39h8.8v1.05h-8.8zM448.6 278.39h2.6v1.05h-2.6z" fill="#ebcccc"/>
<path d="M448.2 157.30h5.4v1.05h-5.4zM443.8 161.30h30.6v1.05h-30.6zM469.5 166.31h4.9v1.05h-4.9zM443.8 170.31h30.6v1.05h-30.6zM457.8 186.32h3.6v1.05h-3.6zM458.8 188.32h4.4v1.05h-4.4zM463.4 188.32h8.7v1.05h-8.7zM460.3 205.34h2.2v1.05h-2.2zM459.4 212.34h3.8v1.05h-3.8zM445.2 214.34h6.5v1.05h-6.5zM450.6 216.35h7.1v1.05h-7.1zM467.1 216.35h2.7v1.05h-2.7zM459.5 217.35h2.1v1.05h-2.1zM451.1 220.35h7.4v1.05h-7.4zM460.9 224.35h5.8v1.05h-5.8zM467.6 234.36h6.8v1.05h-6.8zM443.8 236.36h30.6v1.05h-30.6zM447.6 238.36h5.0v1.05h-5.0zM465.6 239.36h8.1v1.05h-8.1zM455.1 240.36h8.5v1.05h-8.5zM443.8 246.37h30.6v1.05h-30.6zM465.8 255.38h3.8v1.05h-3.8zM443.8 261.38h30.6v1.05h-30.6zM448.8 273.39h4.7v1.05h-4.7zM462.4 277.39h7.0v1.05h-7.0zM464.7 280.39h3.6v1.05h-3.6zM461.7 281.39h8.8v1.05h-8.8zM443.8 283.40h30.6v1.05h-30.6zM468.9 284.40h4.0v1.05h-4.0zM458.8 286.40h6.1v1.05h-6.1z" fill="#e8c6c6"/>
<path d="M464.5 163.31h2.6v1.05h-2.6zM466.5 165.31h6.9v1.05h-6.9zM451.0 178.32h5.3v1.05h-5.3zM448.0 181.32h2.2v1.05h-2.2zM463.9 186.32h8.7v1.05h-8.7zM457.5 190.33h7.2v1.05h-7.2zM458.5 193.33h7.5v1.05h-7.5zM450.4 200.33h6.7v1.05h-6.7zM466.9 201.33h6.0v1.05h-6.0zM453.0 201.33h5.6v1.05h-5.6zM451.0 205.34h3.3v1.05h-3.3zM452.9 206.34h5.6v1.05h-5.6zM455.3 206.34h3.7v1.05h-3.7zM451.2 209.34h9.0v1.05h-9.0zM447.8 212.34h2.5v1.05h-2.5zM451.9 215.34h8.2v1.05h-8.2zM450.0 219.35h2.1v1.05h-2.1zM448.4 220.35h3.3v1.05h-3.3zM450.5 229.36h4.5v1.05h-4.5zM463.4 233.36h8.8v1.05h-8.8zM465.4 234.36h4.9v1.05h-4.9zM448.6 256.38h4.1v1.05h-4.1zM456.9 260.38h8.6v1.05h-8.6zM448.2 262.38h8.9v1.05h-8.9zM463.2 275.39h5.6v1.05h-5.6zM467.5 284.40h6.7v1.05h-6.7zM444.0 286.40h8.7v1.05h-8.7z" fill="#e5c0c1"/>
<path d="M451.7 167.31h4.1v1.05h-4.1zM458.9 167.31h7.6v1.05h-7.6zM468.1 171.31h5.9v1.05h-5.9zM446.4 175.31h8.9v1.05h-8.9zM452.8 179.32h6.2v1.05h-6.2zM455.4 180.32h8.5v1.05h-8.5zM453.4 191.33h8.0v1.05h-8.0zM469.0 192.33h3.6v1.05h-3.6zM452.2 196.33h2.7v1.05h-2.7zM458.8 200.33h8.4v1.05h-8.4zM466.9 205.34h7.5v1.05h-7.5zM463.2 213.34h7.1v1.05h-7.1zM469.1 215.34h3.8v1.05h-3.8zM444.9 229.36h3.8v1.05h-3.8zM466.0 232.36h8.0v1.05h-8.0zM449.9 233.36h2.9v1.05h-2.9zM455.5 235.36h6.9v1.05h-6.9zM456.7 245.37h7.9v1.05h-7.9zM464.1 255.38h7.1v1.05h-7.1zM454.5 261.38h7.1v1.05h-7.1zM468.0 261.38h6.4v1.05h-6.4zM453.3 287.40h8.1v1.05h-8.1z" fill="#e2bbbb"/>
<path d="M456.7 161.30h3.1v1.05h-3.1zM449.8 170.31h2.9v1.05h-2.9zM465.1 180.32h8.7v1.05h-8.7zM449.7 193.33h8.0v1.05h-8.0zM446.4 196.33h5.0v1.05h-5.0zM451.6 232.36h6.0v1.05h-6.0zM443.8 241.36h30.6v1.05h-30.6zM443.8 250.37h30.6v1.05h-30.6zM465.5 258.38h4.7v1.05h-4.7zM469.2 287.40h4.4v1.05h-4.4z" fill="#dfb5b6"/>
<path d="M451.4 264.38h5.9v1.05h-5.9zM443.8 272.39h30.6v1.05h-30.6z" fill="#dcafb0"/>
<path d="M459.6 250.37h3.8v1.05h-3.8z" fill="#d0979a"/>
<path d="M456.6 272.39h4.5v1.05h-4.5z" fill="#cd9194"/>
</g>
<rect x="443.8" y="156.3" width="30.599999999999966" height="132.09999999999997" fill="url(#hz_d4)"/>
<path d="M453.02 156.30 L452.92 157.30 L452.92 158.30 L452.61 159.30 L453.59 160.30 L453.24 161.30 L452.80 162.30 L453.17 163.31 L452.98 164.31 L453.36 165.31 L453.35 166.31 L452.84 167.31 L452.86 168.31 L453.21 169.31 L452.97 170.31 L453.05 171.31 L453.60 172.31 L453.17 173.31 L452.56 174.31 L453.65 175.31 L452.80 176.32 L453.02 177.32 L453.28 178.32 L452.81 179.32 L452.97 180.32 L452.94 181.32 L452.59 182.32 L453.26 183.32 L452.84 184.32 L453.33 185.32 L452.90 186.32 L452.84 187.32 L453.00 188.32 L452.71 189.32 L453.30 190.33 L453.03 191.33 L452.82 192.33 L453.08 193.33 L452.94 194.33 L452.86 195.33 L452.91 196.33 L452.86 197.33 L453.08 198.33 L452.74 199.33 L452.98 200.33 L452.77 201.33 L453.13 202.33 L452.97 203.34 L452.80 204.34 L453.02 205.34 L453.16 206.34 L453.23 207.34 L452.71 208.34 L452.55 209.34 L452.94 210.34 L452.96 211.34 L452.67 212.34 L452.76 213.34 L453.19 214.34 L452.84 215.34 L453.01 216.35 L452.83 217.35 L452.97 218.35 L453.42 219.35 L452.75 220.35 L453.14 221.35 L452.90 222.35 L453.00 223.35 L453.09 224.35 L452.97 225.35 L453.31 226.35 L452.83 227.35 L452.87 228.35 L453.04 229.36 L453.05 230.36 L453.10 231.36 L452.81 232.36 L453.18 233.36 L453.13 234.36 L453.57 235.36 L452.82 236.36 L452.78 237.36 L453.18 238.36 L453.06 239.36 L453.10 240.36 L452.97 241.36 L453.25 242.37 L452.93 243.37 L453.07 244.37 L453.12 245.37 L452.71 246.37 L452.88 247.37 L452.99 248.37 L453.36 249.37 L453.04 250.37 L453.13 251.37 L453.27 252.37 L453.11 253.37 L452.87 254.37 L453.15 255.38 L453.24 256.38 L453.40 257.38 L453.30 258.38 L453.38 259.38 L453.11 260.38 L453.40 261.38 L452.91 262.38 L453.37 263.38 L453.75 264.38 L453.61 265.38 L453.65 266.38 L453.77 267.38 L453.62 268.38 L454.22 269.39 L453.91 270.39 L454.18 271.39 L454.45 272.39 L454.27 273.39 L454.63 274.39 L454.70 275.39 L454.62 276.39 L454.92 277.39 L454.49 278.39 L455.14 279.39 L455.06 280.39 L455.05 281.39 L455.16 282.40 L455.46 283.40 L455.26 284.40 L455.48 285.40 L455.59 286.40 L455.37 287.40 L455.66 288.40 L462.15 288.40 L462.00 287.40 L462.26 286.40 L462.26 285.40 L462.17 284.40 L462.35 283.40 L462.31 282.40 L462.36 281.39 L462.49 280.39 L462.71 279.39 L462.55 278.39 L462.90 277.39 L463.06 276.39 L462.99 275.39 L463.48 274.39 L463.32 273.39 L463.38 272.39 L463.39 271.39 L463.31 270.39 L463.65 269.39 L463.41 268.38 L464.09 267.38 L463.95 266.38 L463.72 265.38 L464.01 264.38 L464.04 263.38 L464.23 262.38 L464.17 261.38 L464.31 260.38 L464.07 259.38 L464.00 258.38 L464.53 257.38 L463.93 256.38 L464.69 255.38 L464.59 254.37 L464.29 253.37 L464.22 252.37 L464.55 251.37 L464.66 250.37 L464.33 249.37 L464.27 248.37 L464.85 247.37 L464.65 246.37 L464.14 245.37 L464.61 244.37 L464.19 243.37 L464.51 242.37 L464.55 241.36 L464.81 240.36 L464.55 239.36 L464.36 238.36 L464.37 237.36 L464.63 236.36 L464.75 235.36 L464.95 234.36 L464.27 233.36 L464.70 232.36 L464.68 231.36 L464.44 230.36 L464.75 229.36 L464.90 228.35 L464.43 227.35 L464.71 226.35 L464.71 225.35 L464.46 224.35 L464.66 223.35 L464.83 222.35 L464.56 221.35 L464.80 220.35 L464.23 219.35 L464.68 218.35 L464.90 217.35 L464.77 216.35 L464.82 215.34 L465.19 214.34 L464.61 213.34 L465.17 212.34 L464.82 211.34 L464.83 210.34 L464.70 209.34 L464.80 208.34 L464.64 207.34 L464.86 206.34 L464.68 205.34 L464.97 204.34 L464.93 203.34 L464.86 202.33 L464.89 201.33 L464.91 200.33 L465.29 199.33 L465.12 198.33 L465.08 197.33 L464.69 196.33 L465.04 195.33 L464.94 194.33 L464.94 193.33 L464.74 192.33 L464.78 191.33 L464.73 190.33 L465.37 189.32 L465.08 188.32 L464.85 187.32 L464.64 186.32 L464.72 185.32 L464.79 184.32 L464.78 183.32 L464.94 182.32 L464.54 181.32 L465.31 180.32 L465.08 179.32 L464.78 178.32 L465.23 177.32 L464.72 176.32 L464.62 175.31 L465.80 174.31 L464.79 173.31 L464.79 172.31 L464.86 171.31 L464.91 170.31 L464.88 169.31 L464.73 168.31 L465.10 167.31 L465.02 166.31 L464.67 165.31 L464.78 164.31 L464.79 163.31 L464.35 162.30 L465.19 161.30 L464.96 160.30 L464.98 159.30 L465.11 158.30 L465.35 157.30 L464.65 156.30Z" fill="url(#hg_d4)" filter="url(#hblur2)"/>
<path d="M456.02 156.30 L455.92 157.30 L455.92 158.30 L455.61 159.30 L456.59 160.30 L456.24 161.30 L455.80 162.30 L456.17 163.31 L455.98 164.31 L456.36 165.31 L456.35 166.31 L455.84 167.31 L455.86 168.31 L456.21 169.31 L455.97 170.31 L456.05 171.31 L456.60 172.31 L456.17 173.31 L455.56 174.31 L456.65 175.31 L455.80 176.32 L456.02 177.32 L456.28 178.32 L455.81 179.32 L455.97 180.32 L455.94 181.32 L455.59 182.32 L456.26 183.32 L455.84 184.32 L456.33 185.32 L455.90 186.32 L455.84 187.32 L456.00 188.32 L455.71 189.32 L456.30 190.33 L456.03 191.33 L455.82 192.33 L456.08 193.33 L455.94 194.33 L455.86 195.33 L455.91 196.33 L455.86 197.33 L456.08 198.33 L455.74 199.33 L455.98 200.33 L455.77 201.33 L456.13 202.33 L455.97 203.34 L455.80 204.34 L456.02 205.34 L456.16 206.34 L456.23 207.34 L455.71 208.34 L455.55 209.34 L455.94 210.34 L455.96 211.34 L455.67 212.34 L455.76 213.34 L456.19 214.34 L455.84 215.34 L456.01 216.35 L455.83 217.35 L455.97 218.35 L456.42 219.35 L455.75 220.35 L456.14 221.35 L455.90 222.35 L456.00 223.35 L456.09 224.35 L455.97 225.35 L456.31 226.35 L455.83 227.35 L455.87 228.35 L456.04 229.36 L456.05 230.36 L456.10 231.36 L455.81 232.36 L456.18 233.36 L456.13 234.36 L456.57 235.36 L455.82 236.36 L455.78 237.36 L456.18 238.36 L456.06 239.36 L456.10 240.36 L455.97 241.36 L456.25 242.37 L455.93 243.37 L456.07 244.37 L456.12 245.37 L455.71 246.37 L455.88 247.37 L455.99 248.37 L456.36 249.37 L456.04 250.37 L456.13 251.37 L456.27 252.37 L456.11 253.37 L455.87 254.37 L456.15 255.38 L456.24 256.38 L456.40 257.38 L456.30 258.38 L456.38 259.38 L456.11 260.38 L456.40 261.38 L455.91 262.38 L456.37 263.38 L456.75 264.38 L456.61 265.38 L456.65 266.38 L456.77 267.38 L456.62 268.38 L457.22 269.39 L456.91 270.39 L457.18 271.39 L457.45 272.39 L457.27 273.39 L457.63 274.39 L457.70 275.39 L457.62 276.39 L457.92 277.39 L457.49 278.39 L458.14 279.39 L458.06 280.39 L458.05 281.39 L458.16 282.40 L458.46 283.40 L458.26 284.40 L458.48 285.40 L458.59 286.40 L458.37 287.40 L458.66 288.40 L459.15 288.40 L459.00 287.40 L459.26 286.40 L459.26 285.40 L459.17 284.40 L459.35 283.40 L459.31 282.40 L459.36 281.39 L459.49 280.39 L459.71 279.39 L459.55 278.39 L459.90 277.39 L460.06 276.39 L459.99 275.39 L460.48 274.39 L460.32 273.39 L460.38 272.39 L460.39 271.39 L460.31 270.39 L460.65 269.39 L460.41 268.38 L461.09 267.38 L460.95 266.38 L460.72 265.38 L461.01 264.38 L461.04 263.38 L461.23 262.38 L461.17 261.38 L461.31 260.38 L461.07 259.38 L461.00 258.38 L461.53 257.38 L460.93 256.38 L461.69 255.38 L461.59 254.37 L461.29 253.37 L461.22 252.37 L461.55 251.37 L461.66 250.37 L461.33 249.37 L461.27 248.37 L461.85 247.37 L461.65 246.37 L461.14 245.37 L461.61 244.37 L461.19 243.37 L461.51 242.37 L461.55 241.36 L461.81 240.36 L461.55 239.36 L461.36 238.36 L461.37 237.36 L461.63 236.36 L461.75 235.36 L461.95 234.36 L461.27 233.36 L461.70 232.36 L461.68 231.36 L461.44 230.36 L461.75 229.36 L461.90 228.35 L461.43 227.35 L461.71 226.35 L461.71 225.35 L461.46 224.35 L461.66 223.35 L461.83 222.35 L461.56 221.35 L461.80 220.35 L461.23 219.35 L461.68 218.35 L461.90 217.35 L461.77 216.35 L461.82 215.34 L462.19 214.34 L461.61 213.34 L462.17 212.34 L461.82 211.34 L461.83 210.34 L461.70 209.34 L461.80 208.34 L461.64 207.34 L461.86 206.34 L461.68 205.34 L461.97 204.34 L461.93 203.34 L461.86 202.33 L461.89 201.33 L461.91 200.33 L462.29 199.33 L462.12 198.33 L462.08 197.33 L461.69 196.33 L462.04 195.33 L461.94 194.33 L461.94 193.33 L461.74 192.33 L461.78 191.33 L461.73 190.33 L462.37 189.32 L462.08 188.32 L461.85 187.32 L461.64 186.32 L461.72 185.32 L461.79 184.32 L461.78 183.32 L461.94 182.32 L461.54 181.32 L462.31 180.32 L462.08 179.32 L461.78 178.32 L462.23 177.32 L461.72 176.32 L461.62 175.31 L462.80 174.31 L461.79 173.31 L461.79 172.31 L461.86 171.31 L461.91 170.31 L461.88 169.31 L461.73 168.31 L462.10 167.31 L462.02 166.31 L461.67 165.31 L461.78 164.31 L461.79 163.31 L461.35 162.30 L462.19 161.30 L461.96 160.30 L461.98 159.30 L462.11 158.30 L462.35 157.30 L461.65 156.30Z" fill="url(#bg_d4)" filter="url(#hblur)"/>
<g filter="url(#hblur)">
<path d="M459.1 281.39h2.8v0.60h-2.8z" fill="#d2181f" fill-opacity="0.067"/>
<path d="M459.4 279.39h1.8v0.60h-1.8zM456.2 281.39h2.1v0.60h-2.1z" fill="#d2181f" fill-opacity="0.133"/>
<path d="M454.8 174.31h1.0v0.60h-1.0zM453.4 179.32h2.7v0.60h-2.7zM461.6 182.32h3.6v0.60h-3.6zM461.0 260.38h3.9v0.60h-3.9zM454.7 270.39h2.5v0.60h-2.5zM459.8 276.39h3.0v0.60h-3.0z" fill="#d2181f" fill-opacity="0.200"/>
<path d="M461.7 159.30h2.2v0.60h-2.2zM455.4 160.30h1.5v0.60h-1.5zM461.9 161.30h2.3v0.60h-2.3zM461.4 190.33h2.1v0.60h-2.1zM461.8 198.33h1.9v0.60h-1.9zM461.9 214.34h2.9v0.60h-2.9zM461.0 233.36h1.1v0.60h-1.1zM461.0 248.37h3.4v0.60h-3.4zM454.4 272.39h3.3v0.60h-3.3zM460.1 272.39h2.6v0.60h-2.6zM456.2 273.39h1.4v0.60h-1.4zM460.2 274.39h1.4v0.60h-1.4z" fill="#d2181f" fill-opacity="0.267"/>
<path d="M461.6 169.31h2.0v0.60h-2.0zM455.8 172.31h1.1v0.60h-1.1zM455.0 173.31h1.5v0.60h-1.5zM461.5 191.33h1.3v0.60h-1.3zM461.7 195.33h1.4v0.60h-1.4zM461.5 208.34h3.4v0.60h-3.4zM452.9 212.34h3.1v0.60h-3.1zM452.6 230.36h3.8v0.60h-3.8zM461.5 235.36h2.2v0.60h-2.2zM453.1 237.36h3.0v0.60h-3.0zM453.8 238.36h2.7v0.60h-2.7zM453.0 258.38h3.6v0.60h-3.6zM460.0 270.39h1.5v0.60h-1.5z" fill="#d2181f" fill-opacity="0.333"/>
<path d="M461.4 196.33h1.2v0.60h-1.2zM454.0 210.34h2.2v0.60h-2.2zM461.4 225.35h2.5v0.60h-2.5zM453.6 234.36h2.9v0.60h-2.9zM461.1 238.36h3.3v0.60h-3.3zM453.3 264.38h3.8v0.60h-3.8zM460.8 267.38h3.1v0.60h-3.1z" fill="#d2181f" fill-opacity="0.400"/>
<path d="M454.6 175.31h2.3v0.60h-2.3zM461.9 177.32h1.2v0.60h-1.2zM453.8 188.32h2.5v0.60h-2.5zM454.3 204.34h1.8v0.60h-1.8zM461.5 211.34h3.8v0.60h-3.8zM453.7 229.36h2.6v0.60h-2.6zM453.1 249.37h3.6v0.60h-3.6z" fill="#d2181f" fill-opacity="0.467"/>
<path d="M461.8 158.30h3.7v0.60h-3.7zM453.9 169.31h2.6v0.60h-2.6zM461.8 179.32h2.8v0.60h-2.8zM454.0 183.32h2.6v0.60h-2.6zM461.4 205.34h2.7v0.60h-2.7zM453.0 213.34h3.1v0.60h-3.1zM453.7 231.36h2.7v0.60h-2.7zM461.3 241.36h2.3v0.60h-2.3zM461.2 251.37h3.8v0.60h-3.8zM454.0 255.38h2.4v0.60h-2.4z" fill="#d2181f" fill-opacity="0.533"/>
<path d="M456.0 171.31h5.8v1.05h-5.8zM456.3 185.32h5.4v1.05h-5.4zM455.8 187.32h6.0v1.05h-6.0zM456.1 198.33h6.0v1.05h-6.0zM456.2 206.34h5.7v1.05h-5.7zM455.9 210.34h5.9v1.05h-5.9zM456.2 214.34h6.0v1.05h-6.0zM456.0 216.35h5.8v1.05h-5.8zM456.0 218.35h5.7v1.05h-5.7zM455.8 220.35h6.0v1.05h-6.0zM455.8 232.36h5.9v1.05h-5.9zM456.2 233.36h5.1v1.05h-5.1zM456.0 250.37h5.6v1.05h-5.6zM456.1 251.37h5.4v1.05h-5.4zM456.4 261.38h4.8v1.05h-4.8zM456.4 263.38h4.7v1.05h-4.7z" fill="#000000" fill-opacity="0.14"/>
<path d="M455.8 176.32h5.9v1.05h-5.9zM456.0 180.32h6.3v1.05h-6.3zM455.6 182.32h6.4v1.05h-6.4zM455.9 195.33h6.2v1.05h-6.2zM455.7 199.33h6.6v1.05h-6.6zM455.7 208.34h6.1v1.05h-6.1zM456.1 224.35h5.4v1.05h-5.4zM455.8 227.35h5.6v1.05h-5.6zM456.1 230.36h5.4v1.05h-5.4zM456.1 231.36h5.6v1.05h-5.6zM457.6 274.39h2.8v1.05h-2.8z" fill="#ffffff" fill-opacity="0.12"/>
</g>
</g>
<rect x="80.0" y="362.1" width="129.2" height="57.69999999999999" fill="#fff" stroke="#c8c8c8" stroke-width="0.7"/>
<line x1="80.00" y1="417.30" x2="209.20" y2="417.30" stroke="#f2f2f2" stroke-width="0.6" />
<line x1="80.00" y1="410.87" x2="209.20" y2="410.87" stroke="#f2f2f2" stroke-width="0.6" />
<line x1="80.00" y1="404.44" x2="209.20" y2="404.44" stroke="#f2f2f2" stroke-width="0.6" />
<line x1="80.00" y1="398.01" x2="209.20" y2="398.01" stroke="#f2f2f2" stroke-width="0.6" />
<line x1="80.00" y1="391.58" x2="209.20" y2="391.58" stroke="#f2f2f2" stroke-width="0.6" />
<line x1="80.00" y1="385.15" x2="209.20" y2="385.15" stroke="#f2f2f2" stroke-width="0.6" />
<line x1="80.00" y1="378.72" x2="209.20" y2="378.72" stroke="#f2f2f2" stroke-width="0.6" />
<line x1="80.00" y1="372.29" x2="209.20" y2="372.29" stroke="#f2f2f2" stroke-width="0.6" />
<line x1="80.00" y1="365.86" x2="209.20" y2="365.86" stroke="#f2f2f2" stroke-width="0.6" />
<line x1="80.10" y1="362.10" x2="80.10" y2="419.80" stroke="#f2f2f2" stroke-width="0.6" />
<line x1="80.10" y1="444.40" x2="80.10" y2="483.10" stroke="#f2f2f2" stroke-width="0.6" />
<line x1="93.88" y1="362.10" x2="93.88" y2="419.80" stroke="#f2f2f2" stroke-width="0.6" />
<line x1="93.88" y1="444.40" x2="93.88" y2="483.10" stroke="#f2f2f2" stroke-width="0.6" />
<line x1="107.66" y1="362.10" x2="107.66" y2="419.80" stroke="#f2f2f2" stroke-width="0.6" />
<line x1="107.66" y1="444.40" x2="107.66" y2="483.10" stroke="#f2f2f2" stroke-width="0.6" />
<line x1="121.44" y1="362.10" x2="121.44" y2="419.80" stroke="#f2f2f2" stroke-width="0.6" />
<line x1="121.44" y1="444.40" x2="121.44" y2="483.10" stroke="#f2f2f2" stroke-width="0.6" />
<line x1="135.22" y1="362.10" x2="135.22" y2="419.80" stroke="#f2f2f2" stroke-width="0.6" />
<line x1="135.22" y1="444.40" x2="135.22" y2="483.10" stroke="#f2f2f2" stroke-width="0.6" />
<line x1="149.00" y1="362.10" x2="149.00" y2="419.80" stroke="#f2f2f2" stroke-width="0.6" />
<line x1="149.00" y1="444.40" x2="149.00" y2="483.10" stroke="#f2f2f2" stroke-width="0.6" />
<line x1="162.78" y1="362.10" x2="162.78" y2="419.80" stroke="#f2f2f2" stroke-width="0.6" />
<line x1="162.78" y1="444.40" x2="162.78" y2="483.10" stroke="#f2f2f2" stroke-width="0.6" />
<line x1="176.56" y1="362.10" x2="176.56" y2="419.80" stroke="#f2f2f2" stroke-width="0.6" />
<line x1="176.56" y1="444.40" x2="176.56" y2="483.10" stroke="#f2f2f2" stroke-width="0.6" />
<line x1="190.34" y1="362.10" x2="190.34" y2="419.80" stroke="#f2f2f2" stroke-width="0.6" />
<line x1="190.34" y1="444.40" x2="190.34" y2="483.10" stroke="#f2f2f2" stroke-width="0.6" />
<line x1="204.12" y1="362.10" x2="204.12" y2="419.80" stroke="#f2f2f2" stroke-width="0.6" />
<line x1="204.12" y1="444.40" x2="204.12" y2="483.10" stroke="#f2f2f2" stroke-width="0.6" />
<line x1="80.00" y1="417.30" x2="209.20" y2="417.30" stroke="#b8b8b8" stroke-width="0.8" />
<polyline points="80.00,417.30 80.40,405.00 80.80,392.70 82.00,382.80 83.30,379.50 84.90,377.80 85.80,374.50 87.40,370.00 89.00,367.00 90.70,365.60 96.00,365.60 98.00,366.30 100.20,365.70 103.00,366.80 110.00,370.50 119.50,375.30 130.00,381.00 140.00,386.50 150.00,392.00 159.20,396.50 166.00,401.00 173.00,405.80 180.00,409.50 186.90,412.70 194.60,415.00 199.00,416.50 203.20,417.40" fill="none" stroke="#7f9855" stroke-width="1.25" stroke-linejoin="round" />
<g filter="url(#hitblur)"><rect x="79.50" y="420.90" width="2.00" height="18.80" fill="#000" fill-opacity="0.85"/><rect x="81.50" y="420.90" width="1.10" height="18.80" fill="#000" fill-opacity="0.70"/><rect x="82.60" y="420.90" width="2.30" height="18.80" fill="#000" fill-opacity="0.40"/><rect x="84.90" y="420.90" width="2.30" height="18.80" fill="#000" fill-opacity="1.00"/><rect x="87.20" y="420.90" width="3.10" height="18.80" fill="#000" fill-opacity="0.85"/><rect x="90.30" y="420.90" width="1.20" height="18.80" fill="#000" fill-opacity="0.25"/><rect x="91.50" y="420.90" width="1.90" height="18.80" fill="#000" fill-opacity="0.40"/><rect x="93.40" y="420.90" width="1.10" height="18.80" fill="#000" fill-opacity="0.20"/><rect x="94.50" y="420.90" width="3.50" height="18.80" fill="#000" fill-opacity="0.35"/><rect x="98.00" y="420.90" width="0.80" height="18.80" fill="#000" fill-opacity="0.20"/><rect x="98.80" y="420.90" width="1.50" height="18.80" fill="#000" fill-opacity="0.85"/><rect x="101.80" y="420.90" width="1.60" height="18.80" fill="#000" fill-opacity="0.55"/><rect x="103.40" y="420.90" width="3.40" height="18.80" fill="#000" fill-opacity="0.35"/><rect x="108.40" y="420.90" width="1.50" height="18.80" fill="#000" fill-opacity="0.75"/><rect x="111.10" y="420.90" width="3.10" height="18.80" fill="#000" fill-opacity="0.40"/><rect x="115.30" y="420.90" width="1.50" height="18.80" fill="#000" fill-opacity="0.45"/><rect x="116.80" y="420.90" width="0.40" height="18.80" fill="#000" fill-opacity="0.30"/><rect x="118.70" y="420.90" width="3.50" height="18.80" fill="#000" fill-opacity="0.65"/><rect x="126.80" y="420.90" width="2.30" height="18.80" fill="#000" fill-opacity="0.65"/><rect x="129.10" y="420.90" width="4.20" height="18.80" fill="#000" fill-opacity="0.08"/><rect x="133.30" y="420.90" width="2.70" height="18.80" fill="#000" fill-opacity="0.55"/><rect x="138.30" y="420.90" width="1.50" height="18.80" fill="#000" fill-opacity="0.50"/><rect x="139.80" y="420.90" width="1.60" height="18.80" fill="#000" fill-opacity="0.15"/><rect x="141.40" y="420.90" width="1.10" height="18.80" fill="#000" fill-opacity="0.60"/><rect x="148.30" y="420.90" width="2.30" height="18.80" fill="#000" fill-opacity="0.65"/><rect x="153.70" y="420.90" width="1.50" height="18.80" fill="#000" fill-opacity="0.65"/><rect x="157.10" y="420.90" width="2.30" height="18.80" fill="#000" fill-opacity="0.70"/><rect x="172.50" y="420.90" width="1.50" height="18.80" fill="#000" fill-opacity="0.70"/><rect x="174.00" y="420.90" width="1.20" height="18.80" fill="#000" fill-opacity="0.15"/><rect x="175.20" y="420.90" width="1.90" height="18.80" fill="#000" fill-opacity="0.45"/><rect x="177.10" y="420.90" width="1.90" height="18.80" fill="#000" fill-opacity="0.75"/><rect x="185.50" y="420.90" width="4.30" height="18.80" fill="#000" fill-opacity="0.35"/><rect x="191.70" y="420.90" width="3.70" height="18.80" fill="#000" fill-opacity="0.50"/><rect x="197.80" y="420.90" width="1.60" height="18.80" fill="#000" fill-opacity="0.55"/><rect x="201.20" y="420.90" width="1.90" height="18.80" fill="#000" fill-opacity="0.55"/></g>
<linearGradient id="cbel" x1="0" y1="0" x2="1" y2="0"><stop offset="0.0097" stop-color="#d24655"/><stop offset="0.0769" stop-color="#d24655"/><stop offset="0.0963" stop-color="#dc5f6b"/><stop offset="0.2152" stop-color="#dc5f6b"/><stop offset="0.2346" stop-color="#e6cde6"/><stop offset="0.5081" stop-color="#e6cde6"/><stop offset="0.5275" stop-color="#cfcdec"/><stop offset="0.5518" stop-color="#cfcdec"/><stop offset="0.5712" stop-color="#bebee6"/><stop offset="0.6553" stop-color="#bebee6"/><stop offset="0.6748" stop-color="#6e69b9"/><stop offset="0.7532" stop-color="#6e69b9"/><stop offset="0.7727" stop-color="#4b41a0"/><stop offset="0.9280" stop-color="#4b41a0"/><stop offset="0.9474" stop-color="#322882"/><stop offset="0.9903" stop-color="#322882"/></linearGradient>
<rect x="80.00" y="439.70" width="123.60" height="4.70" fill="url(#cbel)" />
<rect x="80.0" y="444.4" width="129.2" height="38.700000000000045" fill="none" stroke="#c8c8c8" stroke-width="0.6"/>
<line x1="80.00" y1="453.60" x2="209.20" y2="453.60" stroke="#f2f2f2" stroke-width="0.6" />
<line x1="80.00" y1="463.90" x2="209.20" y2="463.90" stroke="#f2f2f2" stroke-width="0.6" />
<polygon points="80.10,474.00 80.10,455.60 80.50,458.50 81.20,461.30 81.90,463.30 83.00,465.80 84.40,467.80 87.00,469.50 90.90,470.40 97.00,471.40 103.80,472.10 115.00,472.70 130.00,473.10 145.00,473.40 170.00,473.70 187.00,474.00 195.00,474.40 199.00,475.00 202.00,476.00 203.50,478.00 204.00,478.80 204.00,474.00" fill="#c4c4c4" />
<line x1="80.00" y1="474.20" x2="203.60" y2="474.20" stroke="#a8a8a8" stroke-width="0.6" />
<text x="81.02" y="447.60" font-size="3.6" font-weight="normal" fill="#d03c3c" textLength="49.96" lengthAdjust="spacingAndGlyphs" >CEBPA_ER2 (positively correlated)</text>
<text x="120.32" y="465.20" font-size="3.6" font-weight="normal" fill="#333" textLength="24.26" lengthAdjust="spacingAndGlyphs" >Zero cross at 389</text>
<text x="144.32" y="481.00" font-size="3.6" font-weight="normal" fill="#3c3ca8" textLength="49.36" lengthAdjust="spacingAndGlyphs" >CEBPA_ER (negatively correlated)</text>
<line x1="80.10" y1="483.30" x2="80.10" y2="486.60" stroke="#222" stroke-width="1.0" />
<line x1="93.88" y1="483.30" x2="93.88" y2="486.60" stroke="#222" stroke-width="1.0" />
<line x1="107.66" y1="483.30" x2="107.66" y2="486.60" stroke="#222" stroke-width="1.0" />
<line x1="121.44" y1="483.30" x2="121.44" y2="486.60" stroke="#222" stroke-width="1.0" />
<line x1="135.22" y1="483.30" x2="135.22" y2="486.60" stroke="#222" stroke-width="1.0" />
<line x1="149.00" y1="483.30" x2="149.00" y2="486.60" stroke="#222" stroke-width="1.0" />
<line x1="162.78" y1="483.30" x2="162.78" y2="486.60" stroke="#222" stroke-width="1.0" />
<line x1="176.56" y1="483.30" x2="176.56" y2="486.60" stroke="#222" stroke-width="1.0" />
<line x1="190.34" y1="483.30" x2="190.34" y2="486.60" stroke="#222" stroke-width="1.0" />
<line x1="204.12" y1="483.30" x2="204.12" y2="486.60" stroke="#222" stroke-width="1.0" />
<text transform="translate(83.90,493.40) rotate(-45)" x="0" y="0" font-size="7.5" fill="#222" stroke="#222" stroke-width="0.2" text-anchor="end">0</text>
<text transform="translate(97.68,493.40) rotate(-45)" x="0" y="0" font-size="7.5" fill="#222" stroke="#222" stroke-width="0.2" text-anchor="end">50</text>
<text transform="translate(111.46,493.40) rotate(-45)" x="0" y="0" font-size="7.5" fill="#222" stroke="#222" stroke-width="0.2" text-anchor="end">100</text>
<text transform="translate(125.24,493.40) rotate(-45)" x="0" y="0" font-size="7.5" fill="#222" stroke="#222" stroke-width="0.2" text-anchor="end">150</text>
<text transform="translate(139.02,493.40) rotate(-45)" x="0" y="0" font-size="7.5" fill="#222" stroke="#222" stroke-width="0.2" text-anchor="end">200</text>
<text transform="translate(152.80,493.40) rotate(-45)" x="0" y="0" font-size="7.5" fill="#222" stroke="#222" stroke-width="0.2" text-anchor="end">250</text>
<text transform="translate(166.58,493.40) rotate(-45)" x="0" y="0" font-size="7.5" fill="#222" stroke="#222" stroke-width="0.2" text-anchor="end">300</text>
<text transform="translate(180.36,493.40) rotate(-45)" x="0" y="0" font-size="7.5" fill="#222" stroke="#222" stroke-width="0.2" text-anchor="end">350</text>
<text transform="translate(194.14,493.40) rotate(-45)" x="0" y="0" font-size="7.5" fill="#222" stroke="#222" stroke-width="0.2" text-anchor="end">400</text>
<text transform="translate(207.92,493.40) rotate(-45)" x="0" y="0" font-size="7.5" fill="#222" stroke="#222" stroke-width="0.2" text-anchor="end">450</text>
<text x="60.67" y="419.68" font-size="6.6" font-weight="normal" fill="#222" textLength="10.96" lengthAdjust="spacingAndGlyphs"  stroke="#222" stroke-width="0.06">0.0</text>
<line x1="76.20" y1="417.30" x2="79.60" y2="417.30" stroke="#222" stroke-width="1.0" />
<text x="60.67" y="413.25" font-size="6.6" font-weight="normal" fill="#222" textLength="10.96" lengthAdjust="spacingAndGlyphs"  stroke="#222" stroke-width="0.06">0.1</text>
<line x1="76.20" y1="410.87" x2="79.60" y2="410.87" stroke="#222" stroke-width="1.0" />
<text x="60.67" y="406.82" font-size="6.6" font-weight="normal" fill="#222" textLength="10.96" lengthAdjust="spacingAndGlyphs"  stroke="#222" stroke-width="0.06">0.2</text>
<line x1="76.20" y1="404.44" x2="79.60" y2="404.44" stroke="#222" stroke-width="1.0" />
<text x="60.67" y="400.39" font-size="6.6" font-weight="normal" fill="#222" textLength="10.96" lengthAdjust="spacingAndGlyphs"  stroke="#222" stroke-width="0.06">0.3</text>
<line x1="76.20" y1="398.01" x2="79.60" y2="398.01" stroke="#222" stroke-width="1.0" />
<text x="60.67" y="393.96" font-size="6.6" font-weight="normal" fill="#222" textLength="10.96" lengthAdjust="spacingAndGlyphs"  stroke="#222" stroke-width="0.06">0.4</text>
<line x1="76.20" y1="391.58" x2="79.60" y2="391.58" stroke="#222" stroke-width="1.0" />
<text x="60.67" y="387.53" font-size="6.6" font-weight="normal" fill="#222" textLength="10.96" lengthAdjust="spacingAndGlyphs"  stroke="#222" stroke-width="0.06">0.5</text>
<line x1="76.20" y1="385.15" x2="79.60" y2="385.15" stroke="#222" stroke-width="1.0" />
<text x="60.67" y="381.10" font-size="6.6" font-weight="normal" fill="#222" textLength="10.96" lengthAdjust="spacingAndGlyphs"  stroke="#222" stroke-width="0.06">0.6</text>
<line x1="76.20" y1="378.72" x2="79.60" y2="378.72" stroke="#222" stroke-width="1.0" />
<text x="60.67" y="374.67" font-size="6.6" font-weight="normal" fill="#222" textLength="10.96" lengthAdjust="spacingAndGlyphs"  stroke="#222" stroke-width="0.06">0.7</text>
<line x1="76.20" y1="372.29" x2="79.60" y2="372.29" stroke="#222" stroke-width="1.0" />
<text x="60.67" y="368.24" font-size="6.6" font-weight="normal" fill="#222" textLength="10.96" lengthAdjust="spacingAndGlyphs"  stroke="#222" stroke-width="0.06">0.8</text>
<line x1="76.20" y1="365.86" x2="79.60" y2="365.86" stroke="#222" stroke-width="1.0" />
<text x="60.37" y="455.98" font-size="6.6" font-weight="normal" fill="#222" textLength="10.96" lengthAdjust="spacingAndGlyphs"  stroke="#222" stroke-width="0.06">5.0</text>
<text x="60.37" y="466.28" font-size="6.6" font-weight="normal" fill="#222" textLength="10.96" lengthAdjust="spacingAndGlyphs"  stroke="#222" stroke-width="0.06">2.5</text>
<text x="60.37" y="476.58" font-size="6.6" font-weight="normal" fill="#222" textLength="10.96" lengthAdjust="spacingAndGlyphs"  stroke="#222" stroke-width="0.06">0.0</text>
<rect x="349.8" y="362.1" width="128.89999999999998" height="57.799999999999955" fill="#fff" stroke="#c8c8c8" stroke-width="0.7"/>
<line x1="349.80" y1="417.30" x2="478.70" y2="417.30" stroke="#f2f2f2" stroke-width="0.6" />
<line x1="349.80" y1="410.40" x2="478.70" y2="410.40" stroke="#f2f2f2" stroke-width="0.6" />
<line x1="349.80" y1="403.50" x2="478.70" y2="403.50" stroke="#f2f2f2" stroke-width="0.6" />
<line x1="349.80" y1="396.60" x2="478.70" y2="396.60" stroke="#f2f2f2" stroke-width="0.6" />
<line x1="349.80" y1="389.70" x2="478.70" y2="389.70" stroke="#f2f2f2" stroke-width="0.6" />
<line x1="349.80" y1="382.80" x2="478.70" y2="382.80" stroke="#f2f2f2" stroke-width="0.6" />
<line x1="349.80" y1="375.90" x2="478.70" y2="375.90" stroke="#f2f2f2" stroke-width="0.6" />
<line x1="349.80" y1="369.00" x2="478.70" y2="369.00" stroke="#f2f2f2" stroke-width="0.6" />
<line x1="349.80" y1="362.10" x2="478.70" y2="362.10" stroke="#f2f2f2" stroke-width="0.6" />
<line x1="349.70" y1="362.10" x2="349.70" y2="419.90" stroke="#f2f2f2" stroke-width="0.6" />
<line x1="349.70" y1="444.40" x2="349.70" y2="483.10" stroke="#f2f2f2" stroke-width="0.6" />
<line x1="372.40" y1="362.10" x2="372.40" y2="419.90" stroke="#f2f2f2" stroke-width="0.6" />
<line x1="372.40" y1="444.40" x2="372.40" y2="483.10" stroke="#f2f2f2" stroke-width="0.6" />
<line x1="395.10" y1="362.10" x2="395.10" y2="419.90" stroke="#f2f2f2" stroke-width="0.6" />
<line x1="395.10" y1="444.40" x2="395.10" y2="483.10" stroke="#f2f2f2" stroke-width="0.6" />
<line x1="417.80" y1="362.10" x2="417.80" y2="419.90" stroke="#f2f2f2" stroke-width="0.6" />
<line x1="417.80" y1="444.40" x2="417.80" y2="483.10" stroke="#f2f2f2" stroke-width="0.6" />
<line x1="440.50" y1="362.10" x2="440.50" y2="419.90" stroke="#f2f2f2" stroke-width="0.6" />
<line x1="440.50" y1="444.40" x2="440.50" y2="483.10" stroke="#f2f2f2" stroke-width="0.6" />
<line x1="463.20" y1="362.10" x2="463.20" y2="419.90" stroke="#f2f2f2" stroke-width="0.6" />
<line x1="463.20" y1="444.40" x2="463.20" y2="483.10" stroke="#f2f2f2" stroke-width="0.6" />
<line x1="349.80" y1="417.30" x2="478.70" y2="417.30" stroke="#b8b8b8" stroke-width="0.8" />
<polyline points="349.90,417.20 350.30,410.50 350.80,404.30 352.40,394.40 354.10,386.90 355.80,382.80 357.40,377.80 359.10,375.40 362.40,372.00 366.00,368.70 369.70,367.10 373.60,365.80 377.50,366.30 381.40,365.30 386.60,365.80 391.00,367.50 397.00,371.00 404.00,375.00 412.50,380.00 422.00,386.20 433.30,393.00 444.00,399.20 454.10,404.80 463.00,410.80 471.80,417.20" fill="none" stroke="#7f9855" stroke-width="1.25" stroke-linejoin="round" />
<g filter="url(#hitblur)"><rect x="349.90" y="420.80" width="12.80" height="19.10" fill="#000" fill-opacity="1.00"/><rect x="362.70" y="420.80" width="1.10" height="19.10" fill="#000" fill-opacity="0.50"/><rect x="363.80" y="420.80" width="1.20" height="19.10" fill="#000" fill-opacity="1.00"/><rect x="365.00" y="420.80" width="1.50" height="19.10" fill="#000" fill-opacity="0.60"/><rect x="366.50" y="420.80" width="2.30" height="19.10" fill="#000" fill-opacity="1.00"/><rect x="368.80" y="420.80" width="2.00" height="19.10" fill="#000" fill-opacity="0.55"/><rect x="370.80" y="420.80" width="3.40" height="19.10" fill="#000" fill-opacity="1.00"/><rect x="374.20" y="420.80" width="1.60" height="19.10" fill="#000" fill-opacity="0.35"/><rect x="375.80" y="420.80" width="1.90" height="19.10" fill="#000" fill-opacity="0.70"/><rect x="377.70" y="420.80" width="2.30" height="19.10" fill="#000" fill-opacity="1.00"/><rect x="380.00" y="420.80" width="1.50" height="19.10" fill="#000" fill-opacity="0.45"/><rect x="381.50" y="420.80" width="4.70" height="19.10" fill="#000" fill-opacity="0.70"/><rect x="386.20" y="420.80" width="1.90" height="19.10" fill="#000" fill-opacity="0.90"/><rect x="388.10" y="420.80" width="1.90" height="19.10" fill="#000" fill-opacity="0.50"/><rect x="390.00" y="420.80" width="2.30" height="19.10" fill="#000" fill-opacity="0.75"/><rect x="392.30" y="420.80" width="2.30" height="19.10" fill="#000" fill-opacity="0.55"/><rect x="394.60" y="420.80" width="1.60" height="19.10" fill="#000" fill-opacity="0.30"/><rect x="396.20" y="420.80" width="2.30" height="19.10" fill="#000" fill-opacity="1.00"/><rect x="398.50" y="420.80" width="1.40" height="19.10" fill="#000" fill-opacity="0.70"/><rect x="399.90" y="420.80" width="1.20" height="19.10" fill="#000" fill-opacity="0.20"/><rect x="401.10" y="420.80" width="3.80" height="19.10" fill="#000" fill-opacity="0.60"/><rect x="404.90" y="420.80" width="1.60" height="19.10" fill="#000" fill-opacity="0.90"/><rect x="406.50" y="420.80" width="2.70" height="19.10" fill="#000" fill-opacity="0.60"/><rect x="409.20" y="420.80" width="1.10" height="19.10" fill="#000" fill-opacity="0.15"/><rect x="410.30" y="420.80" width="3.50" height="19.10" fill="#000" fill-opacity="0.40"/><rect x="417.60" y="420.80" width="1.60" height="19.10" fill="#000" fill-opacity="1.00"/><rect x="419.20" y="420.80" width="1.90" height="19.10" fill="#000" fill-opacity="0.20"/><rect x="421.10" y="420.80" width="2.70" height="19.10" fill="#000" fill-opacity="0.50"/><rect x="423.80" y="420.80" width="1.10" height="19.10" fill="#000" fill-opacity="1.00"/><rect x="424.90" y="420.80" width="1.90" height="19.10" fill="#000" fill-opacity="0.15"/><rect x="426.80" y="420.80" width="2.70" height="19.10" fill="#000" fill-opacity="0.45"/><rect x="429.50" y="420.80" width="1.60" height="19.10" fill="#000" fill-opacity="1.00"/><rect x="431.10" y="420.80" width="1.90" height="19.10" fill="#000" fill-opacity="0.10"/><rect x="433.00" y="420.80" width="1.20" height="19.10" fill="#000" fill-opacity="1.00"/><rect x="434.20" y="420.80" width="4.90" height="19.10" fill="#000" fill-opacity="0.42"/><rect x="439.10" y="420.80" width="3.80" height="19.10" fill="#000" fill-opacity="0.30"/><rect x="442.90" y="420.80" width="1.60" height="19.10" fill="#000" fill-opacity="0.80"/><rect x="444.50" y="420.80" width="1.90" height="19.10" fill="#000" fill-opacity="0.40"/><rect x="449.50" y="420.80" width="1.50" height="19.10" fill="#000" fill-opacity="0.80"/><rect x="451.00" y="420.80" width="7.30" height="19.10" fill="#000" fill-opacity="0.04"/><rect x="458.30" y="420.80" width="1.90" height="19.10" fill="#000" fill-opacity="0.85"/><rect x="460.20" y="420.80" width="1.20" height="19.10" fill="#000" fill-opacity="0.40"/><rect x="464.50" y="420.80" width="1.50" height="19.10" fill="#000" fill-opacity="0.60"/><rect x="466.00" y="420.80" width="1.50" height="19.10" fill="#000" fill-opacity="0.75"/><rect x="467.50" y="420.80" width="1.50" height="19.10" fill="#000" fill-opacity="0.15"/><rect x="469.00" y="420.80" width="2.00" height="19.10" fill="#000" fill-opacity="0.80"/></g>
<linearGradient id="cber" x1="0" y1="0" x2="1" y2="0"><stop offset="0.0098" stop-color="#c33748"/><stop offset="0.1388" stop-color="#c33748"/><stop offset="0.1584" stop-color="#cd505f"/><stop offset="0.3143" stop-color="#cd505f"/><stop offset="0.3339" stop-color="#e1afc8"/><stop offset="0.3722" stop-color="#e1afc8"/><stop offset="0.3918" stop-color="#e1cde4"/><stop offset="0.4816" stop-color="#e1cde4"/><stop offset="0.5012" stop-color="#d4d0ec"/><stop offset="0.6082" stop-color="#d4d0ec"/><stop offset="0.6278" stop-color="#c3c3eb"/><stop offset="0.6922" stop-color="#c3c3eb"/><stop offset="0.7118" stop-color="#7873c8"/><stop offset="0.7869" stop-color="#7873c8"/><stop offset="0.8065" stop-color="#5048aa"/><stop offset="0.9127" stop-color="#5048aa"/><stop offset="0.9322" stop-color="#30288c"/><stop offset="0.9902" stop-color="#30288c"/></linearGradient>
<rect x="349.80" y="439.90" width="122.50" height="4.50" fill="url(#cber)" />
<rect x="349.8" y="444.4" width="128.89999999999998" height="38.700000000000045" fill="none" stroke="#c8c8c8" stroke-width="0.6"/>
<line x1="349.80" y1="446.80" x2="478.70" y2="446.80" stroke="#f2f2f2" stroke-width="0.6" />
<line x1="349.80" y1="454.50" x2="478.70" y2="454.50" stroke="#f2f2f2" stroke-width="0.6" />
<line x1="349.80" y1="462.20" x2="478.70" y2="462.20" stroke="#f2f2f2" stroke-width="0.6" />
<line x1="349.80" y1="469.90" x2="478.70" y2="469.90" stroke="#f2f2f2" stroke-width="0.6" />
<polygon points="349.90,477.80 349.90,460.00 350.10,462.90 351.10,468.90 353.10,471.60 358.50,474.30 365.20,475.70 378.60,476.60 398.80,477.40 410.50,477.80 412.00,478.30 413.00,477.80 413.00,480.20 440.00,480.30 465.00,480.40 470.00,480.80 471.50,481.20 471.50,477.80" fill="#c4c4c4" />
<line x1="349.80" y1="477.60" x2="472.30" y2="477.60" stroke="#a8a8a8" stroke-width="0.6" />
<text x="350.32" y="447.60" font-size="3.6" font-weight="normal" fill="#d03c3c" textLength="50.36" lengthAdjust="spacingAndGlyphs" >CEBPA_ER2 (positively correlated)</text>
<text x="398.02" y="465.00" font-size="3.6" font-weight="normal" fill="#333" textLength="25.06" lengthAdjust="spacingAndGlyphs" >Zero cross at 670</text>
<text x="413.82" y="481.20" font-size="3.6" font-weight="normal" fill="#3c3ca8" textLength="49.36" lengthAdjust="spacingAndGlyphs" >CEBPA_ER (negatively correlated)</text>
<line x1="349.70" y1="483.60" x2="349.70" y2="487.40" stroke="#222" stroke-width="1.0" />
<line x1="372.40" y1="483.60" x2="372.40" y2="487.40" stroke="#222" stroke-width="1.0" />
<line x1="395.10" y1="483.60" x2="395.10" y2="487.40" stroke="#222" stroke-width="1.0" />
<line x1="417.80" y1="483.60" x2="417.80" y2="487.40" stroke="#222" stroke-width="1.0" />
<line x1="440.50" y1="483.60" x2="440.50" y2="487.40" stroke="#222" stroke-width="1.0" />
<line x1="463.20" y1="483.60" x2="463.20" y2="487.40" stroke="#222" stroke-width="1.0" />
<text transform="translate(353.50,493.80) rotate(-45)" x="0" y="0" font-size="7.5" fill="#222" stroke="#222" stroke-width="0.2" text-anchor="end">0</text>
<text transform="translate(376.20,493.80) rotate(-45)" x="0" y="0" font-size="7.5" fill="#222" stroke="#222" stroke-width="0.2" text-anchor="end">250</text>
<text transform="translate(398.90,493.80) rotate(-45)" x="0" y="0" font-size="7.5" fill="#222" stroke="#222" stroke-width="0.2" text-anchor="end">500</text>
<text transform="translate(421.60,493.80) rotate(-45)" x="0" y="0" font-size="7.5" fill="#222" stroke="#222" stroke-width="0.2" text-anchor="end">750</text>
<text transform="translate(444.30,493.80) rotate(-45)" x="0" y="0" font-size="7.5" fill="#222" stroke="#222" stroke-width="0.2" text-anchor="end">1,000</text>
<text transform="translate(467.00,493.80) rotate(-45)" x="0" y="0" font-size="7.5" fill="#222" stroke="#222" stroke-width="0.2" text-anchor="end">1,250</text>
<text x="330.67" y="419.68" font-size="6.6" font-weight="normal" fill="#222" textLength="10.96" lengthAdjust="spacingAndGlyphs"  stroke="#222" stroke-width="0.06">0.0</text>
<line x1="346.20" y1="417.30" x2="349.60" y2="417.30" stroke="#222" stroke-width="1.0" />
<text x="330.67" y="412.78" font-size="6.6" font-weight="normal" fill="#222" textLength="10.96" lengthAdjust="spacingAndGlyphs"  stroke="#222" stroke-width="0.06">0.1</text>
<line x1="346.20" y1="410.40" x2="349.60" y2="410.40" stroke="#222" stroke-width="1.0" />
<text x="330.67" y="405.88" font-size="6.6" font-weight="normal" fill="#222" textLength="10.96" lengthAdjust="spacingAndGlyphs"  stroke="#222" stroke-width="0.06">0.2</text>
<line x1="346.20" y1="403.50" x2="349.60" y2="403.50" stroke="#222" stroke-width="1.0" />
<text x="330.67" y="398.98" font-size="6.6" font-weight="normal" fill="#222" textLength="10.96" lengthAdjust="spacingAndGlyphs"  stroke="#222" stroke-width="0.06">0.3</text>
<line x1="346.20" y1="396.60" x2="349.60" y2="396.60" stroke="#222" stroke-width="1.0" />
<text x="330.67" y="392.08" font-size="6.6" font-weight="normal" fill="#222" textLength="10.96" lengthAdjust="spacingAndGlyphs"  stroke="#222" stroke-width="0.06">0.4</text>
<line x1="346.20" y1="389.70" x2="349.60" y2="389.70" stroke="#222" stroke-width="1.0" />
<text x="330.67" y="385.18" font-size="6.6" font-weight="normal" fill="#222" textLength="10.96" lengthAdjust="spacingAndGlyphs"  stroke="#222" stroke-width="0.06">0.5</text>
<line x1="346.20" y1="382.80" x2="349.60" y2="382.80" stroke="#222" stroke-width="1.0" />
<text x="330.67" y="378.28" font-size="6.6" font-weight="normal" fill="#222" textLength="10.96" lengthAdjust="spacingAndGlyphs"  stroke="#222" stroke-width="0.06">0.6</text>
<line x1="346.20" y1="375.90" x2="349.60" y2="375.90" stroke="#222" stroke-width="1.0" />
<text x="330.67" y="371.38" font-size="6.6" font-weight="normal" fill="#222" textLength="10.96" lengthAdjust="spacingAndGlyphs"  stroke="#222" stroke-width="0.06">0.7</text>
<line x1="346.20" y1="369.00" x2="349.60" y2="369.00" stroke="#222" stroke-width="1.0" />
<text x="330.67" y="364.48" font-size="6.6" font-weight="normal" fill="#222" textLength="10.96" lengthAdjust="spacingAndGlyphs"  stroke="#222" stroke-width="0.06">0.8</text>
<line x1="346.20" y1="362.10" x2="349.60" y2="362.10" stroke="#222" stroke-width="1.0" />
<text x="326.47" y="449.18" font-size="6.6" font-weight="normal" fill="#222" textLength="14.46" lengthAdjust="spacingAndGlyphs"  stroke="#222" stroke-width="0.06">10.0</text>
<text x="329.97" y="456.88" font-size="6.6" font-weight="normal" fill="#222" textLength="10.96" lengthAdjust="spacingAndGlyphs"  stroke="#222" stroke-width="0.06">7.5</text>
<text x="329.97" y="464.58" font-size="6.6" font-weight="normal" fill="#222" textLength="10.96" lengthAdjust="spacingAndGlyphs"  stroke="#222" stroke-width="0.06">5.0</text>
<text x="329.97" y="472.28" font-size="6.6" font-weight="normal" fill="#222" textLength="10.96" lengthAdjust="spacingAndGlyphs"  stroke="#222" stroke-width="0.06">2.5</text>
<text x="329.97" y="479.98" font-size="6.6" font-weight="normal" fill="#222" textLength="10.96" lengthAdjust="spacingAndGlyphs"  stroke="#222" stroke-width="0.06">0.0</text>
<rect x="83.3" y="604.3" width="125.00000000000001" height="54.10000000000002" fill="#fff" stroke="#c8c8c8" stroke-width="0.7"/>
<line x1="83.30" y1="606.30" x2="208.30" y2="606.30" stroke="#f2f2f2" stroke-width="0.6" />
<line x1="83.30" y1="611.55" x2="208.30" y2="611.55" stroke="#f2f2f2" stroke-width="0.6" />
<line x1="83.30" y1="616.80" x2="208.30" y2="616.80" stroke="#f2f2f2" stroke-width="0.6" />
<line x1="83.30" y1="622.05" x2="208.30" y2="622.05" stroke="#f2f2f2" stroke-width="0.6" />
<line x1="83.30" y1="627.30" x2="208.30" y2="627.30" stroke="#f2f2f2" stroke-width="0.6" />
<line x1="83.30" y1="632.55" x2="208.30" y2="632.55" stroke="#f2f2f2" stroke-width="0.6" />
<line x1="83.30" y1="637.80" x2="208.30" y2="637.80" stroke="#f2f2f2" stroke-width="0.6" />
<line x1="83.30" y1="643.05" x2="208.30" y2="643.05" stroke="#f2f2f2" stroke-width="0.6" />
<line x1="83.30" y1="648.30" x2="208.30" y2="648.30" stroke="#f2f2f2" stroke-width="0.6" />
<line x1="83.30" y1="653.55" x2="208.30" y2="653.55" stroke="#f2f2f2" stroke-width="0.6" />
<line x1="83.30" y1="658.80" x2="208.30" y2="658.80" stroke="#f2f2f2" stroke-width="0.6" />
<line x1="82.90" y1="604.30" x2="82.90" y2="658.40" stroke="#f2f2f2" stroke-width="0.6" />
<line x1="82.90" y1="681.30" x2="82.90" y2="717.40" stroke="#f2f2f2" stroke-width="0.6" />
<line x1="106.28" y1="604.30" x2="106.28" y2="658.40" stroke="#f2f2f2" stroke-width="0.6" />
<line x1="106.28" y1="681.30" x2="106.28" y2="717.40" stroke="#f2f2f2" stroke-width="0.6" />
<line x1="129.66" y1="604.30" x2="129.66" y2="658.40" stroke="#f2f2f2" stroke-width="0.6" />
<line x1="129.66" y1="681.30" x2="129.66" y2="717.40" stroke="#f2f2f2" stroke-width="0.6" />
<line x1="153.04" y1="604.30" x2="153.04" y2="658.40" stroke="#f2f2f2" stroke-width="0.6" />
<line x1="153.04" y1="681.30" x2="153.04" y2="717.40" stroke="#f2f2f2" stroke-width="0.6" />
<line x1="176.42" y1="604.30" x2="176.42" y2="658.40" stroke="#f2f2f2" stroke-width="0.6" />
<line x1="176.42" y1="681.30" x2="176.42" y2="717.40" stroke="#f2f2f2" stroke-width="0.6" />
<line x1="199.80" y1="604.30" x2="199.80" y2="658.40" stroke="#f2f2f2" stroke-width="0.6" />
<line x1="199.80" y1="681.30" x2="199.80" y2="717.40" stroke="#f2f2f2" stroke-width="0.6" />
<line x1="83.30" y1="606.30" x2="208.30" y2="606.30" stroke="#b8b8b8" stroke-width="0.8" />
<polyline points="83.30,606.50 84.00,609.50 86.25,607.00 88.00,608.00 91.25,608.00 97.50,613.00 105.00,616.25 112.50,621.25 120.00,627.50 130.00,635.00 140.00,642.50 150.00,650.00 157.50,653.75 162.50,655.00 169.60,654.80 175.40,654.30 178.30,655.60 179.20,652.90 183.10,652.40 185.00,649.00 187.90,647.10 188.80,644.20 190.80,642.30 193.20,637.50 194.10,632.70 195.60,625.00 197.00,622.10 198.90,619.20 200.40,612.50 201.80,606.70" fill="none" stroke="#7f9855" stroke-width="1.25" stroke-linejoin="round" />
<g filter="url(#hitblur)"><rect x="85.50" y="659.40" width="2.70" height="17.50" fill="#000" fill-opacity="0.55"/><rect x="88.20" y="659.40" width="1.50" height="17.50" fill="#000" fill-opacity="0.15"/><rect x="89.70" y="659.40" width="3.10" height="17.50" fill="#000" fill-opacity="0.45"/><rect x="95.80" y="659.40" width="1.60" height="17.50" fill="#000" fill-opacity="0.55"/><rect x="99.30" y="659.40" width="2.30" height="17.50" fill="#000" fill-opacity="0.35"/><rect x="101.60" y="659.40" width="2.70" height="17.50" fill="#000" fill-opacity="0.65"/><rect x="104.30" y="659.40" width="1.50" height="17.50" fill="#000" fill-opacity="0.12"/><rect x="105.80" y="659.40" width="2.00" height="17.50" fill="#000" fill-opacity="0.40"/><rect x="107.80" y="659.40" width="2.30" height="17.50" fill="#000" fill-opacity="0.90"/><rect x="110.10" y="659.40" width="1.10" height="17.50" fill="#000" fill-opacity="0.12"/><rect x="111.20" y="659.40" width="2.70" height="17.50" fill="#000" fill-opacity="0.50"/><rect x="115.80" y="659.40" width="2.40" height="17.50" fill="#000" fill-opacity="0.35"/><rect x="118.20" y="659.40" width="2.60" height="17.50" fill="#000" fill-opacity="0.90"/><rect x="120.80" y="659.40" width="0.70" height="17.50" fill="#000" fill-opacity="0.50"/><rect x="121.50" y="659.40" width="1.60" height="17.50" fill="#000" fill-opacity="0.80"/><rect x="125.80" y="659.40" width="2.30" height="17.50" fill="#000" fill-opacity="0.65"/><rect x="128.10" y="659.40" width="1.50" height="17.50" fill="#000" fill-opacity="0.10"/><rect x="129.60" y="659.40" width="3.50" height="17.50" fill="#000" fill-opacity="0.70"/><rect x="135.00" y="659.40" width="1.50" height="17.50" fill="#000" fill-opacity="0.45"/><rect x="136.50" y="659.40" width="2.00" height="17.50" fill="#000" fill-opacity="0.80"/><rect x="138.50" y="659.40" width="1.10" height="17.50" fill="#000" fill-opacity="0.10"/><rect x="139.60" y="659.40" width="2.30" height="17.50" fill="#000" fill-opacity="0.90"/><rect x="141.90" y="659.40" width="1.60" height="17.50" fill="#000" fill-opacity="0.15"/><rect x="143.50" y="659.40" width="3.00" height="17.50" fill="#000" fill-opacity="0.60"/><rect x="146.50" y="659.40" width="1.60" height="17.50" fill="#000" fill-opacity="0.20"/><rect x="148.10" y="659.40" width="3.10" height="17.50" fill="#000" fill-opacity="0.70"/><rect x="151.20" y="659.40" width="4.20" height="17.50" fill="#000" fill-opacity="0.35"/><rect x="155.40" y="659.40" width="1.90" height="17.50" fill="#000" fill-opacity="0.90"/><rect x="157.30" y="659.40" width="3.40" height="17.50" fill="#000" fill-opacity="0.45"/><rect x="160.70" y="659.40" width="1.10" height="17.50" fill="#000" fill-opacity="0.15"/><rect x="161.80" y="659.40" width="2.40" height="17.50" fill="#000" fill-opacity="0.75"/><rect x="164.20" y="659.40" width="1.10" height="17.50" fill="#000" fill-opacity="0.20"/><rect x="165.30" y="659.40" width="3.50" height="17.50" fill="#000" fill-opacity="0.50"/><rect x="168.80" y="659.40" width="2.30" height="17.50" fill="#000" fill-opacity="0.80"/><rect x="171.10" y="659.40" width="1.10" height="17.50" fill="#000" fill-opacity="0.12"/><rect x="172.20" y="659.40" width="4.30" height="17.50" fill="#000" fill-opacity="0.55"/><rect x="178.00" y="659.40" width="2.30" height="17.50" fill="#000" fill-opacity="0.90"/><rect x="180.30" y="659.40" width="1.50" height="17.50" fill="#000" fill-opacity="0.30"/><rect x="181.80" y="659.40" width="2.00" height="17.50" fill="#000" fill-opacity="0.60"/><rect x="183.80" y="659.40" width="3.40" height="17.50" fill="#000" fill-opacity="0.80"/><rect x="187.20" y="659.40" width="1.20" height="17.50" fill="#000" fill-opacity="0.30"/><rect x="188.40" y="659.40" width="0.60" height="17.50" fill="#000" fill-opacity="0.80"/><rect x="189.00" y="659.40" width="2.00" height="17.50" fill="#000" fill-opacity="0.45"/><rect x="191.00" y="659.40" width="4.50" height="17.50" fill="#000" fill-opacity="0.90"/><rect x="195.50" y="659.40" width="1.50" height="17.50" fill="#000" fill-opacity="0.35"/><rect x="197.00" y="659.40" width="1.00" height="17.50" fill="#000" fill-opacity="0.75"/><rect x="198.00" y="659.40" width="1.00" height="17.50" fill="#000" fill-opacity="0.35"/><rect x="199.00" y="659.40" width="2.50" height="17.50" fill="#000" fill-opacity="0.80"/></g>
<linearGradient id="cbfl" x1="0" y1="0" x2="1" y2="0"><stop offset="0.0101" stop-color="#d74650"/><stop offset="0.1205" stop-color="#d74650"/><stop offset="0.1406" stop-color="#e1646e"/><stop offset="0.2401" stop-color="#e1646e"/><stop offset="0.2603" stop-color="#ebc8e1"/><stop offset="0.3829" stop-color="#ebc8e1"/><stop offset="0.4030" stop-color="#d7d2ec"/><stop offset="0.5403" stop-color="#d7d2ec"/><stop offset="0.5605" stop-color="#bebce6"/><stop offset="0.6599" stop-color="#bebce6"/><stop offset="0.6801" stop-color="#6e64be"/><stop offset="0.7657" stop-color="#6e64be"/><stop offset="0.7859" stop-color="#4b41a5"/><stop offset="0.9181" stop-color="#4b41a5"/><stop offset="0.9383" stop-color="#2d2387"/><stop offset="0.9899" stop-color="#2d2387"/></linearGradient>
<rect x="83.20" y="676.90" width="119.10" height="4.40" fill="url(#cbfl)" />
<rect x="83.3" y="681.3" width="125.00000000000001" height="36.10000000000002" fill="none" stroke="#c8c8c8" stroke-width="0.6"/>
<line x1="83.30" y1="688.60" x2="208.30" y2="688.60" stroke="#f2f2f2" stroke-width="0.6" />
<line x1="83.30" y1="697.95" x2="208.30" y2="697.95" stroke="#f2f2f2" stroke-width="0.6" />
<line x1="83.30" y1="716.65" x2="208.30" y2="716.65" stroke="#f2f2f2" stroke-width="0.6" />
<polygon points="83.20,707.30 83.20,694.75 83.60,698.50 85.00,702.25 90.00,704.75 97.00,705.90 105.00,706.50 130.00,707.00 160.00,707.20 180.00,707.40 195.00,707.90 200.00,708.50 201.30,710.00 202.00,713.50 202.30,707.30" fill="#c4c4c4" />
<line x1="83.30" y1="707.30" x2="202.30" y2="707.30" stroke="#a8a8a8" stroke-width="0.6" />
<text x="83.82" y="684.20" font-size="3.6" font-weight="normal" fill="#d03c3c" textLength="49.36" lengthAdjust="spacingAndGlyphs" >CEBPA_ER2 (positively correlated)</text>
<text x="120.82" y="700.80" font-size="3.6" font-weight="normal" fill="#333" textLength="23.36" lengthAdjust="spacingAndGlyphs" >Zero cross at 633</text>
<text x="145.32" y="716.30" font-size="3.6" font-weight="normal" fill="#3c3ca8" textLength="47.86" lengthAdjust="spacingAndGlyphs" >CEBPA_ER (negatively correlated)</text>
<line x1="82.90" y1="717.90" x2="82.90" y2="721.80" stroke="#222" stroke-width="1.0" />
<line x1="106.28" y1="717.90" x2="106.28" y2="721.80" stroke="#222" stroke-width="1.0" />
<line x1="129.66" y1="717.90" x2="129.66" y2="721.80" stroke="#222" stroke-width="1.0" />
<line x1="153.04" y1="717.90" x2="153.04" y2="721.80" stroke="#222" stroke-width="1.0" />
<line x1="176.42" y1="717.90" x2="176.42" y2="721.80" stroke="#222" stroke-width="1.0" />
<line x1="199.80" y1="717.90" x2="199.80" y2="721.80" stroke="#222" stroke-width="1.0" />
<text transform="translate(86.70,728.40) rotate(-45)" x="0" y="0" font-size="7.5" fill="#222" stroke="#222" stroke-width="0.2" text-anchor="end">0</text>
<text transform="translate(110.08,728.40) rotate(-45)" x="0" y="0" font-size="7.5" fill="#222" stroke="#222" stroke-width="0.2" text-anchor="end">250</text>
<text transform="translate(133.46,728.40) rotate(-45)" x="0" y="0" font-size="7.5" fill="#222" stroke="#222" stroke-width="0.2" text-anchor="end">500</text>
<text transform="translate(156.84,728.40) rotate(-45)" x="0" y="0" font-size="7.5" fill="#222" stroke="#222" stroke-width="0.2" text-anchor="end">750</text>
<text transform="translate(180.22,728.40) rotate(-45)" x="0" y="0" font-size="7.5" fill="#222" stroke="#222" stroke-width="0.2" text-anchor="end">1,000</text>
<text transform="translate(203.60,728.40) rotate(-45)" x="0" y="0" font-size="7.5" fill="#222" stroke="#222" stroke-width="0.2" text-anchor="end">1,250</text>
<text x="59.85" y="608.86" font-size="7.1" font-weight="normal" fill="#222" textLength="14.71" lengthAdjust="spacingAndGlyphs"  stroke="#222" stroke-width="0.18">0.00</text>
<line x1="79.20" y1="606.30" x2="82.90" y2="606.30" stroke="#222" stroke-width="1.0" />
<text x="57.75" y="614.11" font-size="7.1" font-weight="normal" fill="#222" textLength="16.81" lengthAdjust="spacingAndGlyphs"  stroke="#222" stroke-width="0.18">-0.05</text>
<line x1="79.20" y1="611.55" x2="82.90" y2="611.55" stroke="#222" stroke-width="1.0" />
<text x="57.75" y="619.36" font-size="7.1" font-weight="normal" fill="#222" textLength="16.81" lengthAdjust="spacingAndGlyphs"  stroke="#222" stroke-width="0.18">-0.10</text>
<line x1="79.20" y1="616.80" x2="82.90" y2="616.80" stroke="#222" stroke-width="1.0" />
<text x="57.75" y="624.61" font-size="7.1" font-weight="normal" fill="#222" textLength="16.81" lengthAdjust="spacingAndGlyphs"  stroke="#222" stroke-width="0.18">-0.15</text>
<line x1="79.20" y1="622.05" x2="82.90" y2="622.05" stroke="#222" stroke-width="1.0" />
<text x="57.75" y="629.86" font-size="7.1" font-weight="normal" fill="#222" textLength="16.81" lengthAdjust="spacingAndGlyphs"  stroke="#222" stroke-width="0.18">-0.20</text>
<line x1="79.20" y1="627.30" x2="82.90" y2="627.30" stroke="#222" stroke-width="1.0" />
<text x="57.75" y="635.11" font-size="7.1" font-weight="normal" fill="#222" textLength="16.81" lengthAdjust="spacingAndGlyphs"  stroke="#222" stroke-width="0.18">-0.25</text>
<line x1="79.20" y1="632.55" x2="82.90" y2="632.55" stroke="#222" stroke-width="1.0" />
<text x="57.75" y="640.36" font-size="7.1" font-weight="normal" fill="#222" textLength="16.81" lengthAdjust="spacingAndGlyphs"  stroke="#222" stroke-width="0.18">-0.30</text>
<line x1="79.20" y1="637.80" x2="82.90" y2="637.80" stroke="#222" stroke-width="1.0" />
<text x="57.75" y="645.61" font-size="7.1" font-weight="normal" fill="#222" textLength="16.81" lengthAdjust="spacingAndGlyphs"  stroke="#222" stroke-width="0.18">-0.35</text>
<line x1="79.20" y1="643.05" x2="82.90" y2="643.05" stroke="#222" stroke-width="1.0" />
<text x="57.75" y="650.86" font-size="7.1" font-weight="normal" fill="#222" textLength="16.81" lengthAdjust="spacingAndGlyphs"  stroke="#222" stroke-width="0.18">-0.40</text>
<line x1="79.20" y1="648.30" x2="82.90" y2="648.30" stroke="#222" stroke-width="1.0" />
<text x="57.75" y="656.11" font-size="7.1" font-weight="normal" fill="#222" textLength="16.81" lengthAdjust="spacingAndGlyphs"  stroke="#222" stroke-width="0.18">-0.45</text>
<line x1="79.20" y1="653.55" x2="82.90" y2="653.55" stroke="#222" stroke-width="1.0" />
<text x="57.75" y="661.36" font-size="7.1" font-weight="normal" fill="#222" textLength="16.81" lengthAdjust="spacingAndGlyphs"  stroke="#222" stroke-width="0.18">-0.50</text>
<line x1="79.20" y1="658.80" x2="82.90" y2="658.80" stroke="#222" stroke-width="1.0" />
<text x="64.17" y="690.98" font-size="6.6" font-weight="normal" fill="#222" textLength="10.66" lengthAdjust="spacingAndGlyphs"  stroke="#222" stroke-width="0.06">5.0</text>
<text x="64.17" y="700.33" font-size="6.6" font-weight="normal" fill="#222" textLength="10.66" lengthAdjust="spacingAndGlyphs"  stroke="#222" stroke-width="0.06">2.5</text>
<text x="64.17" y="709.68" font-size="6.6" font-weight="normal" fill="#222" textLength="10.66" lengthAdjust="spacingAndGlyphs"  stroke="#222" stroke-width="0.06">0.0</text>
<text x="62.17" y="719.03" font-size="6.6" font-weight="normal" fill="#222" textLength="12.66" lengthAdjust="spacingAndGlyphs"  stroke="#222" stroke-width="0.06">-2.5</text>
<rect x="348.6" y="604.0" width="122.0" height="54.39999999999998" fill="#fff" stroke="#c8c8c8" stroke-width="0.7"/>
<line x1="348.60" y1="606.20" x2="470.60" y2="606.20" stroke="#f2f2f2" stroke-width="0.6" />
<line x1="348.60" y1="614.42" x2="470.60" y2="614.42" stroke="#f2f2f2" stroke-width="0.6" />
<line x1="348.60" y1="622.64" x2="470.60" y2="622.64" stroke="#f2f2f2" stroke-width="0.6" />
<line x1="348.60" y1="630.86" x2="470.60" y2="630.86" stroke="#f2f2f2" stroke-width="0.6" />
<line x1="348.60" y1="639.08" x2="470.60" y2="639.08" stroke="#f2f2f2" stroke-width="0.6" />
<line x1="348.60" y1="647.30" x2="470.60" y2="647.30" stroke="#f2f2f2" stroke-width="0.6" />
<line x1="348.60" y1="655.52" x2="470.60" y2="655.52" stroke="#f2f2f2" stroke-width="0.6" />
<line x1="348.80" y1="604.00" x2="348.80" y2="658.40" stroke="#f2f2f2" stroke-width="0.6" />
<line x1="348.80" y1="681.50" x2="348.80" y2="716.00" stroke="#f2f2f2" stroke-width="0.6" />
<line x1="361.49" y1="604.00" x2="361.49" y2="658.40" stroke="#f2f2f2" stroke-width="0.6" />
<line x1="361.49" y1="681.50" x2="361.49" y2="716.00" stroke="#f2f2f2" stroke-width="0.6" />
<line x1="374.18" y1="604.00" x2="374.18" y2="658.40" stroke="#f2f2f2" stroke-width="0.6" />
<line x1="374.18" y1="681.50" x2="374.18" y2="716.00" stroke="#f2f2f2" stroke-width="0.6" />
<line x1="386.87" y1="604.00" x2="386.87" y2="658.40" stroke="#f2f2f2" stroke-width="0.6" />
<line x1="386.87" y1="681.50" x2="386.87" y2="716.00" stroke="#f2f2f2" stroke-width="0.6" />
<line x1="399.56" y1="604.00" x2="399.56" y2="658.40" stroke="#f2f2f2" stroke-width="0.6" />
<line x1="399.56" y1="681.50" x2="399.56" y2="716.00" stroke="#f2f2f2" stroke-width="0.6" />
<line x1="412.25" y1="604.00" x2="412.25" y2="658.40" stroke="#f2f2f2" stroke-width="0.6" />
<line x1="412.25" y1="681.50" x2="412.25" y2="716.00" stroke="#f2f2f2" stroke-width="0.6" />
<line x1="424.94" y1="604.00" x2="424.94" y2="658.40" stroke="#f2f2f2" stroke-width="0.6" />
<line x1="424.94" y1="681.50" x2="424.94" y2="716.00" stroke="#f2f2f2" stroke-width="0.6" />
<line x1="437.63" y1="604.00" x2="437.63" y2="658.40" stroke="#f2f2f2" stroke-width="0.6" />
<line x1="437.63" y1="681.50" x2="437.63" y2="716.00" stroke="#f2f2f2" stroke-width="0.6" />
<line x1="450.32" y1="604.00" x2="450.32" y2="658.40" stroke="#f2f2f2" stroke-width="0.6" />
<line x1="450.32" y1="681.50" x2="450.32" y2="716.00" stroke="#f2f2f2" stroke-width="0.6" />
<line x1="463.01" y1="604.00" x2="463.01" y2="658.40" stroke="#f2f2f2" stroke-width="0.6" />
<line x1="463.01" y1="681.50" x2="463.01" y2="716.00" stroke="#f2f2f2" stroke-width="0.6" />
<line x1="348.60" y1="606.20" x2="470.60" y2="606.20" stroke="#b8b8b8" stroke-width="0.8" />
<polyline points="348.60,606.20 350.00,607.50 352.50,610.00 355.00,608.75 357.50,611.25 360.00,612.50 363.75,613.00 367.50,613.75 375.00,618.75 382.50,623.75 390.00,629.50 400.00,635.00 410.00,640.00 417.50,645.00 425.00,648.00 430.00,647.50 435.00,650.00 440.00,652.50 445.00,655.00 450.00,653.75 455.00,652.50 460.00,650.00 462.50,647.50 465.00,642.50 466.25,635.00 467.50,625.00 468.75,615.00 470.00,605.50" fill="none" stroke="#7f9855" stroke-width="1.25" stroke-linejoin="round" />
<g filter="url(#hitblur)"><rect x="351.80" y="659.60" width="1.50" height="17.50" fill="#000" fill-opacity="0.50"/><rect x="359.50" y="659.60" width="1.50" height="17.50" fill="#000" fill-opacity="0.80"/><rect x="364.10" y="659.60" width="3.80" height="17.50" fill="#000" fill-opacity="0.35"/><rect x="369.10" y="659.60" width="1.90" height="17.50" fill="#000" fill-opacity="0.50"/><rect x="372.50" y="659.60" width="1.60" height="17.50" fill="#000" fill-opacity="0.60"/><rect x="374.10" y="659.60" width="2.70" height="17.50" fill="#000" fill-opacity="0.35"/><rect x="380.20" y="659.60" width="2.30" height="17.50" fill="#000" fill-opacity="0.60"/><rect x="389.00" y="659.60" width="1.90" height="17.50" fill="#000" fill-opacity="0.40"/><rect x="390.90" y="659.60" width="3.90" height="17.50" fill="#000" fill-opacity="0.75"/><rect x="395.90" y="659.60" width="2.70" height="17.50" fill="#000" fill-opacity="0.40"/><rect x="398.60" y="659.60" width="4.60" height="17.50" fill="#000" fill-opacity="0.08"/><rect x="403.20" y="659.60" width="2.70" height="17.50" fill="#000" fill-opacity="0.75"/><rect x="408.60" y="659.60" width="1.90" height="17.50" fill="#000" fill-opacity="0.50"/><rect x="412.80" y="659.60" width="3.10" height="17.50" fill="#000" fill-opacity="0.40"/><rect x="415.90" y="659.60" width="1.90" height="17.50" fill="#000" fill-opacity="0.75"/><rect x="420.20" y="659.60" width="3.70" height="17.50" fill="#000" fill-opacity="0.35"/><rect x="423.90" y="659.60" width="1.60" height="17.50" fill="#000" fill-opacity="0.15"/><rect x="425.50" y="659.60" width="1.90" height="17.50" fill="#000" fill-opacity="0.75"/><rect x="427.40" y="659.60" width="1.90" height="17.50" fill="#000" fill-opacity="0.20"/><rect x="429.30" y="659.60" width="1.50" height="17.50" fill="#000" fill-opacity="0.50"/><rect x="430.80" y="659.60" width="1.20" height="17.50" fill="#000" fill-opacity="0.10"/><rect x="432.00" y="659.60" width="2.70" height="17.50" fill="#000" fill-opacity="0.45"/><rect x="438.20" y="659.60" width="2.30" height="17.50" fill="#000" fill-opacity="0.50"/><rect x="443.90" y="659.60" width="1.10" height="17.50" fill="#000" fill-opacity="0.50"/><rect x="445.00" y="659.60" width="2.50" height="17.50" fill="#000" fill-opacity="0.70"/><rect x="447.50" y="659.60" width="0.70" height="17.50" fill="#000" fill-opacity="0.50"/><rect x="449.70" y="659.60" width="1.80" height="17.50" fill="#000" fill-opacity="0.50"/><rect x="451.50" y="659.60" width="1.70" height="17.50" fill="#000" fill-opacity="0.90"/><rect x="453.20" y="659.60" width="1.80" height="17.50" fill="#000" fill-opacity="0.20"/><rect x="455.00" y="659.60" width="3.00" height="17.50" fill="#000" fill-opacity="0.42"/><rect x="458.00" y="659.60" width="1.80" height="17.50" fill="#000" fill-opacity="0.65"/><rect x="459.80" y="659.60" width="1.00" height="17.50" fill="#000" fill-opacity="0.20"/><rect x="460.80" y="659.60" width="3.70" height="17.50" fill="#000" fill-opacity="0.50"/><rect x="464.50" y="659.60" width="5.00" height="17.50" fill="#000" fill-opacity="1.00"/></g>
<linearGradient id="cbfr" x1="0" y1="0" x2="1" y2="0"><stop offset="0.0100" stop-color="#c83241"/><stop offset="0.0930" stop-color="#c83241"/><stop offset="0.1130" stop-color="#d7555f"/><stop offset="0.2126" stop-color="#d7555f"/><stop offset="0.2326" stop-color="#e6bed7"/><stop offset="0.2799" stop-color="#e6bed7"/><stop offset="0.2998" stop-color="#dcd2eb"/><stop offset="0.5561" stop-color="#dcd2eb"/><stop offset="0.5760" stop-color="#b9b9e6"/><stop offset="0.6130" stop-color="#b9b9e6"/><stop offset="0.6329" stop-color="#786ec3"/><stop offset="0.7276" stop-color="#786ec3"/><stop offset="0.7475" stop-color="#5046aa"/><stop offset="0.9194" stop-color="#5046aa"/><stop offset="0.9394" stop-color="#2d2387"/><stop offset="0.9900" stop-color="#2d2387"/></linearGradient>
<rect x="348.60" y="677.10" width="120.40" height="4.40" fill="url(#cbfr)" />
<rect x="348.6" y="681.5" width="122.0" height="34.5" fill="none" stroke="#c8c8c8" stroke-width="0.6"/>
<line x1="348.60" y1="690.20" x2="470.60" y2="690.20" stroke="#f2f2f2" stroke-width="0.6" />
<line x1="348.60" y1="700.20" x2="470.60" y2="700.20" stroke="#f2f2f2" stroke-width="0.6" />
<polygon points="348.70,710.20 348.70,688.00 349.50,692.00 350.20,695.50 352.00,699.00 355.00,701.75 360.00,704.00 365.00,705.50 375.00,706.80 382.50,707.50 400.00,708.40 420.00,709.00 445.00,709.60 465.00,710.00 468.00,710.20 468.50,714.50 465.00,713.20 450.00,712.00 430.00,711.20 407.00,710.40 400.00,710.20" fill="#c4c4c4" />
<line x1="348.60" y1="710.20" x2="469.00" y2="710.20" stroke="#a8a8a8" stroke-width="0.6" />
<text x="349.32" y="684.50" font-size="3.6" font-weight="normal" fill="#d03c3c" textLength="49.36" lengthAdjust="spacingAndGlyphs" >CEBPA_ER2 (positively correlated)</text>
<text x="379.82" y="699.50" font-size="3.6" font-weight="normal" fill="#333" textLength="23.36" lengthAdjust="spacingAndGlyphs" >Zero cross at 670</text>
<text x="412.32" y="714.20" font-size="3.6" font-weight="normal" fill="#3c3ca8" textLength="47.86" lengthAdjust="spacingAndGlyphs" >CEBPA_ER (negatively correlated)</text>
<line x1="348.80" y1="716.00" x2="348.80" y2="720.60" stroke="#222" stroke-width="1.0" />
<line x1="361.49" y1="716.00" x2="361.49" y2="720.60" stroke="#222" stroke-width="1.0" />
<line x1="374.18" y1="716.00" x2="374.18" y2="720.60" stroke="#222" stroke-width="1.0" />
<line x1="386.87" y1="716.00" x2="386.87" y2="720.60" stroke="#222" stroke-width="1.0" />
<line x1="399.56" y1="716.00" x2="399.56" y2="720.60" stroke="#222" stroke-width="1.0" />
<line x1="412.25" y1="716.00" x2="412.25" y2="720.60" stroke="#222" stroke-width="1.0" />
<line x1="424.94" y1="716.00" x2="424.94" y2="720.60" stroke="#222" stroke-width="1.0" />
<line x1="437.63" y1="716.00" x2="437.63" y2="720.60" stroke="#222" stroke-width="1.0" />
<line x1="450.32" y1="716.00" x2="450.32" y2="720.60" stroke="#222" stroke-width="1.0" />
<line x1="463.01" y1="716.00" x2="463.01" y2="720.60" stroke="#222" stroke-width="1.0" />
<text transform="translate(352.60,727.30) rotate(-45)" x="0" y="0" font-size="7.5" fill="#222" stroke="#222" stroke-width="0.2" text-anchor="end">0</text>
<text transform="translate(365.29,727.30) rotate(-45)" x="0" y="0" font-size="7.5" fill="#222" stroke="#222" stroke-width="0.2" text-anchor="end">50</text>
<text transform="translate(377.98,727.30) rotate(-45)" x="0" y="0" font-size="7.5" fill="#222" stroke="#222" stroke-width="0.2" text-anchor="end">100</text>
<text transform="translate(390.67,727.30) rotate(-45)" x="0" y="0" font-size="7.5" fill="#222" stroke="#222" stroke-width="0.2" text-anchor="end">150</text>
<text transform="translate(403.36,727.30) rotate(-45)" x="0" y="0" font-size="7.5" fill="#222" stroke="#222" stroke-width="0.2" text-anchor="end">200</text>
<text transform="translate(416.05,727.30) rotate(-45)" x="0" y="0" font-size="7.5" fill="#222" stroke="#222" stroke-width="0.2" text-anchor="end">250</text>
<text transform="translate(428.74,727.30) rotate(-45)" x="0" y="0" font-size="7.5" fill="#222" stroke="#222" stroke-width="0.2" text-anchor="end">300</text>
<text transform="translate(441.43,727.30) rotate(-45)" x="0" y="0" font-size="7.5" fill="#222" stroke="#222" stroke-width="0.2" text-anchor="end">350</text>
<text transform="translate(454.12,727.30) rotate(-45)" x="0" y="0" font-size="7.5" fill="#222" stroke="#222" stroke-width="0.2" text-anchor="end">400</text>
<text transform="translate(466.81,727.30) rotate(-45)" x="0" y="0" font-size="7.5" fill="#222" stroke="#222" stroke-width="0.2" text-anchor="end">450</text>
<text x="329.07" y="608.58" font-size="6.6" font-weight="normal" fill="#222" textLength="10.66" lengthAdjust="spacingAndGlyphs"  stroke="#222" stroke-width="0.06">0.0</text>
<line x1="344.70" y1="606.20" x2="348.00" y2="606.20" stroke="#222" stroke-width="1.0" />
<text x="327.47" y="616.80" font-size="6.6" font-weight="normal" fill="#222" textLength="12.26" lengthAdjust="spacingAndGlyphs"  stroke="#222" stroke-width="0.06">-0.1</text>
<line x1="344.70" y1="614.42" x2="348.00" y2="614.42" stroke="#222" stroke-width="1.0" />
<text x="327.47" y="625.02" font-size="6.6" font-weight="normal" fill="#222" textLength="12.26" lengthAdjust="spacingAndGlyphs"  stroke="#222" stroke-width="0.06">-0.2</text>
<line x1="344.70" y1="622.64" x2="348.00" y2="622.64" stroke="#222" stroke-width="1.0" />
<text x="327.47" y="633.24" font-size="6.6" font-weight="normal" fill="#222" textLength="12.26" lengthAdjust="spacingAndGlyphs"  stroke="#222" stroke-width="0.06">-0.3</text>
<line x1="344.70" y1="630.86" x2="348.00" y2="630.86" stroke="#222" stroke-width="1.0" />
<text x="327.47" y="641.46" font-size="6.6" font-weight="normal" fill="#222" textLength="12.26" lengthAdjust="spacingAndGlyphs"  stroke="#222" stroke-width="0.06">-0.4</text>
<line x1="344.70" y1="639.08" x2="348.00" y2="639.08" stroke="#222" stroke-width="1.0" />
<text x="327.47" y="649.68" font-size="6.6" font-weight="normal" fill="#222" textLength="12.26" lengthAdjust="spacingAndGlyphs"  stroke="#222" stroke-width="0.06">-0.5</text>
<line x1="344.70" y1="647.30" x2="348.00" y2="647.30" stroke="#222" stroke-width="1.0" />
<text x="327.47" y="657.90" font-size="6.6" font-weight="normal" fill="#222" textLength="12.26" lengthAdjust="spacingAndGlyphs"  stroke="#222" stroke-width="0.06">-0.6</text>
<line x1="344.70" y1="655.52" x2="348.00" y2="655.52" stroke="#222" stroke-width="1.0" />
<text transform="translate(339.7,685.15) rotate(-90)" x="0" y="0" font-size="5.8" fill="#222" textLength="4.1" lengthAdjust="spacingAndGlyphs">5</text>
<text transform="translate(339.7,690.75) rotate(-90)" x="0" y="0" font-size="5.8" fill="#222" textLength="4.1" lengthAdjust="spacingAndGlyphs">4</text>
<text transform="translate(339.7,696.35) rotate(-90)" x="0" y="0" font-size="5.8" fill="#222" textLength="4.1" lengthAdjust="spacingAndGlyphs">3</text>
<text transform="translate(339.7,701.95) rotate(-90)" x="0" y="0" font-size="5.8" fill="#222" textLength="4.1" lengthAdjust="spacingAndGlyphs">2</text>
<text transform="translate(339.7,707.55) rotate(-90)" x="0" y="0" font-size="5.8" fill="#222" textLength="4.1" lengthAdjust="spacingAndGlyphs">1</text>
<text transform="translate(339.7,713.15) rotate(-90)" x="0" y="0" font-size="5.8" fill="#222" textLength="4.1" lengthAdjust="spacingAndGlyphs">0</text>
<text transform="translate(339.7,719.70) rotate(-90)" x="0" y="0" font-size="5.8" fill="#222" textLength="6.0" lengthAdjust="spacingAndGlyphs">-1</text>
<text x="115.41" y="324.80" font-size="9.9" font-weight="bold" fill="#111" textLength="40.09" lengthAdjust="spacingAndGlyphs" >Kasumi1</text>
<text x="86.20" y="336.20" font-size="9.9" font-weight="bold" fill="#111" textLength="98.59" lengthAdjust="spacingAndGlyphs" >P &lt; 0.001, NES = 2.21</text>
<text x="384.20" y="328.50" font-size="9.9" font-weight="bold" fill="#111" textLength="26.59" lengthAdjust="spacingAndGlyphs" >SKH1</text>
<text x="348.31" y="339.90" font-size="9.9" font-weight="bold" fill="#111" textLength="99.49" lengthAdjust="spacingAndGlyphs" >P &lt; 0.001, NES = 1.97</text>
<text x="125.70" y="561.10" font-size="9.9" font-weight="bold" fill="#111" textLength="40.59" lengthAdjust="spacingAndGlyphs" >Kasumi1</text>
<text x="94.50" y="572.30" font-size="9.9" font-weight="bold" fill="#111" textLength="103.09" lengthAdjust="spacingAndGlyphs" >P &lt; 0.001, NES = -2.06</text>
<text x="398.31" y="561.10" font-size="9.9" font-weight="bold" fill="#111" textLength="26.19" lengthAdjust="spacingAndGlyphs" >SKH1</text>
<text x="360.31" y="572.40" font-size="9.9" font-weight="bold" fill="#111" textLength="103.19" lengthAdjust="spacingAndGlyphs" >P &lt; 0.001, NES = -2.58</text>
<text x="68.53" y="353.10" font-size="7.4" font-weight="normal" fill="#222" textLength="168.74" lengthAdjust="spacingAndGlyphs"  stroke="#222" stroke-width="0.18">Enrichment plot: Monocyte_vs_HSC_upRegulated.grp</text>
<text x="329.63" y="353.30" font-size="7.4" font-weight="normal" fill="#222" textLength="168.44" lengthAdjust="spacingAndGlyphs"  stroke="#222" stroke-width="0.18">Enrichment plot: Monocyte_vs_HSC_upRegulated.grp</text>
<text x="56.63" y="589.40" font-size="7.4" font-weight="normal" fill="#222" textLength="177.54" lengthAdjust="spacingAndGlyphs"  stroke="#222" stroke-width="0.18">Enrichment plot: Monocyte_vs_HSC_downRegulated.grp</text>
<text x="323.13" y="589.50" font-size="7.4" font-weight="normal" fill="#222" textLength="178.04" lengthAdjust="spacingAndGlyphs"  stroke="#222" stroke-width="0.18">Enrichment plot: Monocyte_vs_HSC_downRegulated.grp</text>
<text transform="translate(41.60,418.80) rotate(-90)" x="0" y="0" font-size="10" font-weight="normal" fill="#1a1a1a" textLength="52.30" lengthAdjust="spacingAndGlyphs"  stroke="#1a1a1a" stroke-width="0.35">Enrichment score</text>
<text transform="translate(52.60,398.06) rotate(-90)" x="0" y="0" font-size="9.3" font-weight="normal" fill="#1a1a1a" textLength="12.53" lengthAdjust="spacingAndGlyphs"  stroke="#1a1a1a" stroke-width="0.35">(ES)</text>
<text transform="translate(311.30,418.40) rotate(-90)" x="0" y="0" font-size="10" font-weight="normal" fill="#1a1a1a" textLength="51.50" lengthAdjust="spacingAndGlyphs"  stroke="#1a1a1a" stroke-width="0.35">Enrichment score</text>
<text transform="translate(322.30,398.46) rotate(-90)" x="0" y="0" font-size="9.3" font-weight="normal" fill="#1a1a1a" textLength="13.73" lengthAdjust="spacingAndGlyphs"  stroke="#1a1a1a" stroke-width="0.35">(ES)</text>
<text transform="translate(40.90,658.80) rotate(-90)" x="0" y="0" font-size="10" font-weight="normal" fill="#1a1a1a" textLength="52.30" lengthAdjust="spacingAndGlyphs"  stroke="#1a1a1a" stroke-width="0.35">Enrichment score</text>
<text transform="translate(51.80,638.47) rotate(-90)" x="0" y="0" font-size="9.3" font-weight="normal" fill="#1a1a1a" textLength="13.33" lengthAdjust="spacingAndGlyphs"  stroke="#1a1a1a" stroke-width="0.35">(ES)</text>
<text transform="translate(308.00,658.40) rotate(-90)" x="0" y="0" font-size="10" font-weight="normal" fill="#1a1a1a" textLength="52.30" lengthAdjust="spacingAndGlyphs"  stroke="#1a1a1a" stroke-width="0.35">Enrichment score</text>
<text transform="translate(318.70,638.07) rotate(-90)" x="0" y="0" font-size="9.3" font-weight="normal" fill="#1a1a1a" textLength="13.73" lengthAdjust="spacingAndGlyphs"  stroke="#1a1a1a" stroke-width="0.35">(ES)</text>
<text transform="translate(41.80,489.46) rotate(-90)" x="0" y="0" font-size="9.3" font-weight="normal" fill="#1a1a1a" textLength="54.43" lengthAdjust="spacingAndGlyphs"  stroke="#1a1a1a" stroke-width="0.35">Ranked list metric</text>
<text transform="translate(52.30,499.86) rotate(-90)" x="0" y="0" font-size="9.3" font-weight="normal" fill="#1a1a1a" textLength="73.83" lengthAdjust="spacingAndGlyphs"  stroke="#1a1a1a" stroke-width="0.35">(log2_ratio_of_classes)</text>
<text transform="translate(307.60,489.86) rotate(-90)" x="0" y="0" font-size="9.3" font-weight="normal" fill="#1a1a1a" textLength="55.13" lengthAdjust="spacingAndGlyphs"  stroke="#1a1a1a" stroke-width="0.35">Ranked list metric</text>
<text transform="translate(318.60,500.76) rotate(-90)" x="0" y="0" font-size="9.3" font-weight="normal" fill="#1a1a1a" textLength="74.73" lengthAdjust="spacingAndGlyphs"  stroke="#1a1a1a" stroke-width="0.35">(log2_ratio_of_classes)</text>
<text transform="translate(45.20,729.26) rotate(-90)" x="0" y="0" font-size="9.3" font-weight="normal" fill="#1a1a1a" textLength="55.73" lengthAdjust="spacingAndGlyphs"  stroke="#1a1a1a" stroke-width="0.35">Ranked list metric</text>
<text transform="translate(55.40,739.07) rotate(-90)" x="0" y="0" font-size="9.3" font-weight="normal" fill="#1a1a1a" textLength="74.73" lengthAdjust="spacingAndGlyphs"  stroke="#1a1a1a" stroke-width="0.35">(log2_ratio_of_classes)</text>
<text transform="translate(314.10,727.07) rotate(-90)" x="0" y="0" font-size="9.3" font-weight="normal" fill="#1a1a1a" textLength="55.13" lengthAdjust="spacingAndGlyphs"  stroke="#1a1a1a" stroke-width="0.35">Ranked list metric</text>
<text transform="translate(325.00,737.87) rotate(-90)" x="0" y="0" font-size="9.3" font-weight="normal" fill="#1a1a1a" textLength="74.13" lengthAdjust="spacingAndGlyphs"  stroke="#1a1a1a" stroke-width="0.35">(log2_ratio_of_classes)</text>
<text x="108.40" y="515.40" font-size="10" font-weight="normal" fill="#1a1a1a" textLength="73.10" lengthAdjust="spacingAndGlyphs"  stroke="#1a1a1a" stroke-width="0.35">Rank in ordered dataset</text>
<text x="378.00" y="519.40" font-size="10" font-weight="normal" fill="#1a1a1a" textLength="71.00" lengthAdjust="spacingAndGlyphs"  stroke="#1a1a1a" stroke-width="0.35">Rank in ordered dataset</text>
<text x="109.00" y="753.30" font-size="10" font-weight="normal" fill="#1a1a1a" textLength="72.90" lengthAdjust="spacingAndGlyphs"  stroke="#1a1a1a" stroke-width="0.35">Rank in ordered dataset</text>
<text x="376.40" y="749.90" font-size="10" font-weight="normal" fill="#1a1a1a" textLength="71.30" lengthAdjust="spacingAndGlyphs"  stroke="#1a1a1a" stroke-width="0.35">Rank in ordered dataset</text>
<line x1="48.90" y1="530.60" x2="54.40" y2="530.60" stroke="#a3b06e" stroke-width="1.3" />
<text x="59.74" y="532.90" font-size="7.2" font-weight="normal" fill="#222" textLength="55.72" lengthAdjust="spacingAndGlyphs"  stroke="#222" stroke-width="0.12">Enrichment profile</text>
<line x1="120.40" y1="530.60" x2="126.70" y2="530.60" stroke="#000" stroke-width="1.6" />
<text x="130.64" y="532.90" font-size="7.2" font-weight="normal" fill="#222" textLength="12.32" lengthAdjust="spacingAndGlyphs"  stroke="#222" stroke-width="0.12">Hits</text>
<line x1="147.40" y1="529.80" x2="154.30" y2="529.80" stroke="#d8d8d8" stroke-width="0.9" />
<line x1="155.30" y1="530.60" x2="162.20" y2="530.60" stroke="#cccccc" stroke-width="1.0" />
<text x="166.74" y="532.90" font-size="7.2" font-weight="normal" fill="#222" textLength="69.92" lengthAdjust="spacingAndGlyphs"  stroke="#222" stroke-width="0.12">Ranking metric scores</text>
<line x1="317.70" y1="531.20" x2="324.60" y2="531.20" stroke="#a3b06e" stroke-width="1.3" />
<text x="328.14" y="533.50" font-size="7.2" font-weight="normal" fill="#222" textLength="56.02" lengthAdjust="spacingAndGlyphs"  stroke="#222" stroke-width="0.12">Enrichment profile</text>
<line x1="388.80" y1="531.20" x2="395.40" y2="531.20" stroke="#000" stroke-width="1.6" />
<text x="398.84" y="533.50" font-size="7.2" font-weight="normal" fill="#222" textLength="13.42" lengthAdjust="spacingAndGlyphs"  stroke="#222" stroke-width="0.12">Hits</text>
<line x1="415.80" y1="530.40" x2="423.00" y2="530.40" stroke="#d8d8d8" stroke-width="0.9" />
<line x1="424.00" y1="531.20" x2="431.20" y2="531.20" stroke="#cccccc" stroke-width="1.0" />
<text x="435.84" y="533.50" font-size="7.2" font-weight="normal" fill="#222" textLength="69.92" lengthAdjust="spacingAndGlyphs"  stroke="#222" stroke-width="0.12">Ranking metric scores</text>
<line x1="48.90" y1="762.20" x2="55.30" y2="762.20" stroke="#a3b06e" stroke-width="1.3" />
<text x="59.84" y="764.50" font-size="7.2" font-weight="normal" fill="#222" textLength="56.42" lengthAdjust="spacingAndGlyphs"  stroke="#222" stroke-width="0.12">Enrichment profile</text>
<line x1="120.80" y1="762.20" x2="126.80" y2="762.20" stroke="#000" stroke-width="1.6" />
<text x="130.94" y="764.50" font-size="7.2" font-weight="normal" fill="#222" textLength="13.22" lengthAdjust="spacingAndGlyphs"  stroke="#222" stroke-width="0.12">Hits</text>
<line x1="148.20" y1="761.40" x2="155.20" y2="761.40" stroke="#d8d8d8" stroke-width="0.9" />
<line x1="156.20" y1="762.20" x2="163.20" y2="762.20" stroke="#cccccc" stroke-width="1.0" />
<text x="168.04" y="764.50" font-size="7.2" font-weight="normal" fill="#222" textLength="70.22" lengthAdjust="spacingAndGlyphs"  stroke="#222" stroke-width="0.12">Ranking metric scores</text>
<line x1="316.30" y1="762.40" x2="323.20" y2="762.40" stroke="#a3b06e" stroke-width="1.3" />
<text x="326.84" y="764.70" font-size="7.2" font-weight="normal" fill="#222" textLength="56.02" lengthAdjust="spacingAndGlyphs"  stroke="#222" stroke-width="0.12">Enrichment profile</text>
<line x1="387.80" y1="762.40" x2="393.90" y2="762.40" stroke="#000" stroke-width="1.6" />
<text x="397.54" y="764.70" font-size="7.2" font-weight="normal" fill="#222" textLength="13.62" lengthAdjust="spacingAndGlyphs"  stroke="#222" stroke-width="0.12">Hits</text>
<line x1="414.90" y1="761.60" x2="422.45" y2="761.60" stroke="#d8d8d8" stroke-width="0.9" />
<line x1="423.45" y1="762.40" x2="431.00" y2="762.40" stroke="#cccccc" stroke-width="1.0" />
<text x="434.64" y="764.70" font-size="7.2" font-weight="normal" fill="#222" textLength="69.42" lengthAdjust="spacingAndGlyphs"  stroke="#222" stroke-width="0.12">Ranking metric scores</text>
<rect x="0.7" y="0.7" width="518.0" height="772.4" fill="none" stroke="#000" stroke-width="1.4"/>
</svg>
</body></html>
